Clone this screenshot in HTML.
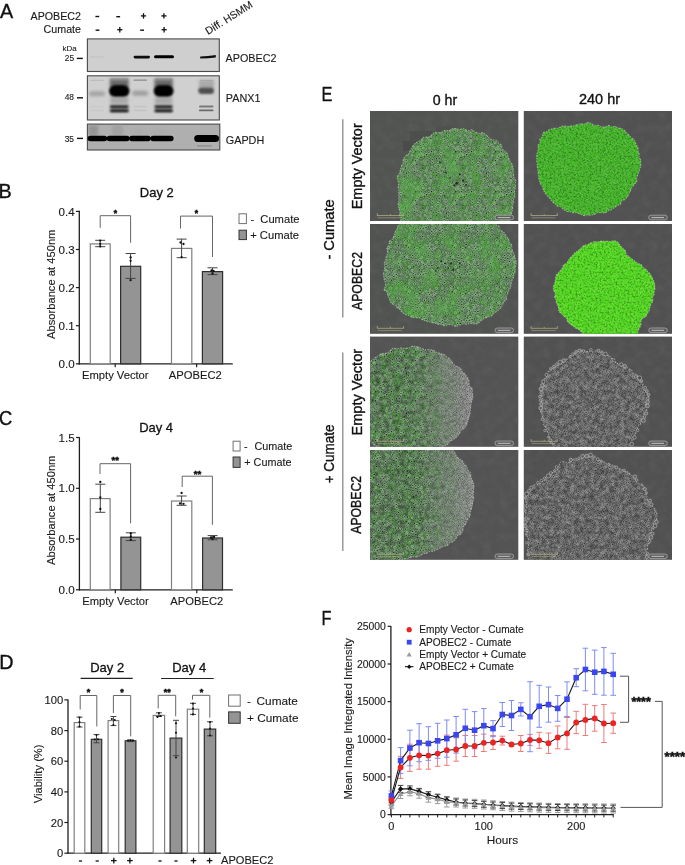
<!DOCTYPE html><html><head><meta charset="utf-8"><title>Figure</title><style>
html,body{margin:0;padding:0;background:#fff;overflow:hidden;}svg{display:block;will-change:transform;}
text{font-family:"Liberation Sans",sans-serif;}
</style></head><body>
<svg width="685" height="865" viewBox="0 0 685 865">
<rect width="685" height="865" fill="#fff"/>
<defs>
<filter id="blur1" x="-20%" y="-50%" width="140%" height="200%"><feGaussianBlur stdDeviation="0.9"/></filter>
<filter id="blur2" x="-20%" y="-80%" width="140%" height="260%"><feGaussianBlur stdDeviation="1.6"/></filter>
<filter id="blur3" x="-30%" y="-100%" width="160%" height="300%"><feGaussianBlur stdDeviation="2.5"/></filter>
<filter id="gp1" x="0" y="0" width="100%" height="100%" color-interpolation-filters="sRGB"><feTurbulence type="fractalNoise" baseFrequency="0.05" numOctaves="2" seed="31" result="n"/><feColorMatrix in="n" type="matrix" values="0 0 0 0 0.314  0 0 0 0 0.714  0 0 0 0 0.235  0 1.2 0 0 -0.500" result="m"/><feComposite in="m" in2="SourceGraphic" operator="in"/></filter>
<filter id="gp2" x="0" y="0" width="100%" height="100%" color-interpolation-filters="sRGB"><feTurbulence type="fractalNoise" baseFrequency="0.05" numOctaves="2" seed="37" result="n"/><feColorMatrix in="n" type="matrix" values="0 0 0 0 0.314  0 0 0 0 0.714  0 0 0 0 0.235  0 1.2 0 0 -0.500" result="m"/><feComposite in="m" in2="SourceGraphic" operator="in"/></filter>
</defs>
<text x="0" y="0" font-size="20.4" text-anchor="start" fill="#111" stroke="#111" stroke-width="0.35" transform="translate(0.0,18.0) scale(0.97,1)">A</text>
<text x="81.0" y="19.8" font-size="10.7" text-anchor="end" fill="#1a1a1a" stroke="#1a1a1a" stroke-width="0.12" >APOBEC2</text>
<text x="81.0" y="33.4" font-size="10.7" text-anchor="end" fill="#1a1a1a" stroke="#1a1a1a" stroke-width="0.12" >Cumate</text>
<line x1="95.4" y1="16.5" x2="99.2" y2="16.5" stroke="#111" stroke-width="1.4" />
<line x1="116.3" y1="16.7" x2="120.1" y2="16.7" stroke="#111" stroke-width="1.4" />
<line x1="140.9" y1="15.9" x2="146.1" y2="15.9" stroke="#111" stroke-width="1.3" />
<line x1="143.5" y1="13.2" x2="143.5" y2="18.6" stroke="#111" stroke-width="1.3" />
<line x1="161.3" y1="15.9" x2="166.5" y2="15.9" stroke="#111" stroke-width="1.3" />
<line x1="163.9" y1="13.2" x2="163.9" y2="18.6" stroke="#111" stroke-width="1.3" />
<line x1="95.6" y1="30.2" x2="99.4" y2="30.2" stroke="#111" stroke-width="1.4" />
<line x1="117.2" y1="29.7" x2="122.4" y2="29.7" stroke="#111" stroke-width="1.3" />
<line x1="119.8" y1="27.0" x2="119.8" y2="32.4" stroke="#111" stroke-width="1.3" />
<line x1="140.2" y1="30.2" x2="144.0" y2="30.2" stroke="#111" stroke-width="1.4" />
<line x1="161.5" y1="29.7" x2="166.7" y2="29.7" stroke="#111" stroke-width="1.3" />
<line x1="164.1" y1="27.0" x2="164.1" y2="32.4" stroke="#111" stroke-width="1.3" />
<text x="0" y="0" font-size="10.5" fill="#1a1a1a" stroke="#1a1a1a" stroke-width="0.12" transform="translate(208.0,35.0) rotate(-32)">Diff. HSMM</text>
<text x="62.6" y="50.5" font-size="7.9" text-anchor="start" fill="#222" stroke="#222" stroke-width="0.12" >kDa</text>
<text x="74.2" y="61.4" font-size="8.4" text-anchor="end" fill="#222" stroke="#222" stroke-width="0.12" >25</text>
<text x="74.0" y="100.3" font-size="8.4" text-anchor="end" fill="#222" stroke="#222" stroke-width="0.12" >48</text>
<text x="74.0" y="141.6" font-size="8.4" text-anchor="end" fill="#222" stroke="#222" stroke-width="0.12" >35</text>
<line x1="76.8" y1="58.4" x2="82.8" y2="58.4" stroke="#111" stroke-width="1.4" />
<line x1="77.0" y1="97.8" x2="83.0" y2="97.8" stroke="#111" stroke-width="1.4" />
<line x1="77.0" y1="138.4" x2="83.0" y2="138.4" stroke="#111" stroke-width="1.4" />
<text x="225.5" y="62.0" font-size="10.8" text-anchor="start" fill="#1a1a1a" stroke="#1a1a1a" stroke-width="0.12" >APOBEC2</text>
<text x="225.8" y="102.1" font-size="10.8" text-anchor="start" fill="#1a1a1a" stroke="#1a1a1a" stroke-width="0.12" >PANX1</text>
<text x="225.8" y="144.1" font-size="10.8" text-anchor="start" fill="#1a1a1a" stroke="#1a1a1a" stroke-width="0.12" >GAPDH</text>
<rect x="87.4" y="38.9" width="131.9" height="32.6" fill="#cfcfcf" stroke="#4a4a4a" stroke-width="1.1"/>
<rect x="87.4" y="75.8" width="131.9" height="44.2" fill="#d0d0d0" stroke="#4a4a4a" stroke-width="1.1"/>
<rect x="87.4" y="124.1" width="132.4" height="25.9" fill="#afafaf" stroke="#4a4a4a" stroke-width="1.1"/>
<defs><filter id="bl04" x="-20%" y="-100%" width="140%" height="300%"><feGaussianBlur stdDeviation="0.45"/></filter><filter id="bl06" x="-20%" y="-100%" width="140%" height="300%"><feGaussianBlur stdDeviation="0.6"/></filter><filter id="bl10" x="-30%" y="-100%" width="160%" height="300%"><feGaussianBlur stdDeviation="1.0"/></filter><filter id="bl15" x="-30%" y="-100%" width="160%" height="300%"><feGaussianBlur stdDeviation="1.5"/></filter><filter id="bl25" x="-40%" y="-100%" width="180%" height="300%"><feGaussianBlur stdDeviation="2.5"/></filter></defs>
<rect x="133.6" y="55.7" width="16.4" height="2.8" rx="1.4" fill="#0a0a0a" opacity="1" filter="url(#bl04)"/>
<rect x="154.0" y="55.2" width="20.0" height="3.0" rx="1.5" fill="#050505" opacity="1" filter="url(#bl04)"/>
<path d="M200.2,56.6 Q208,56.4 215.8,55.0 L215.8,57.4 Q208,58.4 200.2,58.6 Z" fill="#111" filter="url(#bl04)"/>
<rect x="90.0" y="56.2" width="14.0" height="1.2" rx="0.6" fill="#c4c4c4" opacity="1" filter="url(#bl06)"/>
<rect x="109.8" y="78.5" width="18.9" height="9" fill="#5a5a5a" opacity="0.85" filter="url(#bl15)"/>
<rect x="109.0" y="85.0" width="20.5" height="12.0" rx="6.0" fill="#020202" opacity="1" filter="url(#bl10)"/>
<rect x="109.8" y="105.0" width="18.9" height="3.6" rx="1.8" fill="#2a2a2a" opacity="1" filter="url(#bl10)"/>
<rect x="109.8" y="109.2" width="18.9" height="3.0" rx="1.5" fill="#0a0a0a" opacity="1" filter="url(#bl10)"/>
<rect x="110.3" y="97" width="17.9" height="7" fill="#888" opacity="0.55" filter="url(#bl15)"/>
<rect x="110.3" y="79.3" width="17.9" height="1.3" rx="0.7" fill="#8a8a8a" opacity="1" filter="url(#bl06)"/>
<rect x="154.4" y="78.5" width="18.4" height="9" fill="#5a5a5a" opacity="0.85" filter="url(#bl15)"/>
<rect x="153.6" y="85.0" width="20.0" height="12.0" rx="6.0" fill="#020202" opacity="1" filter="url(#bl10)"/>
<rect x="154.4" y="105.0" width="18.4" height="3.6" rx="1.8" fill="#2a2a2a" opacity="1" filter="url(#bl10)"/>
<rect x="154.4" y="109.2" width="18.4" height="3.0" rx="1.5" fill="#0a0a0a" opacity="1" filter="url(#bl10)"/>
<rect x="154.9" y="97" width="17.4" height="7" fill="#888" opacity="0.55" filter="url(#bl15)"/>
<rect x="154.9" y="79.3" width="17.4" height="1.3" rx="0.7" fill="#8a8a8a" opacity="1" filter="url(#bl06)"/>
<rect x="89.0" y="91.3" width="16.0" height="5.0" rx="2.5" fill="#a4a4a4" opacity="1" filter="url(#bl15)"/>
<rect x="132.2" y="90.7" width="16.0" height="5.0" rx="2.5" fill="#9e9e9e" opacity="1" filter="url(#bl15)"/>
<rect x="133.5" y="79.6" width="13.5" height="1.2" rx="0.6" fill="#8a8a8a" opacity="1" filter="url(#bl04)"/>
<rect x="90.0" y="79.7" width="14.0" height="1.0" rx="0.5" fill="#b8b8b8" opacity="1" filter="url(#bl04)"/>
<rect x="133.5" y="105.7" width="13.5" height="1.6" rx="0.8" fill="#c4c4c4" opacity="1" filter="url(#bl06)"/>
<rect x="133.5" y="109.8" width="13.5" height="1.4" rx="0.7" fill="#c2c2c2" opacity="1" filter="url(#bl06)"/>
<rect x="90.0" y="105.8" width="14.0" height="1.4" rx="0.7" fill="#cacaca" opacity="1" filter="url(#bl06)"/>
<rect x="90.0" y="109.8" width="14.0" height="1.4" rx="0.7" fill="#c8c8c8" opacity="1" filter="url(#bl06)"/>
<rect x="199" y="80" width="15" height="8" fill="#9a9a9a" opacity="0.7" filter="url(#bl15)"/>
<rect x="198.3" y="87.5" width="15.7" height="6.5" rx="3.2" fill="#505050" opacity="1" filter="url(#bl10)"/>
<rect x="199.0" y="105.6" width="14.5" height="2.0" rx="1.0" fill="#7a7a7a" opacity="1" filter="url(#bl06)"/>
<rect x="199.0" y="109.5" width="14.5" height="1.8" rx="0.9" fill="#6a6a6a" opacity="1" filter="url(#bl06)"/>
<rect x="200.0" y="80.1" width="13.0" height="1.0" rx="0.5" fill="#a8a8a8" opacity="1" filter="url(#bl04)"/>
<rect x="89" y="125" width="9" height="11" fill="#8a8a8a" opacity="0.7" filter="url(#bl15)"/>
<rect x="112" y="125" width="11" height="11" fill="#999" opacity="0.6" filter="url(#bl15)"/>
<rect x="134" y="126" width="9" height="9" fill="#aaa" opacity="0.4" filter="url(#bl15)"/>
<rect x="154" y="126" width="10" height="9" fill="#aaa" opacity="0.4" filter="url(#bl15)"/>
<rect x="87.6" y="135.8" width="19.6" height="5.4" rx="2.7" fill="#030303" opacity="1" filter="url(#bl06)"/>
<rect x="106.6" y="135.8" width="23.0" height="5.4" rx="2.7" fill="#030303" opacity="1" filter="url(#bl06)"/>
<rect x="129.2" y="135.8" width="21.6" height="5.4" rx="2.7" fill="#030303" opacity="1" filter="url(#bl06)"/>
<rect x="150.4" y="135.8" width="23.2" height="5.4" rx="2.7" fill="#030303" opacity="1" filter="url(#bl06)"/>
<rect x="194.2" y="134.9" width="24.8" height="7.0" rx="3.5" fill="#020202" opacity="1" filter="url(#bl06)"/>
<rect x="197.0" y="145.2" width="15.0" height="1.2" rx="0.6" fill="#8a8a8a" opacity="1" filter="url(#bl06)"/>
<text x="0" y="0" font-size="19.8" text-anchor="start" fill="#111" stroke="#111" stroke-width="0.35" transform="translate(-1.6,197.7) scale(1.0,1)">B</text>
<text x="0" y="0" font-size="13.4" text-anchor="middle" fill="#111" stroke="#111" stroke-width="0.3" transform="translate(156.8,197.3) scale(0.97,1)">Day 2</text>
<line x1="79.3" y1="210.8" x2="79.3" y2="364.4" stroke="#1e1e1e" stroke-width="1.3" />
<line x1="78.7" y1="363.8" x2="232.8" y2="363.8" stroke="#1e1e1e" stroke-width="1.3" />
<line x1="75.9" y1="363.8" x2="79.3" y2="363.8" stroke="#1e1e1e" stroke-width="1.2" />
<text x="74.6" y="367.9" font-size="11.6" text-anchor="end" fill="#1a1a1a" stroke="#1a1a1a" stroke-width="0.12" >0.0</text>
<line x1="75.9" y1="325.7" x2="79.3" y2="325.7" stroke="#1e1e1e" stroke-width="1.2" />
<text x="74.6" y="329.8" font-size="11.6" text-anchor="end" fill="#1a1a1a" stroke="#1a1a1a" stroke-width="0.12" >0.1</text>
<line x1="75.9" y1="287.6" x2="79.3" y2="287.6" stroke="#1e1e1e" stroke-width="1.2" />
<text x="74.6" y="291.7" font-size="11.6" text-anchor="end" fill="#1a1a1a" stroke="#1a1a1a" stroke-width="0.12" >0.2</text>
<line x1="75.9" y1="249.5" x2="79.3" y2="249.5" stroke="#1e1e1e" stroke-width="1.2" />
<text x="74.6" y="253.6" font-size="11.6" text-anchor="end" fill="#1a1a1a" stroke="#1a1a1a" stroke-width="0.12" >0.3</text>
<line x1="75.9" y1="211.4" x2="79.3" y2="211.4" stroke="#1e1e1e" stroke-width="1.2" />
<text x="74.6" y="215.5" font-size="11.6" text-anchor="end" fill="#1a1a1a" stroke="#1a1a1a" stroke-width="0.12" >0.4</text>
<line x1="115.2" y1="363.8" x2="115.2" y2="367.2" stroke="#1e1e1e" stroke-width="1.2" />
<line x1="196.6" y1="363.8" x2="196.6" y2="367.2" stroke="#1e1e1e" stroke-width="1.2" />
<text x="0" y="0" font-size="11.2" fill="#1a1a1a" stroke="#1a1a1a" stroke-width="0.12" text-anchor="middle" transform="translate(55.2,284.3) rotate(-90)">Absorbance at 450nm</text>
<text x="115.3" y="379.2" font-size="11.2" text-anchor="middle" fill="#1a1a1a" stroke="#1a1a1a" stroke-width="0.12" >Empty Vector</text>
<text x="195.3" y="379.2" font-size="11.2" text-anchor="middle" fill="#1a1a1a" stroke="#1a1a1a" stroke-width="0.12" >APOBEC2</text>
<rect x="90.3" y="243.9" width="19.9" height="119.9" fill="#fff" stroke="#808080" stroke-width="1.2"/>
<rect x="120.6" y="266.3" width="20.1" height="97.5" fill="#949494" stroke="#2e2e2e" stroke-width="1.2"/>
<rect x="171.5" y="248.4" width="20.3" height="115.4" fill="#fff" stroke="#808080" stroke-width="1.2"/>
<rect x="202.4" y="271.6" width="20.2" height="92.2" fill="#949494" stroke="#2e2e2e" stroke-width="1.2"/>
<line x1="100.2" y1="240.3" x2="100.2" y2="246.7" stroke="#444" stroke-width="1.0" />
<line x1="95.2" y1="240.3" x2="105.2" y2="240.3" stroke="#444" stroke-width="1.0" />
<line x1="95.2" y1="246.7" x2="105.2" y2="246.7" stroke="#444" stroke-width="1.0" />
<circle cx="100.2" cy="240.6" r="1.15" fill="#111"/>
<circle cx="100.2" cy="243.8" r="1.15" fill="#111"/>
<circle cx="100.2" cy="246.4" r="1.15" fill="#111"/>
<line x1="130.6" y1="253.5" x2="130.6" y2="278.4" stroke="#444" stroke-width="1.0" />
<line x1="125.6" y1="253.5" x2="135.6" y2="253.5" stroke="#444" stroke-width="1.0" />
<line x1="125.6" y1="278.4" x2="135.6" y2="278.4" stroke="#444" stroke-width="1.0" />
<circle cx="130.6" cy="257.5" r="1.15" fill="#111"/>
<circle cx="130.6" cy="260.8" r="1.15" fill="#111"/>
<circle cx="130.6" cy="280.2" r="1.15" fill="#111"/>
<line x1="181.6" y1="239.1" x2="181.6" y2="257.7" stroke="#444" stroke-width="1.0" />
<line x1="176.6" y1="239.1" x2="186.6" y2="239.1" stroke="#444" stroke-width="1.0" />
<line x1="176.6" y1="257.7" x2="186.6" y2="257.7" stroke="#444" stroke-width="1.0" />
<circle cx="180.5" cy="242.5" r="1.15" fill="#111"/>
<circle cx="183.5" cy="244.0" r="1.15" fill="#111"/>
<circle cx="181.6" cy="257.2" r="1.15" fill="#111"/>
<line x1="212.5" y1="267.8" x2="212.5" y2="274.6" stroke="#444" stroke-width="1.0" />
<line x1="207.5" y1="267.8" x2="217.5" y2="267.8" stroke="#444" stroke-width="1.0" />
<line x1="207.5" y1="274.6" x2="217.5" y2="274.6" stroke="#444" stroke-width="1.0" />
<circle cx="211.5" cy="270.5" r="1.15" fill="#111"/>
<circle cx="213.5" cy="271.0" r="1.15" fill="#111"/>
<circle cx="212.5" cy="273.5" r="1.15" fill="#111"/>
<polyline points="100.2,227.8 100.2,215.7 130.6,215.7 130.6,242.8" fill="none" stroke="#666" stroke-width="1.0" />
<polyline points="180.5,228.6 180.5,216.1 212.5,216.1 212.5,257.0" fill="none" stroke="#666" stroke-width="1.0" />
<text x="115.3" y="215.6" font-size="8.5" text-anchor="middle" fill="#111" font-weight="bold" stroke="#111" stroke-width="0.55">*</text>
<text x="196.5" y="216.0" font-size="8.5" text-anchor="middle" fill="#111" font-weight="bold" stroke="#111" stroke-width="0.55">*</text>
<rect x="239.0" y="213.8" width="7.4" height="9.8" fill="#fff" stroke="#707070" stroke-width="1"/>
<rect x="239.0" y="230.2" width="7.4" height="9.4" fill="#949494" stroke="#333" stroke-width="1"/>
<text x="250.6" y="222.8" font-size="11.2" text-anchor="start" fill="#1a1a1a" stroke="#1a1a1a" stroke-width="0.12" >-</text>
<text x="260.3" y="222.8" font-size="11.2" text-anchor="start" fill="#1a1a1a" stroke="#1a1a1a" stroke-width="0.12" >Cumate</text>
<text x="250.2" y="239.0" font-size="11.2" text-anchor="start" fill="#1a1a1a" stroke="#1a1a1a" stroke-width="0.12" >+ Cumate</text>
<text x="0" y="0" font-size="19.8" text-anchor="start" fill="#111" stroke="#111" stroke-width="0.35" transform="translate(-0.9,425.1) scale(0.93,1)">C</text>
<text x="0" y="0" font-size="13.4" text-anchor="middle" fill="#111" stroke="#111" stroke-width="0.3" transform="translate(156.1,432.3) scale(0.97,1)">Day 4</text>
<line x1="79.4" y1="437.1" x2="79.4" y2="590.4" stroke="#1e1e1e" stroke-width="1.3" />
<line x1="78.8" y1="589.8" x2="232.8" y2="589.8" stroke="#1e1e1e" stroke-width="1.3" />
<line x1="76.0" y1="589.8" x2="79.4" y2="589.8" stroke="#1e1e1e" stroke-width="1.2" />
<text x="74.6" y="593.9" font-size="11.6" text-anchor="end" fill="#1a1a1a" stroke="#1a1a1a" stroke-width="0.12" >0.0</text>
<line x1="76.0" y1="539.0" x2="79.4" y2="539.0" stroke="#1e1e1e" stroke-width="1.2" />
<text x="74.6" y="543.1" font-size="11.6" text-anchor="end" fill="#1a1a1a" stroke="#1a1a1a" stroke-width="0.12" >0.5</text>
<line x1="76.0" y1="488.3" x2="79.4" y2="488.3" stroke="#1e1e1e" stroke-width="1.2" />
<text x="74.6" y="492.4" font-size="11.6" text-anchor="end" fill="#1a1a1a" stroke="#1a1a1a" stroke-width="0.12" >1.0</text>
<line x1="76.0" y1="437.5" x2="79.4" y2="437.5" stroke="#1e1e1e" stroke-width="1.2" />
<text x="74.6" y="441.6" font-size="11.6" text-anchor="end" fill="#1a1a1a" stroke="#1a1a1a" stroke-width="0.12" >1.5</text>
<line x1="115.3" y1="589.8" x2="115.3" y2="593.2" stroke="#1e1e1e" stroke-width="1.2" />
<line x1="196.8" y1="589.8" x2="196.8" y2="593.2" stroke="#1e1e1e" stroke-width="1.2" />
<text x="0" y="0" font-size="11.2" fill="#1a1a1a" stroke="#1a1a1a" stroke-width="0.12" text-anchor="middle" transform="translate(55.0,510.3) rotate(-90)">Absorbance at 450nm</text>
<text x="115.5" y="605.3" font-size="11.2" text-anchor="middle" fill="#1a1a1a" stroke="#1a1a1a" stroke-width="0.12" >Empty Vector</text>
<text x="196.8" y="605.3" font-size="11.2" text-anchor="middle" fill="#1a1a1a" stroke="#1a1a1a" stroke-width="0.12" >APOBEC2</text>
<rect x="90.3" y="498.6" width="19.8" height="91.2" fill="#fff" stroke="#808080" stroke-width="1.2"/>
<rect x="120.9" y="537.2" width="19.8" height="52.6" fill="#949494" stroke="#2e2e2e" stroke-width="1.2"/>
<rect x="171.5" y="501.0" width="20.3" height="88.8" fill="#fff" stroke="#808080" stroke-width="1.2"/>
<rect x="202.6" y="538.0" width="19.9" height="51.8" fill="#949494" stroke="#2e2e2e" stroke-width="1.2"/>
<line x1="100.3" y1="484.2" x2="100.3" y2="512.3" stroke="#444" stroke-width="1.0" />
<line x1="95.3" y1="484.2" x2="105.3" y2="484.2" stroke="#444" stroke-width="1.0" />
<line x1="95.3" y1="512.3" x2="105.3" y2="512.3" stroke="#444" stroke-width="1.0" />
<circle cx="100.3" cy="482.0" r="1.15" fill="#111"/>
<circle cx="100.3" cy="497.5" r="1.15" fill="#111"/>
<circle cx="100.3" cy="509.0" r="1.15" fill="#111"/>
<line x1="130.8" y1="532.8" x2="130.8" y2="540.6" stroke="#444" stroke-width="1.0" />
<line x1="125.8" y1="532.8" x2="135.8" y2="532.8" stroke="#444" stroke-width="1.0" />
<line x1="125.8" y1="540.6" x2="135.8" y2="540.6" stroke="#444" stroke-width="1.0" />
<circle cx="130.8" cy="533.5" r="1.15" fill="#111"/>
<circle cx="130.8" cy="536.5" r="1.15" fill="#111"/>
<circle cx="130.8" cy="539.8" r="1.15" fill="#111"/>
<line x1="181.6" y1="496.0" x2="181.6" y2="505.3" stroke="#444" stroke-width="1.0" />
<line x1="176.6" y1="496.0" x2="186.6" y2="496.0" stroke="#444" stroke-width="1.0" />
<line x1="176.6" y1="505.3" x2="186.6" y2="505.3" stroke="#444" stroke-width="1.0" />
<circle cx="181.6" cy="493.0" r="1.15" fill="#111"/>
<circle cx="180.0" cy="503.5" r="1.15" fill="#111"/>
<circle cx="183.5" cy="503.8" r="1.15" fill="#111"/>
<line x1="212.6" y1="535.6" x2="212.6" y2="539.8" stroke="#444" stroke-width="1.0" />
<line x1="207.6" y1="535.6" x2="217.6" y2="535.6" stroke="#444" stroke-width="1.0" />
<line x1="207.6" y1="539.8" x2="217.6" y2="539.8" stroke="#444" stroke-width="1.0" />
<circle cx="211.0" cy="537.5" r="1.15" fill="#111"/>
<circle cx="214.0" cy="537.0" r="1.15" fill="#111"/>
<circle cx="212.5" cy="539.0" r="1.15" fill="#111"/>
<polyline points="100.0,473.9 100.0,463.7 130.6,463.7 130.6,523.4" fill="none" stroke="#666" stroke-width="1.0" />
<polyline points="182.2,487.0 182.2,476.2 212.4,476.2 212.4,524.9" fill="none" stroke="#666" stroke-width="1.0" />
<text x="115.3" y="463.0" font-size="9.5" text-anchor="middle" fill="#111" font-weight="bold" stroke="#111" stroke-width="0.55">**</text>
<text x="197.4" y="476.5" font-size="9.5" text-anchor="middle" fill="#111" font-weight="bold" stroke="#111" stroke-width="0.55">**</text>
<rect x="233.1" y="441.2" width="7.0" height="9.8" fill="#fff" stroke="#707070" stroke-width="1"/>
<rect x="233.1" y="457.0" width="7.0" height="10.4" fill="#949494" stroke="#333" stroke-width="1"/>
<text x="244.0" y="450.3" font-size="10.8" text-anchor="start" fill="#1a1a1a" stroke="#1a1a1a" stroke-width="0.12" >-</text>
<text x="254.5" y="450.3" font-size="10.8" text-anchor="start" fill="#1a1a1a" stroke="#1a1a1a" stroke-width="0.12" >Cumate</text>
<text x="244.3" y="466.3" font-size="10.8" text-anchor="start" fill="#1a1a1a" stroke="#1a1a1a" stroke-width="0.12" >+ Cumate</text>
<text x="0" y="0" font-size="19.8" text-anchor="start" fill="#111" stroke="#111" stroke-width="0.35" transform="translate(-0.8,668.5) scale(1.0,1)">D</text>
<text x="0" y="0" font-size="13.4" text-anchor="middle" fill="#111" stroke="#111" stroke-width="0.3" transform="translate(107.2,671.9) scale(0.97,1)">Day 2</text>
<text x="0" y="0" font-size="13.4" text-anchor="middle" fill="#111" stroke="#111" stroke-width="0.3" transform="translate(189.2,672.3) scale(0.97,1)">Day 4</text>
<line x1="80.6" y1="678.4" x2="132.7" y2="678.4" stroke="#222" stroke-width="1.2" />
<line x1="161.1" y1="678.5" x2="213.7" y2="678.5" stroke="#222" stroke-width="1.2" />
<line x1="68.0" y1="699.6" x2="68.0" y2="853.8" stroke="#1e1e1e" stroke-width="1.3" />
<line x1="67.4" y1="853.2" x2="221.0" y2="853.2" stroke="#1e1e1e" stroke-width="1.3" />
<line x1="64.4" y1="853.2" x2="68.0" y2="853.2" stroke="#1e1e1e" stroke-width="1.2" />
<text x="63.2" y="857.2" font-size="11.2" text-anchor="end" fill="#1a1a1a" stroke="#1a1a1a" stroke-width="0.12" >0</text>
<line x1="64.4" y1="822.5" x2="68.0" y2="822.5" stroke="#1e1e1e" stroke-width="1.2" />
<text x="63.2" y="826.5" font-size="11.2" text-anchor="end" fill="#1a1a1a" stroke="#1a1a1a" stroke-width="0.12" >20</text>
<line x1="64.4" y1="791.9" x2="68.0" y2="791.9" stroke="#1e1e1e" stroke-width="1.2" />
<text x="63.2" y="795.9" font-size="11.2" text-anchor="end" fill="#1a1a1a" stroke="#1a1a1a" stroke-width="0.12" >40</text>
<line x1="64.4" y1="761.2" x2="68.0" y2="761.2" stroke="#1e1e1e" stroke-width="1.2" />
<text x="63.2" y="765.2" font-size="11.2" text-anchor="end" fill="#1a1a1a" stroke="#1a1a1a" stroke-width="0.12" >60</text>
<line x1="64.4" y1="730.6" x2="68.0" y2="730.6" stroke="#1e1e1e" stroke-width="1.2" />
<text x="63.2" y="734.6" font-size="11.2" text-anchor="end" fill="#1a1a1a" stroke="#1a1a1a" stroke-width="0.12" >80</text>
<line x1="64.4" y1="699.9" x2="68.0" y2="699.9" stroke="#1e1e1e" stroke-width="1.2" />
<text x="63.2" y="703.9" font-size="11.2" text-anchor="end" fill="#1a1a1a" stroke="#1a1a1a" stroke-width="0.12" >100</text>
<text x="0" y="0" font-size="11.2" fill="#1a1a1a" stroke="#1a1a1a" stroke-width="0.12" text-anchor="middle" transform="translate(41.9,773.9) rotate(-90)">Viability (%)</text>
<rect x="74.2" y="722.6" width="10.6" height="130.6" fill="#fff" stroke="#808080" stroke-width="1.2"/>
<rect x="91.3" y="739.3" width="10.4" height="113.9" fill="#949494" stroke="#2e2e2e" stroke-width="1.2"/>
<rect x="108.1" y="720.6" width="10.6" height="132.6" fill="#fff" stroke="#808080" stroke-width="1.2"/>
<rect x="125.2" y="740.8" width="10.7" height="112.4" fill="#949494" stroke="#2e2e2e" stroke-width="1.2"/>
<rect x="153.2" y="715.4" width="11.4" height="137.8" fill="#fff" stroke="#808080" stroke-width="1.2"/>
<rect x="170.1" y="738.1" width="11.7" height="115.1" fill="#949494" stroke="#2e2e2e" stroke-width="1.2"/>
<rect x="187.3" y="709.2" width="11.4" height="144.0" fill="#fff" stroke="#808080" stroke-width="1.2"/>
<rect x="204.3" y="729.1" width="11.4" height="124.1" fill="#949494" stroke="#2e2e2e" stroke-width="1.2"/>
<line x1="79.5" y1="717.1" x2="79.5" y2="727.0" stroke="#444" stroke-width="1.0" />
<line x1="76.5" y1="717.1" x2="82.5" y2="717.1" stroke="#444" stroke-width="1.0" />
<line x1="76.5" y1="727.0" x2="82.5" y2="727.0" stroke="#444" stroke-width="1.0" />
<line x1="96.5" y1="734.6" x2="96.5" y2="742.8" stroke="#444" stroke-width="1.0" />
<line x1="93.5" y1="734.6" x2="99.5" y2="734.6" stroke="#444" stroke-width="1.0" />
<line x1="93.5" y1="742.8" x2="99.5" y2="742.8" stroke="#444" stroke-width="1.0" />
<line x1="113.4" y1="716.5" x2="113.4" y2="725.6" stroke="#444" stroke-width="1.0" />
<line x1="110.4" y1="716.5" x2="116.4" y2="716.5" stroke="#444" stroke-width="1.0" />
<line x1="110.4" y1="725.6" x2="116.4" y2="725.6" stroke="#444" stroke-width="1.0" />
<line x1="130.5" y1="740.0" x2="130.5" y2="741.6" stroke="#444" stroke-width="1.0" />
<line x1="127.5" y1="740.0" x2="133.5" y2="740.0" stroke="#444" stroke-width="1.0" />
<line x1="127.5" y1="741.6" x2="133.5" y2="741.6" stroke="#444" stroke-width="1.0" />
<line x1="158.9" y1="712.8" x2="158.9" y2="716.5" stroke="#444" stroke-width="1.0" />
<line x1="155.9" y1="712.8" x2="161.9" y2="712.8" stroke="#444" stroke-width="1.0" />
<line x1="155.9" y1="716.5" x2="161.9" y2="716.5" stroke="#444" stroke-width="1.0" />
<line x1="176.0" y1="720.3" x2="176.0" y2="755.7" stroke="#444" stroke-width="1.0" />
<line x1="173.0" y1="720.3" x2="179.0" y2="720.3" stroke="#444" stroke-width="1.0" />
<line x1="173.0" y1="755.7" x2="179.0" y2="755.7" stroke="#444" stroke-width="1.0" />
<line x1="193.0" y1="703.3" x2="193.0" y2="714.4" stroke="#444" stroke-width="1.0" />
<line x1="190.0" y1="703.3" x2="196.0" y2="703.3" stroke="#444" stroke-width="1.0" />
<line x1="190.0" y1="714.4" x2="196.0" y2="714.4" stroke="#444" stroke-width="1.0" />
<line x1="210.0" y1="721.8" x2="210.0" y2="735.8" stroke="#444" stroke-width="1.0" />
<line x1="207.0" y1="721.8" x2="213.0" y2="721.8" stroke="#444" stroke-width="1.0" />
<line x1="207.0" y1="735.8" x2="213.0" y2="735.8" stroke="#444" stroke-width="1.0" />
<circle cx="79.5" cy="717.5" r="1.05" fill="#111"/>
<circle cx="79.5" cy="722.0" r="1.05" fill="#111"/>
<circle cx="79.5" cy="726.5" r="1.05" fill="#111"/>
<circle cx="94.8" cy="739.5" r="1.05" fill="#111"/>
<circle cx="98.0" cy="739.3" r="1.05" fill="#111"/>
<circle cx="96.5" cy="735.0" r="1.05" fill="#111"/>
<circle cx="111.8" cy="719.0" r="1.05" fill="#111"/>
<circle cx="114.8" cy="720.0" r="1.05" fill="#111"/>
<circle cx="113.4" cy="725.0" r="1.05" fill="#111"/>
<circle cx="128.0" cy="740.6" r="1.05" fill="#111"/>
<circle cx="130.5" cy="740.4" r="1.05" fill="#111"/>
<circle cx="133.0" cy="740.5" r="1.05" fill="#111"/>
<circle cx="157.5" cy="717.0" r="1.05" fill="#111"/>
<circle cx="160.5" cy="716.0" r="1.05" fill="#111"/>
<circle cx="158.9" cy="713.0" r="1.05" fill="#111"/>
<circle cx="176.0" cy="723.3" r="1.05" fill="#111"/>
<circle cx="176.0" cy="732.8" r="1.05" fill="#111"/>
<circle cx="176.0" cy="757.5" r="1.05" fill="#111"/>
<circle cx="193.0" cy="703.6" r="1.05" fill="#111"/>
<circle cx="193.0" cy="708.6" r="1.05" fill="#111"/>
<circle cx="193.0" cy="714.4" r="1.05" fill="#111"/>
<circle cx="210.0" cy="722.0" r="1.05" fill="#111"/>
<circle cx="210.0" cy="728.6" r="1.05" fill="#111"/>
<circle cx="210.0" cy="735.5" r="1.05" fill="#111"/>
<polyline points="80.2,709.5 80.2,695.5 96.8,695.5 96.8,726.5" fill="none" stroke="#666" stroke-width="1.0" />
<polyline points="113.4,713.0 113.4,695.5 130.7,695.5 130.7,736.4" fill="none" stroke="#666" stroke-width="1.0" />
<polyline points="158.2,708.4 158.2,695.3 175.7,695.3 175.7,716.3" fill="none" stroke="#666" stroke-width="1.0" />
<polyline points="192.5,699.6 192.5,695.3 209.8,695.3 209.8,717.7" fill="none" stroke="#666" stroke-width="1.0" />
<text x="88.5" y="695.0" font-size="9" text-anchor="middle" fill="#111" font-weight="bold" stroke="#111" stroke-width="0.55">*</text>
<text x="122.0" y="695.0" font-size="9" text-anchor="middle" fill="#111" font-weight="bold" stroke="#111" stroke-width="0.55">*</text>
<text x="167.3" y="695.0" font-size="9" text-anchor="middle" fill="#111" font-weight="bold" stroke="#111" stroke-width="0.55">**</text>
<text x="201.4" y="695.0" font-size="9" text-anchor="middle" fill="#111" font-weight="bold" stroke="#111" stroke-width="0.55">*</text>
<line x1="78.9" y1="861.0" x2="82.1" y2="861.0" stroke="#111" stroke-width="1.3" />
<line x1="95.6" y1="861.0" x2="98.8" y2="861.0" stroke="#111" stroke-width="1.3" />
<line x1="111.0" y1="860.6" x2="116.6" y2="860.6" stroke="#111" stroke-width="1.3" />
<line x1="113.8" y1="857.8" x2="113.8" y2="863.4" stroke="#111" stroke-width="1.3" />
<line x1="127.1" y1="860.6" x2="132.7" y2="860.6" stroke="#111" stroke-width="1.3" />
<line x1="129.9" y1="857.8" x2="129.9" y2="863.4" stroke="#111" stroke-width="1.3" />
<line x1="158.4" y1="861.0" x2="161.6" y2="861.0" stroke="#111" stroke-width="1.3" />
<line x1="174.4" y1="861.0" x2="177.6" y2="861.0" stroke="#111" stroke-width="1.3" />
<line x1="190.7" y1="860.6" x2="196.3" y2="860.6" stroke="#111" stroke-width="1.3" />
<line x1="193.5" y1="857.8" x2="193.5" y2="863.4" stroke="#111" stroke-width="1.3" />
<line x1="206.8" y1="860.6" x2="212.4" y2="860.6" stroke="#111" stroke-width="1.3" />
<line x1="209.6" y1="857.8" x2="209.6" y2="863.4" stroke="#111" stroke-width="1.3" />
<text x="221.0" y="864.3" font-size="11.1" text-anchor="start" fill="#1a1a1a" stroke="#1a1a1a" stroke-width="0.12" >APOBEC2</text>
<rect x="228.6" y="695.0" width="11.6" height="11.2" fill="#fff" stroke="#707070" stroke-width="1"/>
<rect x="228.6" y="711.9" width="11.6" height="11.4" fill="#949494" stroke="#333" stroke-width="1"/>
<text x="247.0" y="705.0" font-size="11.8" text-anchor="start" fill="#1a1a1a" stroke="#1a1a1a" stroke-width="0.12" >-</text>
<text x="256.6" y="705.0" font-size="11.8" text-anchor="start" fill="#1a1a1a" stroke="#1a1a1a" stroke-width="0.12" >Cumate</text>
<text x="247.0" y="722.0" font-size="11.8" text-anchor="start" fill="#1a1a1a" stroke="#1a1a1a" stroke-width="0.12" >+ Cumate</text>
<text x="0" y="0" font-size="20.4" text-anchor="start" fill="#111" stroke="#111" stroke-width="0.35" transform="translate(321.6,101.0) scale(0.8,1)">E</text>
<text x="444.9" y="104.8" font-size="14" text-anchor="middle" fill="#111" textLength="24.5" lengthAdjust="spacingAndGlyphs" stroke="#111" stroke-width="0.35">0 hr</text>
<text x="599.5" y="104.3" font-size="14" text-anchor="middle" fill="#111" textLength="41" lengthAdjust="spacingAndGlyphs" stroke="#111" stroke-width="0.35">240 hr</text>
<text x="0" y="0" font-size="15" fill="#111" stroke="#111" stroke-width="0.35" text-anchor="middle" textLength="86.0" lengthAdjust="spacingAndGlyphs" transform="translate(362.0,166.3) rotate(-90)">Empty Vector</text>
<text x="0" y="0" font-size="15" fill="#111" stroke="#111" stroke-width="0.35" text-anchor="middle" textLength="58.0" lengthAdjust="spacingAndGlyphs" transform="translate(361.9,281.0) rotate(-90)">APOBEC2</text>
<text x="0" y="0" font-size="15" fill="#111" stroke="#111" stroke-width="0.35" text-anchor="middle" textLength="86.6" lengthAdjust="spacingAndGlyphs" transform="translate(361.8,392.2) rotate(-90)">Empty Vector</text>
<text x="0" y="0" font-size="15" fill="#111" stroke="#111" stroke-width="0.35" text-anchor="middle" textLength="58.0" lengthAdjust="spacingAndGlyphs" transform="translate(361.4,504.8) rotate(-90)">APOBEC2</text>
<text x="0" y="0" font-size="15" fill="#111" stroke="#111" stroke-width="0.35" text-anchor="middle" textLength="60.2" lengthAdjust="spacingAndGlyphs" transform="translate(334.2,229.5) rotate(-90)">- Cumate</text>
<text x="0" y="0" font-size="15" fill="#111" stroke="#111" stroke-width="0.35" text-anchor="middle" textLength="58.9" lengthAdjust="spacingAndGlyphs" transform="translate(334.4,453.9) rotate(-90)">+ Cumate</text>
<line x1="342.8" y1="119.3" x2="342.8" y2="317.4" stroke="#8a8a8a" stroke-width="1.3" />
<line x1="342.8" y1="352.4" x2="342.8" y2="551.0" stroke="#8a8a8a" stroke-width="1.3" />
<clipPath id="cp00"><rect x="370.0" y="111.0" width="148.3" height="110.0"/></clipPath>
<clipPath id="cp01"><rect x="523.8" y="111.0" width="148.2" height="110.0"/></clipPath>
<clipPath id="cp10"><rect x="370.0" y="224.0" width="148.3" height="109.8"/></clipPath>
<clipPath id="cp11"><rect x="523.8" y="224.0" width="148.2" height="109.8"/></clipPath>
<clipPath id="cp20"><rect x="370.0" y="336.6" width="148.3" height="110.2"/></clipPath>
<clipPath id="cp21"><rect x="523.8" y="336.6" width="148.2" height="110.2"/></clipPath>
<clipPath id="cp30"><rect x="370.0" y="450.0" width="148.3" height="109.8"/></clipPath>
<clipPath id="cp31"><rect x="523.8" y="450.0" width="148.2" height="109.8"/></clipPath>
<defs><filter id="bgn" x="0" y="0" width="100%" height="100%" color-interpolation-filters="sRGB"><feTurbulence type="fractalNoise" baseFrequency="0.12" numOctaves="2" seed="91"/><feColorMatrix type="matrix" values="0 0 0 0 0.45  0 0 0 0 0.45  0 0 0 0 0.45  0.45 0 0 0 -0.17"/><feComposite in2="SourceGraphic" operator="in"/></filter></defs>
<defs>
<pattern id="pGa" width="40" height="40" patternUnits="userSpaceOnUse"><rect width="40" height="40" fill="#626262"/><g stroke="#c8c8c8" stroke-width="0.5"><circle cx="5.4" cy="33.9" r="1.2" fill="#3c3c3c"/><circle cx="30.6" cy="10.2" r="0.9" fill="#535353"/><circle cx="19.8" cy="18.0" r="1.2" fill="#535353"/><circle cx="26.1" cy="31.5" r="1.0" fill="#474747"/><circle cx="3.8" cy="1.1" r="1.1" fill="#474747"/><circle cx="3.8" cy="41.1" r="1.1" fill="#474747"/><circle cx="33.4" cy="17.3" r="1.2" fill="#5f5f5f"/><circle cx="30.5" cy="0.1" r="1.2" fill="#535353"/><circle cx="30.5" cy="40.1" r="1.2" fill="#535353"/><circle cx="17.8" cy="28.9" r="1.1" fill="#5f5f5f"/><circle cx="9.2" cy="-2.2" r="1.1" fill="#3c3c3c"/><circle cx="9.2" cy="37.8" r="1.1" fill="#3c3c3c"/><circle cx="36.1" cy="1.2" r="1.2" fill="#535353"/><circle cx="36.1" cy="41.2" r="1.2" fill="#535353"/><circle cx="1.0" cy="21.7" r="1.0" fill="#535353"/><circle cx="41.0" cy="21.7" r="1.0" fill="#535353"/><circle cx="-2.4" cy="15.2" r="1.2" fill="#5f5f5f"/><circle cx="37.6" cy="15.2" r="1.2" fill="#5f5f5f"/><circle cx="8.7" cy="16.9" r="1.2" fill="#474747"/><circle cx="1.2" cy="8.9" r="1.1" fill="#474747"/><circle cx="41.2" cy="8.9" r="1.1" fill="#474747"/><circle cx="17.5" cy="19.8" r="0.9" fill="#474747"/><circle cx="9.3" cy="9.2" r="1.0" fill="#474747"/><circle cx="11.6" cy="0.9" r="1.1" fill="#535353"/><circle cx="11.6" cy="40.9" r="1.1" fill="#535353"/><circle cx="33.5" cy="22.3" r="1.2" fill="#474747"/><circle cx="25.7" cy="7.4" r="1.2" fill="#5f5f5f"/><circle cx="-0.3" cy="34.4" r="1.2" fill="#535353"/><circle cx="39.7" cy="34.4" r="1.2" fill="#535353"/><circle cx="4.8" cy="13.3" r="1.2" fill="#535353"/><circle cx="28.9" cy="28.4" r="1.0" fill="#5f5f5f"/><circle cx="33.2" cy="26.8" r="0.9" fill="#5f5f5f"/><circle cx="12.1" cy="23.5" r="1.1" fill="#5f5f5f"/><circle cx="35.3" cy="33.8" r="1.1" fill="#474747"/><circle cx="20.2" cy="23.6" r="1.0" fill="#5f5f5f"/><circle cx="6.9" cy="22.0" r="1.1" fill="#535353"/><circle cx="15.0" cy="17.6" r="1.1" fill="#5f5f5f"/><circle cx="20.3" cy="31.1" r="1.2" fill="#5f5f5f"/><circle cx="19.6" cy="1.2" r="1.0" fill="#5f5f5f"/><circle cx="19.6" cy="41.2" r="1.0" fill="#5f5f5f"/><circle cx="1.7" cy="28.1" r="1.0" fill="#474747"/><circle cx="41.7" cy="28.1" r="1.0" fill="#474747"/><circle cx="-0.7" cy="23.7" r="1.2" fill="#474747"/><circle cx="39.3" cy="23.7" r="1.2" fill="#474747"/><circle cx="15.7" cy="6.8" r="1.2" fill="#535353"/><circle cx="30.8" cy="21.6" r="1.2" fill="#5f5f5f"/><circle cx="34.4" cy="9.3" r="1.0" fill="#5f5f5f"/><circle cx="20.6" cy="-1.9" r="1.0" fill="#474747"/><circle cx="20.6" cy="38.1" r="1.0" fill="#474747"/><circle cx="23.1" cy="18.4" r="1.0" fill="#535353"/><circle cx="31.3" cy="32.8" r="1.2" fill="#3c3c3c"/><circle cx="35.4" cy="29.6" r="1.2" fill="#535353"/><circle cx="22.8" cy="8.0" r="1.1" fill="#474747"/><circle cx="14.3" cy="13.8" r="1.2" fill="#3c3c3c"/><circle cx="10.2" cy="33.7" r="0.9" fill="#3c3c3c"/><circle cx="26.9" cy="3.3" r="1.0" fill="#474747"/><circle cx="0.7" cy="0.6" r="1.1" fill="#3c3c3c"/><circle cx="0.7" cy="40.6" r="1.1" fill="#3c3c3c"/><circle cx="40.7" cy="0.6" r="1.1" fill="#3c3c3c"/><circle cx="40.7" cy="40.6" r="1.1" fill="#3c3c3c"/><circle cx="4.4" cy="25.0" r="1.2" fill="#474747"/><circle cx="13.8" cy="2.8" r="1.2" fill="#474747"/><circle cx="13.8" cy="42.8" r="1.2" fill="#474747"/><circle cx="6.7" cy="10.9" r="1.2" fill="#3c3c3c"/><circle cx="28.5" cy="18.2" r="1.0" fill="#3c3c3c"/><circle cx="0.9" cy="15.5" r="0.9" fill="#535353"/><circle cx="40.9" cy="15.5" r="0.9" fill="#535353"/><circle cx="5.9" cy="28.8" r="0.9" fill="#3c3c3c"/><circle cx="27.1" cy="21.8" r="0.9" fill="#3c3c3c"/><circle cx="8.9" cy="25.9" r="0.9" fill="#3c3c3c"/><circle cx="15.8" cy="23.0" r="1.0" fill="#474747"/><circle cx="2.4" cy="11.9" r="1.2" fill="#474747"/><circle cx="42.4" cy="11.9" r="1.2" fill="#474747"/><circle cx="12.4" cy="-2.4" r="1.1" fill="#3c3c3c"/><circle cx="12.4" cy="37.6" r="1.1" fill="#3c3c3c"/><circle cx="32.8" cy="-1.5" r="1.0" fill="#3c3c3c"/><circle cx="32.8" cy="38.5" r="1.0" fill="#3c3c3c"/><circle cx="11.8" cy="20.0" r="1.2" fill="#474747"/><circle cx="13.0" cy="34.9" r="0.9" fill="#3c3c3c"/><circle cx="-0.5" cy="31.3" r="0.9" fill="#3c3c3c"/><circle cx="39.5" cy="31.3" r="0.9" fill="#3c3c3c"/><circle cx="13.6" cy="8.5" r="1.0" fill="#5f5f5f"/><circle cx="9.4" cy="29.0" r="0.9" fill="#5f5f5f"/><circle cx="3.4" cy="6.8" r="1.1" fill="#3c3c3c"/><circle cx="31.3" cy="15.1" r="1.2" fill="#5f5f5f"/><circle cx="-3.0" cy="18.3" r="1.2" fill="#474747"/><circle cx="37.0" cy="18.3" r="1.2" fill="#474747"/><circle cx="4.1" cy="36.4" r="1.0" fill="#474747"/><circle cx="15.1" cy="-1.2" r="0.9" fill="#535353"/><circle cx="15.1" cy="38.8" r="0.9" fill="#535353"/><circle cx="36.4" cy="11.8" r="1.2" fill="#3c3c3c"/><circle cx="-0.7" cy="11.8" r="1.0" fill="#474747"/><circle cx="39.3" cy="11.8" r="1.0" fill="#474747"/><circle cx="-1.2" cy="4.5" r="1.1" fill="#5f5f5f"/><circle cx="38.8" cy="4.5" r="1.1" fill="#5f5f5f"/><circle cx="26.1" cy="25.7" r="1.0" fill="#535353"/><circle cx="23.2" cy="23.8" r="0.9" fill="#535353"/><circle cx="9.8" cy="2.9" r="1.0" fill="#5f5f5f"/><circle cx="9.8" cy="42.9" r="1.0" fill="#5f5f5f"/><circle cx="22.0" cy="2.8" r="1.1" fill="#474747"/><circle cx="22.0" cy="42.8" r="1.1" fill="#474747"/><circle cx="19.7" cy="34.5" r="1.1" fill="#535353"/><circle cx="31.8" cy="3.1" r="0.9" fill="#474747"/><circle cx="-2.0" cy="6.9" r="0.9" fill="#5f5f5f"/><circle cx="38.0" cy="6.9" r="0.9" fill="#5f5f5f"/><circle cx="32.9" cy="12.8" r="1.1" fill="#3c3c3c"/><circle cx="4.3" cy="20.6" r="1.2" fill="#474747"/><circle cx="25.9" cy="16.7" r="1.1" fill="#3c3c3c"/><circle cx="19.2" cy="9.0" r="1.0" fill="#474747"/><circle cx="36.3" cy="36.7" r="1.1" fill="#535353"/><circle cx="27.7" cy="34.0" r="1.0" fill="#5f5f5f"/><circle cx="14.9" cy="28.1" r="1.0" fill="#3c3c3c"/><circle cx="17.8" cy="37.0" r="0.9" fill="#5f5f5f"/><circle cx="15.3" cy="11.4" r="1.0" fill="#3c3c3c"/><circle cx="22.9" cy="12.5" r="1.1" fill="#3c3c3c"/><circle cx="20.1" cy="14.3" r="0.9" fill="#3c3c3c"/><circle cx="12.2" cy="16.0" r="0.9" fill="#474747"/><circle cx="23.9" cy="35.3" r="0.9" fill="#3c3c3c"/><circle cx="16.2" cy="34.4" r="1.1" fill="#5f5f5f"/><circle cx="23.4" cy="29.4" r="1.0" fill="#5f5f5f"/><circle cx="16.9" cy="14.2" r="0.9" fill="#474747"/><circle cx="26.3" cy="0.8" r="1.1" fill="#5f5f5f"/><circle cx="26.3" cy="40.8" r="1.1" fill="#5f5f5f"/><circle cx="6.9" cy="31.6" r="1.0" fill="#3c3c3c"/><circle cx="31.4" cy="7.6" r="1.1" fill="#3c3c3c"/><circle cx="21.1" cy="5.5" r="1.2" fill="#474747"/><circle cx="28.7" cy="12.2" r="1.2" fill="#5f5f5f"/><circle cx="4.3" cy="15.9" r="1.0" fill="#3c3c3c"/><circle cx="8.0" cy="35.2" r="1.1" fill="#535353"/><circle cx="2.1" cy="3.6" r="1.1" fill="#535353"/><circle cx="42.1" cy="3.6" r="1.1" fill="#535353"/><circle cx="17.7" cy="5.1" r="1.0" fill="#5f5f5f"/><circle cx="9.8" cy="22.3" r="0.9" fill="#535353"/><circle cx="1.7" cy="32.6" r="0.9" fill="#3c3c3c"/><circle cx="41.7" cy="32.6" r="0.9" fill="#3c3c3c"/><circle cx="26.0" cy="12.5" r="1.2" fill="#3c3c3c"/><circle cx="13.0" cy="29.9" r="1.0" fill="#5f5f5f"/><circle cx="23.0" cy="-0.3" r="1.0" fill="#3c3c3c"/><circle cx="23.0" cy="39.7" r="1.0" fill="#3c3c3c"/><circle cx="6.7" cy="5.9" r="0.9" fill="#3c3c3c"/><circle cx="12.3" cy="12.1" r="1.0" fill="#3c3c3c"/><circle cx="35.8" cy="26.8" r="0.9" fill="#5f5f5f"/><circle cx="-1.1" cy="28.6" r="0.9" fill="#535353"/><circle cx="38.9" cy="28.6" r="0.9" fill="#535353"/><circle cx="22.0" cy="21.4" r="1.0" fill="#5f5f5f"/><circle cx="34.2" cy="4.2" r="0.9" fill="#535353"/><circle cx="32.5" cy="35.7" r="1.0" fill="#3c3c3c"/><circle cx="13.2" cy="5.6" r="1.0" fill="#3c3c3c"/><circle cx="2.1" cy="18.8" r="0.9" fill="#535353"/><circle cx="42.1" cy="18.8" r="0.9" fill="#535353"/><circle cx="6.2" cy="-1.1" r="1.1" fill="#474747"/><circle cx="6.2" cy="38.9" r="1.1" fill="#474747"/><circle cx="36.5" cy="21.5" r="1.1" fill="#3c3c3c"/><circle cx="17.1" cy="31.8" r="1.1" fill="#5f5f5f"/><circle cx="31.2" cy="24.9" r="1.2" fill="#5f5f5f"/><circle cx="26.9" cy="36.9" r="1.0" fill="#5f5f5f"/><circle cx="23.5" cy="26.5" r="0.9" fill="#535353"/><circle cx="17.5" cy="25.7" r="1.0" fill="#5f5f5f"/><circle cx="24.2" cy="4.6" r="1.1" fill="#5f5f5f"/><circle cx="6.0" cy="18.3" r="1.2" fill="#535353"/><circle cx="7.7" cy="14.2" r="1.0" fill="#474747"/><circle cx="-1.1" cy="-2.3" r="1.0" fill="#535353"/><circle cx="-1.1" cy="37.7" r="1.0" fill="#535353"/><circle cx="38.9" cy="-2.3" r="1.0" fill="#535353"/><circle cx="38.9" cy="37.7" r="1.0" fill="#535353"/><circle cx="28.8" cy="8.2" r="1.1" fill="#3c3c3c"/><circle cx="20.9" cy="26.1" r="1.1" fill="#3c3c3c"/><circle cx="10.8" cy="7.0" r="0.9" fill="#474747"/><circle cx="1.4" cy="25.5" r="1.2" fill="#474747"/><circle cx="41.4" cy="25.5" r="1.2" fill="#474747"/><circle cx="3.9" cy="9.7" r="1.2" fill="#3c3c3c"/><circle cx="4.3" cy="31.3" r="1.2" fill="#3c3c3c"/><circle cx="6.6" cy="1.6" r="0.9" fill="#535353"/><circle cx="6.6" cy="41.6" r="0.9" fill="#535353"/><circle cx="-0.5" cy="19.4" r="1.0" fill="#535353"/><circle cx="39.5" cy="19.4" r="1.0" fill="#535353"/><circle cx="22.5" cy="15.7" r="1.0" fill="#535353"/><circle cx="29.4" cy="-2.5" r="0.9" fill="#5f5f5f"/><circle cx="29.4" cy="37.5" r="0.9" fill="#5f5f5f"/><circle cx="17.9" cy="11.7" r="0.9" fill="#474747"/><circle cx="12.2" cy="26.7" r="1.1" fill="#535353"/><circle cx="17.1" cy="2.5" r="0.9" fill="#474747"/><circle cx="17.1" cy="42.5" r="0.9" fill="#474747"/><circle cx="26.0" cy="28.6" r="1.0" fill="#474747"/><circle cx="22.6" cy="32.6" r="1.0" fill="#535353"/><circle cx="14.5" cy="20.6" r="1.2" fill="#474747"/><circle cx="29.8" cy="4.8" r="1.0" fill="#3c3c3c"/><circle cx="32.3" cy="30.4" r="1.2" fill="#5f5f5f"/><circle cx="35.9" cy="24.1" r="1.2" fill="#474747"/><circle cx="28.7" cy="24.2" r="1.0" fill="#3c3c3c"/><circle cx="2.8" cy="-1.3" r="1.0" fill="#5f5f5f"/><circle cx="2.8" cy="38.7" r="1.0" fill="#5f5f5f"/><circle cx="42.8" cy="-1.3" r="1.0" fill="#5f5f5f"/><circle cx="42.8" cy="38.7" r="1.0" fill="#5f5f5f"/><circle cx="28.6" cy="15.5" r="1.0" fill="#5f5f5f"/><circle cx="34.9" cy="14.9" r="1.1" fill="#5f5f5f"/><circle cx="35.4" cy="6.6" r="1.0" fill="#535353"/><circle cx="28.8" cy="31.3" r="1.1" fill="#3c3c3c"/><circle cx="24.8" cy="10.2" r="1.2" fill="#474747"/><circle cx="21.5" cy="10.2" r="1.1" fill="#474747"/><circle cx="25.7" cy="19.4" r="1.0" fill="#5f5f5f"/><circle cx="4.9" cy="3.7" r="1.2" fill="#3c3c3c"/><circle cx="8.6" cy="19.9" r="1.0" fill="#5f5f5f"/><circle cx="9.3" cy="11.9" r="1.1" fill="#3c3c3c"/><circle cx="14.5" cy="25.4" r="0.9" fill="#474747"/></g></pattern>
<pattern id="pMa" width="40" height="40" patternUnits="userSpaceOnUse"><rect width="40" height="40" fill="#51734d"/><g stroke="#adc8ab" stroke-width="0.6"><circle cx="18.1" cy="22.4" r="1.0" fill="#394f38" stroke="#67bd51"/><circle cx="37.0" cy="18.6" r="1.2" fill="#4e9a42" stroke="#67bd51"/><circle cx="7.4" cy="20.5" r="1.0" fill="#465e46" stroke="#adc8ab"/><circle cx="25.2" cy="31.7" r="1.1" fill="#366830" stroke="#9bb29e"/><circle cx="3.8" cy="12.1" r="1.2" fill="#2a4f27" stroke="#adc8ab"/><circle cx="3.6" cy="32.4" r="1.1" fill="#2a4f27" stroke="#adc8ab"/><circle cx="27.7" cy="1.7" r="1.2" fill="#394f38" stroke="#adc8ab"/><circle cx="27.7" cy="41.7" r="1.2" fill="#394f38" stroke="#adc8ab"/><circle cx="-0.7" cy="-1.4" r="1.2" fill="#2a4f27" stroke="#9bb29e"/><circle cx="-0.7" cy="38.6" r="1.2" fill="#2a4f27" stroke="#9bb29e"/><circle cx="39.3" cy="-1.4" r="1.2" fill="#2a4f27" stroke="#9bb29e"/><circle cx="39.3" cy="38.6" r="1.2" fill="#2a4f27" stroke="#9bb29e"/><circle cx="26.2" cy="24.6" r="1.1" fill="#465e46" stroke="#adc8ab"/><circle cx="6.3" cy="0.6" r="1.2" fill="#465e46" stroke="#adc8ab"/><circle cx="6.3" cy="40.6" r="1.2" fill="#465e46" stroke="#adc8ab"/><circle cx="21.1" cy="2.4" r="0.9" fill="#465e46" stroke="#9bb29e"/><circle cx="21.1" cy="42.4" r="0.9" fill="#465e46" stroke="#9bb29e"/><circle cx="7.6" cy="9.7" r="1.0" fill="#465e46" stroke="#9bb29e"/><circle cx="1.2" cy="18.6" r="1.1" fill="#2a4f27" stroke="#adc8ab"/><circle cx="41.2" cy="18.6" r="1.1" fill="#2a4f27" stroke="#adc8ab"/><circle cx="17.6" cy="33.7" r="1.1" fill="#448639" stroke="#67bd51"/><circle cx="20.8" cy="25.6" r="1.0" fill="#448639" stroke="#adc8ab"/><circle cx="18.3" cy="11.1" r="1.0" fill="#465e46" stroke="#adc8ab"/><circle cx="33.6" cy="28.3" r="0.9" fill="#2a4f27" stroke="#adc8ab"/><circle cx="12.6" cy="9.2" r="0.9" fill="#366830" stroke="#adc8ab"/><circle cx="11.6" cy="2.8" r="0.9" fill="#2a4f27" stroke="#67bd51"/><circle cx="11.6" cy="42.8" r="0.9" fill="#2a4f27" stroke="#67bd51"/><circle cx="30.7" cy="16.0" r="1.0" fill="#465e46" stroke="#adc8ab"/><circle cx="33.9" cy="15.5" r="1.0" fill="#448639" stroke="#67bd51"/><circle cx="-1.7" cy="33.9" r="0.9" fill="#366830" stroke="#9bb29e"/><circle cx="38.3" cy="33.9" r="0.9" fill="#366830" stroke="#9bb29e"/><circle cx="0.0" cy="8.4" r="1.0" fill="#366830" stroke="#adc8ab"/><circle cx="40.0" cy="8.4" r="1.0" fill="#366830" stroke="#adc8ab"/><circle cx="-0.8" cy="15.9" r="0.9" fill="#448639" stroke="#67bd51"/><circle cx="39.2" cy="15.9" r="0.9" fill="#448639" stroke="#67bd51"/><circle cx="2.9" cy="25.2" r="1.1" fill="#366830" stroke="#adc8ab"/><circle cx="42.9" cy="25.2" r="1.1" fill="#366830" stroke="#adc8ab"/><circle cx="31.1" cy="10.8" r="1.2" fill="#465e46" stroke="#adc8ab"/><circle cx="-1.4" cy="30.3" r="1.2" fill="#394f38" stroke="#67bd51"/><circle cx="38.6" cy="30.3" r="1.2" fill="#394f38" stroke="#67bd51"/><circle cx="4.0" cy="2.4" r="0.9" fill="#465e46" stroke="#9bb29e"/><circle cx="4.0" cy="42.4" r="0.9" fill="#465e46" stroke="#9bb29e"/><circle cx="31.9" cy="7.1" r="1.0" fill="#4e9a42" stroke="#adc8ab"/><circle cx="22.4" cy="17.9" r="1.0" fill="#465e46" stroke="#9bb29e"/><circle cx="7.6" cy="29.3" r="0.9" fill="#448639" stroke="#67bd51"/><circle cx="4.7" cy="16.8" r="1.1" fill="#366830" stroke="#67bd51"/><circle cx="12.2" cy="35.4" r="0.9" fill="#4e9a42" stroke="#adc8ab"/><circle cx="8.4" cy="15.8" r="1.1" fill="#448639" stroke="#adc8ab"/><circle cx="34.2" cy="25.7" r="1.2" fill="#366830" stroke="#67bd51"/><circle cx="9.7" cy="24.1" r="1.1" fill="#4e9a42" stroke="#adc8ab"/><circle cx="14.9" cy="18.1" r="1.2" fill="#2a4f27" stroke="#adc8ab"/><circle cx="23.0" cy="34.7" r="1.1" fill="#4e9a42" stroke="#adc8ab"/><circle cx="7.3" cy="6.2" r="0.9" fill="#448639" stroke="#9bb29e"/><circle cx="10.0" cy="7.6" r="0.9" fill="#465e46" stroke="#9bb29e"/><circle cx="29.6" cy="-2.4" r="0.9" fill="#448639" stroke="#67bd51"/><circle cx="29.6" cy="37.6" r="0.9" fill="#448639" stroke="#67bd51"/><circle cx="7.9" cy="-2.0" r="0.9" fill="#2a4f27" stroke="#67bd51"/><circle cx="7.9" cy="38.0" r="0.9" fill="#2a4f27" stroke="#67bd51"/><circle cx="16.9" cy="4.2" r="1.2" fill="#394f38" stroke="#9bb29e"/><circle cx="10.3" cy="32.9" r="0.9" fill="#465e46" stroke="#9bb29e"/><circle cx="23.9" cy="11.7" r="1.1" fill="#448639" stroke="#9bb29e"/><circle cx="2.8" cy="9.1" r="0.9" fill="#366830" stroke="#adc8ab"/><circle cx="42.8" cy="9.1" r="0.9" fill="#366830" stroke="#adc8ab"/><circle cx="36.7" cy="8.2" r="1.0" fill="#366830" stroke="#9bb29e"/><circle cx="22.9" cy="5.3" r="1.1" fill="#394f38" stroke="#67bd51"/><circle cx="-0.8" cy="26.3" r="1.0" fill="#465e46" stroke="#adc8ab"/><circle cx="39.2" cy="26.3" r="1.0" fill="#465e46" stroke="#adc8ab"/><circle cx="0.7" cy="36.4" r="1.2" fill="#366830" stroke="#9bb29e"/><circle cx="40.7" cy="36.4" r="1.2" fill="#366830" stroke="#9bb29e"/><circle cx="19.3" cy="29.2" r="1.2" fill="#4e9a42" stroke="#9bb29e"/><circle cx="12.8" cy="-0.0" r="1.2" fill="#465e46" stroke="#67bd51"/><circle cx="12.8" cy="40.0" r="1.2" fill="#465e46" stroke="#67bd51"/><circle cx="3.0" cy="21.8" r="1.0" fill="#4e9a42" stroke="#67bd51"/><circle cx="29.5" cy="28.1" r="0.9" fill="#4e9a42" stroke="#adc8ab"/><circle cx="14.1" cy="27.4" r="0.9" fill="#4e9a42" stroke="#adc8ab"/><circle cx="34.5" cy="22.9" r="1.0" fill="#394f38" stroke="#67bd51"/><circle cx="25.0" cy="15.3" r="0.9" fill="#448639" stroke="#adc8ab"/><circle cx="23.3" cy="24.4" r="1.1" fill="#4e9a42" stroke="#9bb29e"/><circle cx="29.4" cy="23.2" r="1.0" fill="#4e9a42" stroke="#9bb29e"/><circle cx="27.9" cy="19.9" r="1.2" fill="#366830" stroke="#adc8ab"/><circle cx="24.6" cy="36.8" r="1.2" fill="#2a4f27" stroke="#67bd51"/><circle cx="32.2" cy="36.6" r="0.9" fill="#394f38" stroke="#67bd51"/><circle cx="33.5" cy="33.9" r="1.2" fill="#366830" stroke="#67bd51"/><circle cx="25.0" cy="19.8" r="0.9" fill="#2a4f27" stroke="#67bd51"/><circle cx="34.9" cy="1.7" r="0.9" fill="#366830" stroke="#67bd51"/><circle cx="34.9" cy="41.7" r="0.9" fill="#366830" stroke="#67bd51"/><circle cx="0.8" cy="5.4" r="1.2" fill="#448639" stroke="#adc8ab"/><circle cx="40.8" cy="5.4" r="1.2" fill="#448639" stroke="#adc8ab"/><circle cx="18.2" cy="1.0" r="0.9" fill="#394f38" stroke="#9bb29e"/><circle cx="18.2" cy="41.0" r="0.9" fill="#394f38" stroke="#9bb29e"/><circle cx="27.4" cy="8.0" r="1.0" fill="#465e46" stroke="#adc8ab"/><circle cx="19.0" cy="7.1" r="1.2" fill="#465e46" stroke="#9bb29e"/><circle cx="10.9" cy="13.8" r="1.0" fill="#394f38" stroke="#9bb29e"/><circle cx="15.7" cy="31.7" r="1.2" fill="#2a4f27" stroke="#67bd51"/><circle cx="15.1" cy="22.8" r="1.0" fill="#448639" stroke="#adc8ab"/><circle cx="35.2" cy="31.9" r="1.1" fill="#4e9a42" stroke="#9bb29e"/><circle cx="28.9" cy="32.7" r="1.0" fill="#2a4f27" stroke="#adc8ab"/><circle cx="25.7" cy="28.7" r="0.9" fill="#2a4f27" stroke="#adc8ab"/><circle cx="21.5" cy="31.6" r="1.2" fill="#2a4f27" stroke="#adc8ab"/><circle cx="32.4" cy="2.6" r="1.1" fill="#394f38" stroke="#adc8ab"/><circle cx="32.4" cy="42.6" r="1.1" fill="#394f38" stroke="#adc8ab"/><circle cx="-2.0" cy="3.4" r="1.1" fill="#4e9a42" stroke="#adc8ab"/><circle cx="38.0" cy="3.4" r="1.1" fill="#4e9a42" stroke="#adc8ab"/><circle cx="11.6" cy="29.2" r="1.0" fill="#465e46" stroke="#67bd51"/><circle cx="-1.3" cy="21.0" r="1.0" fill="#394f38" stroke="#67bd51"/><circle cx="38.7" cy="21.0" r="1.0" fill="#394f38" stroke="#67bd51"/><circle cx="22.9" cy="8.0" r="1.2" fill="#394f38" stroke="#67bd51"/><circle cx="24.2" cy="1.1" r="1.2" fill="#465e46" stroke="#adc8ab"/><circle cx="24.2" cy="41.1" r="1.2" fill="#465e46" stroke="#adc8ab"/><circle cx="10.8" cy="18.9" r="0.9" fill="#366830" stroke="#adc8ab"/><circle cx="27.5" cy="12.9" r="1.2" fill="#448639" stroke="#67bd51"/><circle cx="4.2" cy="29.2" r="1.2" fill="#4e9a42" stroke="#67bd51"/><circle cx="34.3" cy="9.3" r="0.9" fill="#448639" stroke="#9bb29e"/><circle cx="36.1" cy="12.6" r="1.2" fill="#394f38" stroke="#9bb29e"/><circle cx="35.5" cy="5.4" r="1.0" fill="#4e9a42" stroke="#adc8ab"/><circle cx="22.1" cy="20.6" r="0.9" fill="#465e46" stroke="#adc8ab"/><circle cx="35.9" cy="35.2" r="1.1" fill="#4e9a42" stroke="#67bd51"/><circle cx="14.6" cy="11.4" r="1.2" fill="#448639" stroke="#9bb29e"/><circle cx="15.6" cy="35.9" r="1.2" fill="#448639" stroke="#67bd51"/><circle cx="20.9" cy="-2.5" r="1.2" fill="#366830" stroke="#67bd51"/><circle cx="20.9" cy="37.5" r="1.2" fill="#366830" stroke="#67bd51"/><circle cx="17.7" cy="26.7" r="0.9" fill="#448639" stroke="#adc8ab"/><circle cx="31.1" cy="21.2" r="1.1" fill="#448639" stroke="#adc8ab"/><circle cx="4.6" cy="35.7" r="1.2" fill="#394f38" stroke="#67bd51"/><circle cx="31.4" cy="25.0" r="0.9" fill="#2a4f27" stroke="#adc8ab"/><circle cx="17.1" cy="14.8" r="1.1" fill="#394f38" stroke="#adc8ab"/><circle cx="8.5" cy="26.5" r="1.0" fill="#448639" stroke="#9bb29e"/><circle cx="12.7" cy="16.0" r="1.0" fill="#4e9a42" stroke="#9bb29e"/><circle cx="15.0" cy="6.7" r="0.9" fill="#465e46" stroke="#9bb29e"/><circle cx="12.5" cy="21.9" r="1.1" fill="#465e46" stroke="#67bd51"/><circle cx="19.2" cy="18.7" r="0.9" fill="#2a4f27" stroke="#67bd51"/><circle cx="6.3" cy="33.3" r="1.2" fill="#366830" stroke="#9bb29e"/><circle cx="0.7" cy="13.2" r="0.9" fill="#4e9a42" stroke="#9bb29e"/><circle cx="40.7" cy="13.2" r="0.9" fill="#4e9a42" stroke="#9bb29e"/><circle cx="23.1" cy="27.9" r="0.9" fill="#4e9a42" stroke="#adc8ab"/><circle cx="20.1" cy="15.9" r="0.9" fill="#366830" stroke="#adc8ab"/><circle cx="36.5" cy="-1.3" r="1.1" fill="#465e46" stroke="#9bb29e"/><circle cx="36.5" cy="38.7" r="1.1" fill="#465e46" stroke="#9bb29e"/><circle cx="26.6" cy="34.7" r="1.2" fill="#366830" stroke="#adc8ab"/><circle cx="28.5" cy="5.4" r="1.2" fill="#465e46" stroke="#67bd51"/><circle cx="3.6" cy="-0.7" r="0.9" fill="#366830" stroke="#adc8ab"/><circle cx="3.6" cy="39.3" r="0.9" fill="#366830" stroke="#adc8ab"/><circle cx="-0.5" cy="1.3" r="1.0" fill="#465e46" stroke="#9bb29e"/><circle cx="-0.5" cy="41.3" r="1.0" fill="#465e46" stroke="#9bb29e"/><circle cx="39.5" cy="1.3" r="1.0" fill="#465e46" stroke="#9bb29e"/><circle cx="39.5" cy="41.3" r="1.0" fill="#465e46" stroke="#9bb29e"/><circle cx="31.5" cy="31.6" r="1.2" fill="#465e46" stroke="#adc8ab"/><circle cx="25.3" cy="3.6" r="1.2" fill="#4e9a42" stroke="#67bd51"/><circle cx="2.4" cy="15.3" r="0.9" fill="#465e46" stroke="#9bb29e"/><circle cx="42.4" cy="15.3" r="0.9" fill="#465e46" stroke="#9bb29e"/><circle cx="6.0" cy="23.3" r="1.2" fill="#465e46" stroke="#9bb29e"/><circle cx="27.5" cy="16.8" r="1.2" fill="#448639" stroke="#9bb29e"/><circle cx="4.2" cy="5.7" r="0.9" fill="#2a4f27" stroke="#67bd51"/><circle cx="8.2" cy="35.2" r="0.9" fill="#4e9a42" stroke="#67bd51"/><circle cx="17.2" cy="-1.5" r="1.1" fill="#465e46" stroke="#adc8ab"/><circle cx="17.2" cy="38.5" r="1.1" fill="#465e46" stroke="#adc8ab"/><circle cx="8.9" cy="4.0" r="1.1" fill="#448639" stroke="#67bd51"/><circle cx="10.1" cy="10.8" r="1.0" fill="#394f38" stroke="#adc8ab"/><circle cx="1.4" cy="27.9" r="0.9" fill="#366830" stroke="#adc8ab"/><circle cx="41.4" cy="27.9" r="0.9" fill="#366830" stroke="#adc8ab"/><circle cx="21.0" cy="13.4" r="0.9" fill="#465e46" stroke="#adc8ab"/><circle cx="6.4" cy="13.2" r="1.2" fill="#366830" stroke="#9bb29e"/><circle cx="33.8" cy="18.6" r="1.0" fill="#465e46" stroke="#9bb29e"/><circle cx="-1.2" cy="11.2" r="1.2" fill="#448639" stroke="#adc8ab"/><circle cx="38.8" cy="11.2" r="1.2" fill="#448639" stroke="#adc8ab"/><circle cx="36.6" cy="27.1" r="0.9" fill="#2a4f27" stroke="#67bd51"/><circle cx="9.0" cy="0.9" r="1.1" fill="#448639" stroke="#9bb29e"/><circle cx="9.0" cy="40.9" r="1.1" fill="#448639" stroke="#9bb29e"/><circle cx="27.0" cy="-1.3" r="1.1" fill="#465e46" stroke="#adc8ab"/><circle cx="27.0" cy="38.7" r="1.1" fill="#465e46" stroke="#adc8ab"/><circle cx="-2.3" cy="23.8" r="0.9" fill="#2a4f27" stroke="#67bd51"/><circle cx="37.7" cy="23.8" r="0.9" fill="#2a4f27" stroke="#67bd51"/><circle cx="32.5" cy="-0.4" r="1.2" fill="#2a4f27" stroke="#adc8ab"/><circle cx="32.5" cy="39.6" r="1.2" fill="#2a4f27" stroke="#adc8ab"/><circle cx="21.0" cy="10.6" r="1.1" fill="#394f38" stroke="#67bd51"/><circle cx="14.1" cy="3.3" r="1.2" fill="#4e9a42" stroke="#adc8ab"/><circle cx="0.6" cy="23.1" r="1.0" fill="#2a4f27" stroke="#67bd51"/><circle cx="40.6" cy="23.1" r="1.0" fill="#2a4f27" stroke="#67bd51"/><circle cx="5.9" cy="27.2" r="1.0" fill="#366830" stroke="#adc8ab"/><circle cx="5.5" cy="8.1" r="1.2" fill="#394f38" stroke="#9bb29e"/><circle cx="10.9" cy="-2.0" r="1.1" fill="#394f38" stroke="#9bb29e"/><circle cx="10.9" cy="38.0" r="1.1" fill="#394f38" stroke="#9bb29e"/><circle cx="26.3" cy="10.5" r="1.0" fill="#448639" stroke="#adc8ab"/><circle cx="12.1" cy="25.3" r="1.1" fill="#465e46" stroke="#adc8ab"/><circle cx="1.1" cy="30.9" r="1.1" fill="#366830" stroke="#adc8ab"/><circle cx="41.1" cy="30.9" r="1.1" fill="#366830" stroke="#adc8ab"/><circle cx="12.9" cy="31.6" r="0.9" fill="#448639" stroke="#adc8ab"/><circle cx="20.4" cy="34.2" r="1.1" fill="#4e9a42" stroke="#9bb29e"/><circle cx="30.4" cy="13.3" r="0.9" fill="#465e46" stroke="#adc8ab"/><circle cx="11.6" cy="5.5" r="0.9" fill="#465e46" stroke="#adc8ab"/><circle cx="15.4" cy="0.6" r="1.1" fill="#394f38" stroke="#adc8ab"/><circle cx="15.4" cy="40.6" r="1.1" fill="#394f38" stroke="#adc8ab"/><circle cx="4.2" cy="19.4" r="1.1" fill="#4e9a42" stroke="#adc8ab"/><circle cx="1.0" cy="33.5" r="1.2" fill="#4e9a42" stroke="#adc8ab"/><circle cx="41.0" cy="33.5" r="1.2" fill="#4e9a42" stroke="#adc8ab"/><circle cx="33.4" cy="12.3" r="1.2" fill="#366830" stroke="#67bd51"/><circle cx="30.1" cy="35.1" r="1.1" fill="#465e46" stroke="#67bd51"/><circle cx="20.7" cy="22.9" r="0.9" fill="#448639" stroke="#adc8ab"/><circle cx="16.1" cy="9.3" r="1.0" fill="#465e46" stroke="#adc8ab"/><circle cx="18.5" cy="36.3" r="1.1" fill="#465e46" stroke="#adc8ab"/><circle cx="30.8" cy="18.6" r="1.1" fill="#2a4f27" stroke="#adc8ab"/><circle cx="6.3" cy="3.7" r="1.0" fill="#465e46" stroke="#adc8ab"/><circle cx="16.4" cy="29.1" r="1.1" fill="#448639" stroke="#adc8ab"/><circle cx="36.6" cy="15.4" r="1.2" fill="#2a4f27" stroke="#67bd51"/></g><circle cx="18.1" cy="22.4" r="0.5" fill="#121c11"/><circle cx="25.2" cy="31.7" r="0.5" fill="#182a17"/><circle cx="3.8" cy="12.1" r="0.5" fill="#182a17"/><circle cx="27.7" cy="1.7" r="0.5" fill="#182a17"/><circle cx="27.7" cy="41.7" r="0.5" fill="#182a17"/><circle cx="20.8" cy="25.6" r="0.5" fill="#182a17"/><circle cx="18.3" cy="11.1" r="0.4" fill="#182a17"/><circle cx="11.6" cy="2.8" r="0.4" fill="#182a17"/><circle cx="11.6" cy="42.8" r="0.4" fill="#182a17"/><circle cx="33.9" cy="15.5" r="0.4" fill="#182a17"/><circle cx="-0.8" cy="15.9" r="0.4" fill="#121c11"/><circle cx="39.2" cy="15.9" r="0.4" fill="#121c11"/><circle cx="31.1" cy="10.8" r="0.6" fill="#182a17"/><circle cx="4.0" cy="2.4" r="0.4" fill="#182a17"/><circle cx="4.0" cy="42.4" r="0.4" fill="#182a17"/><circle cx="31.9" cy="7.1" r="0.4" fill="#121c11"/><circle cx="7.6" cy="29.3" r="0.4" fill="#121c11"/><circle cx="4.7" cy="16.8" r="0.5" fill="#121c11"/><circle cx="8.4" cy="15.8" r="0.5" fill="#121c11"/><circle cx="9.7" cy="24.1" r="0.5" fill="#121c11"/><circle cx="29.6" cy="-2.4" r="0.4" fill="#182a17"/><circle cx="29.6" cy="37.6" r="0.4" fill="#182a17"/><circle cx="7.9" cy="-2.0" r="0.4" fill="#121c11"/><circle cx="7.9" cy="38.0" r="0.4" fill="#121c11"/><circle cx="16.9" cy="4.2" r="0.5" fill="#121c11"/><circle cx="10.3" cy="32.9" r="0.4" fill="#121c11"/><circle cx="23.9" cy="11.7" r="0.5" fill="#182a17"/><circle cx="36.7" cy="8.2" r="0.4" fill="#121c11"/><circle cx="22.9" cy="5.3" r="0.5" fill="#182a17"/><circle cx="-0.8" cy="26.3" r="0.5" fill="#121c11"/><circle cx="39.2" cy="26.3" r="0.5" fill="#121c11"/><circle cx="12.8" cy="-0.0" r="0.6" fill="#121c11"/><circle cx="12.8" cy="40.0" r="0.6" fill="#121c11"/><circle cx="14.1" cy="27.4" r="0.4" fill="#182a17"/><circle cx="34.5" cy="22.9" r="0.4" fill="#182a17"/><circle cx="23.3" cy="24.4" r="0.5" fill="#182a17"/><circle cx="29.4" cy="23.2" r="0.4" fill="#182a17"/><circle cx="25.0" cy="19.8" r="0.4" fill="#121c11"/><circle cx="15.7" cy="31.7" r="0.5" fill="#121c11"/><circle cx="28.9" cy="32.7" r="0.4" fill="#121c11"/><circle cx="-2.0" cy="3.4" r="0.5" fill="#182a17"/><circle cx="38.0" cy="3.4" r="0.5" fill="#182a17"/><circle cx="22.9" cy="8.0" r="0.6" fill="#121c11"/><circle cx="10.8" cy="18.9" r="0.4" fill="#182a17"/><circle cx="4.2" cy="29.2" r="0.5" fill="#182a17"/><circle cx="34.3" cy="9.3" r="0.4" fill="#121c11"/><circle cx="35.5" cy="5.4" r="0.4" fill="#182a17"/><circle cx="35.9" cy="35.2" r="0.5" fill="#182a17"/><circle cx="14.6" cy="11.4" r="0.5" fill="#182a17"/><circle cx="20.9" cy="-2.5" r="0.5" fill="#182a17"/><circle cx="20.9" cy="37.5" r="0.5" fill="#182a17"/><circle cx="4.6" cy="35.7" r="0.6" fill="#182a17"/><circle cx="31.4" cy="25.0" r="0.4" fill="#182a17"/><circle cx="8.5" cy="26.5" r="0.5" fill="#182a17"/><circle cx="12.7" cy="16.0" r="0.5" fill="#121c11"/><circle cx="12.5" cy="21.9" r="0.5" fill="#182a17"/><circle cx="19.2" cy="18.7" r="0.4" fill="#182a17"/><circle cx="36.5" cy="-1.3" r="0.5" fill="#121c11"/><circle cx="36.5" cy="38.7" r="0.5" fill="#121c11"/><circle cx="26.6" cy="34.7" r="0.6" fill="#182a17"/><circle cx="-0.5" cy="1.3" r="0.4" fill="#121c11"/><circle cx="-0.5" cy="41.3" r="0.4" fill="#121c11"/><circle cx="39.5" cy="1.3" r="0.4" fill="#121c11"/><circle cx="39.5" cy="41.3" r="0.4" fill="#121c11"/><circle cx="31.5" cy="31.6" r="0.6" fill="#121c11"/><circle cx="21.0" cy="13.4" r="0.4" fill="#182a17"/><circle cx="6.4" cy="13.2" r="0.6" fill="#121c11"/><circle cx="-1.2" cy="11.2" r="0.5" fill="#182a17"/><circle cx="38.8" cy="11.2" r="0.5" fill="#182a17"/><circle cx="36.6" cy="27.1" r="0.4" fill="#121c11"/><circle cx="9.0" cy="0.9" r="0.5" fill="#121c11"/><circle cx="9.0" cy="40.9" r="0.5" fill="#121c11"/><circle cx="27.0" cy="-1.3" r="0.5" fill="#182a17"/><circle cx="27.0" cy="38.7" r="0.5" fill="#182a17"/><circle cx="-2.3" cy="23.8" r="0.4" fill="#121c11"/><circle cx="37.7" cy="23.8" r="0.4" fill="#121c11"/><circle cx="5.5" cy="8.1" r="0.5" fill="#121c11"/><circle cx="1.1" cy="30.9" r="0.5" fill="#182a17"/><circle cx="41.1" cy="30.9" r="0.5" fill="#182a17"/><circle cx="12.9" cy="31.6" r="0.4" fill="#182a17"/><circle cx="15.4" cy="0.6" r="0.5" fill="#182a17"/><circle cx="15.4" cy="40.6" r="0.5" fill="#182a17"/><circle cx="4.2" cy="19.4" r="0.5" fill="#121c11"/><circle cx="1.0" cy="33.5" r="0.5" fill="#182a17"/><circle cx="41.0" cy="33.5" r="0.5" fill="#182a17"/><circle cx="30.1" cy="35.1" r="0.5" fill="#182a17"/><circle cx="20.7" cy="22.9" r="0.4" fill="#121c11"/><circle cx="30.8" cy="18.6" r="0.5" fill="#121c11"/><circle cx="6.3" cy="3.7" r="0.5" fill="#121c11"/></pattern>
<pattern id="pMb" width="46" height="46" patternUnits="userSpaceOnUse"><rect width="46" height="46" fill="#51734d"/><g stroke="#adc8ab" stroke-width="0.6"><circle cx="21.8" cy="30.2" r="1.0" fill="#394f38" stroke="#adc8ab"/><circle cx="30.7" cy="6.6" r="1.1" fill="#366830" stroke="#adc8ab"/><circle cx="0.5" cy="17.2" r="1.1" fill="#2a4f27" stroke="#9bb29e"/><circle cx="46.5" cy="17.2" r="1.1" fill="#2a4f27" stroke="#9bb29e"/><circle cx="12.6" cy="37.3" r="1.2" fill="#366830" stroke="#adc8ab"/><circle cx="31.8" cy="27.7" r="1.2" fill="#448639" stroke="#9bb29e"/><circle cx="25.7" cy="30.4" r="1.2" fill="#448639" stroke="#67bd51"/><circle cx="6.7" cy="20.2" r="1.0" fill="#465e46" stroke="#9bb29e"/><circle cx="7.5" cy="41.7" r="1.2" fill="#394f38" stroke="#67bd51"/><circle cx="2.7" cy="37.7" r="1.0" fill="#465e46" stroke="#67bd51"/><circle cx="48.7" cy="37.7" r="1.0" fill="#465e46" stroke="#67bd51"/><circle cx="3.4" cy="31.6" r="1.1" fill="#394f38" stroke="#adc8ab"/><circle cx="15.5" cy="18.6" r="1.1" fill="#448639" stroke="#adc8ab"/><circle cx="38.8" cy="0.9" r="1.0" fill="#4e9a42" stroke="#67bd51"/><circle cx="38.8" cy="46.9" r="1.0" fill="#4e9a42" stroke="#67bd51"/><circle cx="2.8" cy="42.1" r="1.0" fill="#366830" stroke="#9bb29e"/><circle cx="48.8" cy="42.1" r="1.0" fill="#366830" stroke="#9bb29e"/><circle cx="23.4" cy="4.2" r="1.1" fill="#366830" stroke="#67bd51"/><circle cx="-0.6" cy="-2.5" r="1.1" fill="#4e9a42" stroke="#9bb29e"/><circle cx="-0.6" cy="43.5" r="1.1" fill="#4e9a42" stroke="#9bb29e"/><circle cx="45.4" cy="-2.5" r="1.1" fill="#4e9a42" stroke="#9bb29e"/><circle cx="45.4" cy="43.5" r="1.1" fill="#4e9a42" stroke="#9bb29e"/><circle cx="6.2" cy="14.4" r="1.2" fill="#2a4f27" stroke="#adc8ab"/><circle cx="32.1" cy="2.4" r="1.1" fill="#366830" stroke="#9bb29e"/><circle cx="32.1" cy="48.4" r="1.1" fill="#366830" stroke="#9bb29e"/><circle cx="7.9" cy="37.5" r="1.0" fill="#448639" stroke="#adc8ab"/><circle cx="18.4" cy="19.3" r="1.1" fill="#465e46" stroke="#adc8ab"/><circle cx="27.4" cy="21.9" r="1.1" fill="#366830" stroke="#9bb29e"/><circle cx="17.7" cy="1.4" r="1.1" fill="#465e46" stroke="#adc8ab"/><circle cx="17.7" cy="47.4" r="1.1" fill="#465e46" stroke="#adc8ab"/><circle cx="33.4" cy="-1.5" r="0.9" fill="#366830" stroke="#adc8ab"/><circle cx="33.4" cy="44.5" r="0.9" fill="#366830" stroke="#adc8ab"/><circle cx="-1.1" cy="30.5" r="1.1" fill="#366830" stroke="#adc8ab"/><circle cx="44.9" cy="30.5" r="1.1" fill="#366830" stroke="#adc8ab"/><circle cx="31.7" cy="31.0" r="1.2" fill="#448639" stroke="#adc8ab"/><circle cx="5.2" cy="10.8" r="0.9" fill="#448639" stroke="#adc8ab"/><circle cx="16.7" cy="23.5" r="1.1" fill="#394f38" stroke="#adc8ab"/><circle cx="37.3" cy="23.0" r="1.1" fill="#2a4f27" stroke="#adc8ab"/><circle cx="19.8" cy="23.9" r="1.0" fill="#465e46" stroke="#9bb29e"/><circle cx="10.2" cy="19.7" r="1.0" fill="#2a4f27" stroke="#9bb29e"/><circle cx="17.9" cy="35.5" r="1.2" fill="#394f38" stroke="#adc8ab"/><circle cx="4.7" cy="25.3" r="1.0" fill="#465e46" stroke="#adc8ab"/><circle cx="8.2" cy="32.0" r="1.1" fill="#4e9a42" stroke="#adc8ab"/><circle cx="1.7" cy="12.7" r="1.0" fill="#448639" stroke="#9bb29e"/><circle cx="47.7" cy="12.7" r="1.0" fill="#448639" stroke="#9bb29e"/><circle cx="15.8" cy="29.3" r="1.2" fill="#465e46" stroke="#adc8ab"/><circle cx="2.4" cy="21.1" r="1.0" fill="#4e9a42" stroke="#9bb29e"/><circle cx="48.4" cy="21.1" r="1.0" fill="#4e9a42" stroke="#9bb29e"/><circle cx="9.6" cy="13.0" r="1.0" fill="#2a4f27" stroke="#67bd51"/><circle cx="21.9" cy="-1.9" r="1.2" fill="#366830" stroke="#adc8ab"/><circle cx="21.9" cy="44.1" r="1.2" fill="#366830" stroke="#adc8ab"/><circle cx="16.8" cy="8.7" r="0.9" fill="#448639" stroke="#9bb29e"/><circle cx="34.4" cy="42.0" r="0.9" fill="#448639" stroke="#9bb29e"/><circle cx="35.5" cy="15.7" r="0.9" fill="#465e46" stroke="#67bd51"/><circle cx="11.1" cy="0.4" r="1.0" fill="#465e46" stroke="#adc8ab"/><circle cx="11.1" cy="46.4" r="1.0" fill="#465e46" stroke="#adc8ab"/><circle cx="1.8" cy="28.5" r="1.2" fill="#394f38" stroke="#adc8ab"/><circle cx="47.8" cy="28.5" r="1.2" fill="#394f38" stroke="#adc8ab"/><circle cx="23.2" cy="1.1" r="0.9" fill="#448639" stroke="#adc8ab"/><circle cx="23.2" cy="47.1" r="0.9" fill="#448639" stroke="#adc8ab"/><circle cx="38.3" cy="29.4" r="1.1" fill="#366830" stroke="#9bb29e"/><circle cx="10.6" cy="24.3" r="1.1" fill="#465e46" stroke="#adc8ab"/><circle cx="12.1" cy="-2.5" r="1.2" fill="#448639" stroke="#9bb29e"/><circle cx="12.1" cy="43.5" r="1.2" fill="#448639" stroke="#9bb29e"/><circle cx="41.1" cy="7.5" r="1.0" fill="#448639" stroke="#adc8ab"/><circle cx="13.4" cy="40.2" r="0.9" fill="#2a4f27" stroke="#adc8ab"/><circle cx="32.4" cy="9.8" r="1.0" fill="#2a4f27" stroke="#67bd51"/><circle cx="13.1" cy="11.7" r="1.0" fill="#465e46" stroke="#67bd51"/><circle cx="19.3" cy="11.1" r="0.9" fill="#2a4f27" stroke="#67bd51"/><circle cx="42.3" cy="-1.7" r="1.0" fill="#448639" stroke="#adc8ab"/><circle cx="42.3" cy="44.3" r="1.0" fill="#448639" stroke="#adc8ab"/><circle cx="35.0" cy="19.2" r="1.0" fill="#2a4f27" stroke="#adc8ab"/><circle cx="27.1" cy="41.4" r="1.0" fill="#366830" stroke="#adc8ab"/><circle cx="36.3" cy="26.7" r="1.2" fill="#448639" stroke="#9bb29e"/><circle cx="0.8" cy="32.7" r="1.0" fill="#366830" stroke="#9bb29e"/><circle cx="46.8" cy="32.7" r="1.0" fill="#366830" stroke="#9bb29e"/><circle cx="41.6" cy="36.7" r="1.2" fill="#4e9a42" stroke="#adc8ab"/><circle cx="24.6" cy="36.3" r="1.1" fill="#366830" stroke="#adc8ab"/><circle cx="17.5" cy="4.5" r="0.9" fill="#465e46" stroke="#adc8ab"/><circle cx="16.2" cy="14.4" r="1.1" fill="#448639" stroke="#adc8ab"/><circle cx="32.2" cy="18.1" r="1.0" fill="#465e46" stroke="#adc8ab"/><circle cx="6.5" cy="4.2" r="0.9" fill="#465e46" stroke="#adc8ab"/><circle cx="14.4" cy="32.0" r="1.1" fill="#448639" stroke="#adc8ab"/><circle cx="34.9" cy="30.3" r="1.1" fill="#4e9a42" stroke="#67bd51"/><circle cx="43.0" cy="16.8" r="1.1" fill="#366830" stroke="#67bd51"/><circle cx="20.4" cy="8.3" r="0.9" fill="#4e9a42" stroke="#67bd51"/><circle cx="30.7" cy="15.7" r="1.1" fill="#465e46" stroke="#9bb29e"/><circle cx="27.9" cy="38.8" r="0.9" fill="#366830" stroke="#9bb29e"/><circle cx="39.3" cy="38.3" r="1.2" fill="#394f38" stroke="#67bd51"/><circle cx="-1.3" cy="25.5" r="1.1" fill="#465e46" stroke="#adc8ab"/><circle cx="44.7" cy="25.5" r="1.1" fill="#465e46" stroke="#adc8ab"/><circle cx="23.0" cy="16.6" r="0.9" fill="#366830" stroke="#adc8ab"/><circle cx="14.1" cy="6.3" r="1.1" fill="#465e46" stroke="#adc8ab"/><circle cx="37.0" cy="13.1" r="1.2" fill="#4e9a42" stroke="#9bb29e"/><circle cx="-2.9" cy="27.5" r="1.1" fill="#2a4f27" stroke="#9bb29e"/><circle cx="43.1" cy="27.5" r="1.1" fill="#2a4f27" stroke="#9bb29e"/><circle cx="17.9" cy="40.2" r="1.0" fill="#4e9a42" stroke="#adc8ab"/><circle cx="41.3" cy="14.8" r="1.1" fill="#4e9a42" stroke="#adc8ab"/><circle cx="5.8" cy="29.5" r="1.2" fill="#448639" stroke="#adc8ab"/><circle cx="28.4" cy="12.1" r="1.0" fill="#4e9a42" stroke="#9bb29e"/><circle cx="37.1" cy="7.8" r="1.1" fill="#2a4f27" stroke="#67bd51"/><circle cx="0.6" cy="7.9" r="1.1" fill="#448639" stroke="#adc8ab"/><circle cx="46.6" cy="7.9" r="1.1" fill="#448639" stroke="#adc8ab"/><circle cx="24.7" cy="20.6" r="0.9" fill="#394f38" stroke="#adc8ab"/><circle cx="29.2" cy="17.9" r="1.1" fill="#2a4f27" stroke="#9bb29e"/><circle cx="32.9" cy="12.8" r="1.0" fill="#2a4f27" stroke="#adc8ab"/><circle cx="42.5" cy="22.6" r="0.9" fill="#366830" stroke="#9bb29e"/><circle cx="28.0" cy="34.7" r="1.2" fill="#394f38" stroke="#9bb29e"/><circle cx="2.9" cy="5.0" r="1.2" fill="#465e46" stroke="#adc8ab"/><circle cx="48.9" cy="5.0" r="1.2" fill="#465e46" stroke="#adc8ab"/><circle cx="28.3" cy="-1.6" r="1.1" fill="#465e46" stroke="#adc8ab"/><circle cx="28.3" cy="44.4" r="1.1" fill="#465e46" stroke="#adc8ab"/><circle cx="-1.8" cy="34.3" r="1.0" fill="#448639" stroke="#adc8ab"/><circle cx="44.2" cy="34.3" r="1.0" fill="#448639" stroke="#adc8ab"/><circle cx="-2.3" cy="1.3" r="1.2" fill="#448639" stroke="#adc8ab"/><circle cx="-2.3" cy="47.3" r="1.2" fill="#448639" stroke="#adc8ab"/><circle cx="43.7" cy="1.3" r="1.2" fill="#448639" stroke="#adc8ab"/><circle cx="43.7" cy="47.3" r="1.2" fill="#448639" stroke="#adc8ab"/><circle cx="25.0" cy="14.5" r="0.9" fill="#2a4f27" stroke="#67bd51"/><circle cx="11.1" cy="4.0" r="1.1" fill="#2a4f27" stroke="#adc8ab"/><circle cx="22.2" cy="33.6" r="0.9" fill="#465e46" stroke="#9bb29e"/><circle cx="38.0" cy="34.8" r="0.9" fill="#448639" stroke="#67bd51"/><circle cx="28.7" cy="24.7" r="0.9" fill="#2a4f27" stroke="#67bd51"/><circle cx="4.7" cy="33.9" r="1.2" fill="#394f38" stroke="#adc8ab"/><circle cx="25.2" cy="27.4" r="0.9" fill="#448639" stroke="#adc8ab"/><circle cx="26.6" cy="17.4" r="0.9" fill="#448639" stroke="#67bd51"/><circle cx="14.3" cy="16.3" r="1.1" fill="#2a4f27" stroke="#adc8ab"/><circle cx="10.7" cy="9.0" r="1.1" fill="#394f38" stroke="#9bb29e"/><circle cx="29.4" cy="29.3" r="1.2" fill="#465e46" stroke="#9bb29e"/><circle cx="32.9" cy="34.6" r="1.0" fill="#465e46" stroke="#adc8ab"/><circle cx="33.4" cy="23.1" r="1.1" fill="#4e9a42" stroke="#adc8ab"/><circle cx="14.1" cy="1.1" r="1.0" fill="#4e9a42" stroke="#9bb29e"/><circle cx="14.1" cy="47.1" r="1.0" fill="#4e9a42" stroke="#9bb29e"/><circle cx="18.0" cy="-1.5" r="1.0" fill="#465e46" stroke="#adc8ab"/><circle cx="18.0" cy="44.5" r="1.0" fill="#465e46" stroke="#adc8ab"/><circle cx="38.5" cy="19.4" r="1.0" fill="#465e46" stroke="#9bb29e"/><circle cx="39.6" cy="41.8" r="1.2" fill="#465e46" stroke="#adc8ab"/><circle cx="28.4" cy="8.5" r="0.9" fill="#366830" stroke="#9bb29e"/><circle cx="31.2" cy="40.0" r="1.2" fill="#2a4f27" stroke="#67bd51"/><circle cx="34.6" cy="37.9" r="1.0" fill="#465e46" stroke="#adc8ab"/><circle cx="7.8" cy="1.0" r="1.0" fill="#465e46" stroke="#9bb29e"/><circle cx="7.8" cy="47.0" r="1.0" fill="#465e46" stroke="#9bb29e"/><circle cx="19.1" cy="15.0" r="0.9" fill="#394f38" stroke="#adc8ab"/><circle cx="26.0" cy="24.8" r="1.0" fill="#2a4f27" stroke="#adc8ab"/><circle cx="14.6" cy="42.9" r="1.0" fill="#394f38" stroke="#9bb29e"/><circle cx="20.1" cy="41.9" r="1.2" fill="#4e9a42" stroke="#adc8ab"/><circle cx="-1.9" cy="40.5" r="1.1" fill="#4e9a42" stroke="#adc8ab"/><circle cx="44.1" cy="40.5" r="1.1" fill="#4e9a42" stroke="#adc8ab"/><circle cx="30.4" cy="22.1" r="1.1" fill="#465e46" stroke="#adc8ab"/><circle cx="9.2" cy="-1.7" r="1.1" fill="#366830" stroke="#adc8ab"/><circle cx="9.2" cy="44.3" r="1.1" fill="#366830" stroke="#adc8ab"/><circle cx="24.9" cy="7.7" r="1.0" fill="#2a4f27" stroke="#9bb29e"/><circle cx="28.0" cy="31.9" r="0.9" fill="#394f38" stroke="#9bb29e"/><circle cx="33.8" cy="6.5" r="0.9" fill="#366830" stroke="#adc8ab"/><circle cx="4.0" cy="8.1" r="1.0" fill="#394f38" stroke="#9bb29e"/><circle cx="7.8" cy="27.4" r="1.1" fill="#4e9a42" stroke="#adc8ab"/><circle cx="3.9" cy="0.3" r="0.9" fill="#4e9a42" stroke="#adc8ab"/><circle cx="3.9" cy="46.3" r="0.9" fill="#4e9a42" stroke="#adc8ab"/><circle cx="8.2" cy="22.9" r="1.0" fill="#394f38" stroke="#adc8ab"/><circle cx="39.2" cy="26.6" r="1.1" fill="#4e9a42" stroke="#adc8ab"/><circle cx="5.7" cy="17.7" r="1.2" fill="#394f38" stroke="#67bd51"/><circle cx="28.6" cy="1.4" r="1.2" fill="#366830" stroke="#adc8ab"/><circle cx="28.6" cy="47.4" r="1.2" fill="#366830" stroke="#adc8ab"/><circle cx="20.6" cy="36.7" r="1.0" fill="#366830" stroke="#9bb29e"/><circle cx="37.5" cy="4.0" r="0.9" fill="#448639" stroke="#67bd51"/><circle cx="41.0" cy="20.5" r="0.9" fill="#4e9a42" stroke="#9bb29e"/><circle cx="36.8" cy="-1.0" r="1.0" fill="#394f38" stroke="#9bb29e"/><circle cx="36.8" cy="45.0" r="1.0" fill="#394f38" stroke="#9bb29e"/><circle cx="26.8" cy="5.6" r="1.1" fill="#465e46" stroke="#adc8ab"/><circle cx="12.3" cy="22.1" r="1.2" fill="#366830" stroke="#9bb29e"/><circle cx="41.2" cy="32.9" r="0.9" fill="#4e9a42" stroke="#67bd51"/><circle cx="10.1" cy="41.3" r="1.2" fill="#4e9a42" stroke="#adc8ab"/><circle cx="-1.7" cy="11.8" r="0.9" fill="#448639" stroke="#adc8ab"/><circle cx="44.3" cy="11.8" r="0.9" fill="#448639" stroke="#adc8ab"/><circle cx="-2.1" cy="5.6" r="1.1" fill="#366830" stroke="#9bb29e"/><circle cx="43.9" cy="5.6" r="1.1" fill="#366830" stroke="#9bb29e"/><circle cx="25.8" cy="0.5" r="1.0" fill="#394f38" stroke="#adc8ab"/><circle cx="25.8" cy="46.5" r="1.0" fill="#394f38" stroke="#adc8ab"/><circle cx="24.2" cy="10.3" r="1.2" fill="#448639" stroke="#67bd51"/><circle cx="15.1" cy="35.4" r="1.2" fill="#2a4f27" stroke="#adc8ab"/><circle cx="19.0" cy="32.8" r="0.9" fill="#465e46" stroke="#adc8ab"/><circle cx="41.5" cy="4.4" r="1.1" fill="#448639" stroke="#9bb29e"/><circle cx="22.9" cy="38.7" r="1.0" fill="#2a4f27" stroke="#9bb29e"/><circle cx="15.9" cy="11.7" r="1.0" fill="#366830" stroke="#9bb29e"/><circle cx="15.8" cy="38.4" r="1.0" fill="#2a4f27" stroke="#9bb29e"/><circle cx="-0.9" cy="14.6" r="0.9" fill="#2a4f27" stroke="#67bd51"/><circle cx="45.1" cy="14.6" r="0.9" fill="#2a4f27" stroke="#67bd51"/><circle cx="41.8" cy="10.1" r="0.9" fill="#366830" stroke="#67bd51"/><circle cx="14.4" cy="25.3" r="1.1" fill="#394f38" stroke="#9bb29e"/><circle cx="11.8" cy="33.8" r="0.9" fill="#4e9a42" stroke="#adc8ab"/><circle cx="21.2" cy="20.8" r="1.2" fill="#394f38" stroke="#9bb29e"/><circle cx="9.9" cy="29.0" r="0.9" fill="#2a4f27" stroke="#67bd51"/><circle cx="3.1" cy="15.3" r="0.9" fill="#366830" stroke="#67bd51"/><circle cx="0.4" cy="1.5" r="1.2" fill="#394f38" stroke="#67bd51"/><circle cx="0.4" cy="47.5" r="1.2" fill="#394f38" stroke="#67bd51"/><circle cx="46.4" cy="1.5" r="1.2" fill="#394f38" stroke="#67bd51"/><circle cx="46.4" cy="47.5" r="1.2" fill="#394f38" stroke="#67bd51"/><circle cx="22.3" cy="12.4" r="1.2" fill="#448639" stroke="#adc8ab"/><circle cx="-1.8" cy="20.1" r="1.1" fill="#366830" stroke="#adc8ab"/><circle cx="44.2" cy="20.1" r="1.1" fill="#366830" stroke="#adc8ab"/><circle cx="23.8" cy="23.3" r="1.0" fill="#448639" stroke="#67bd51"/><circle cx="7.9" cy="10.6" r="0.9" fill="#4e9a42" stroke="#67bd51"/><circle cx="41.0" cy="29.5" r="1.2" fill="#2a4f27" stroke="#9bb29e"/><circle cx="36.3" cy="10.5" r="0.9" fill="#366830" stroke="#adc8ab"/><circle cx="-0.3" cy="36.8" r="1.1" fill="#394f38" stroke="#67bd51"/><circle cx="45.7" cy="36.8" r="1.1" fill="#394f38" stroke="#67bd51"/><circle cx="13.1" cy="29.4" r="1.1" fill="#448639" stroke="#adc8ab"/><circle cx="1.9" cy="25.8" r="1.2" fill="#4e9a42" stroke="#9bb29e"/><circle cx="47.9" cy="25.8" r="1.2" fill="#4e9a42" stroke="#9bb29e"/><circle cx="20.6" cy="17.7" r="1.0" fill="#4e9a42" stroke="#adc8ab"/><circle cx="18.4" cy="26.5" r="1.0" fill="#2a4f27" stroke="#adc8ab"/><circle cx="18.4" cy="30.2" r="0.9" fill="#394f38" stroke="#adc8ab"/><circle cx="20.7" cy="4.8" r="1.0" fill="#465e46" stroke="#9bb29e"/><circle cx="20.4" cy="1.5" r="1.0" fill="#366830" stroke="#adc8ab"/><circle cx="20.4" cy="47.5" r="1.0" fill="#366830" stroke="#adc8ab"/><circle cx="34.9" cy="2.0" r="1.2" fill="#394f38" stroke="#9bb29e"/><circle cx="34.9" cy="48.0" r="1.2" fill="#394f38" stroke="#9bb29e"/><circle cx="5.2" cy="39.9" r="1.2" fill="#2a4f27" stroke="#adc8ab"/><circle cx="31.5" cy="36.9" r="1.0" fill="#394f38" stroke="#adc8ab"/><circle cx="0.9" cy="40.0" r="1.2" fill="#4e9a42" stroke="#9bb29e"/><circle cx="46.9" cy="40.0" r="1.2" fill="#4e9a42" stroke="#9bb29e"/><circle cx="22.3" cy="26.3" r="1.2" fill="#4e9a42" stroke="#67bd51"/><circle cx="29.7" cy="3.8" r="1.0" fill="#448639" stroke="#67bd51"/><circle cx="8.7" cy="6.6" r="1.2" fill="#366830" stroke="#adc8ab"/><circle cx="39.9" cy="23.8" r="1.2" fill="#366830" stroke="#67bd51"/><circle cx="9.3" cy="34.7" r="1.2" fill="#448639" stroke="#adc8ab"/><circle cx="37.1" cy="32.2" r="1.1" fill="#4e9a42" stroke="#9bb29e"/><circle cx="9.1" cy="17.2" r="0.9" fill="#448639" stroke="#adc8ab"/><circle cx="39.3" cy="11.1" r="1.2" fill="#2a4f27" stroke="#adc8ab"/><circle cx="-0.4" cy="22.4" r="0.9" fill="#366830" stroke="#9bb29e"/><circle cx="45.6" cy="22.4" r="0.9" fill="#366830" stroke="#9bb29e"/><circle cx="38.3" cy="15.7" r="1.2" fill="#394f38" stroke="#67bd51"/><circle cx="30.8" cy="-2.4" r="1.1" fill="#2a4f27" stroke="#9bb29e"/><circle cx="30.8" cy="43.6" r="1.1" fill="#2a4f27" stroke="#9bb29e"/><circle cx="27.9" cy="14.8" r="1.2" fill="#2a4f27" stroke="#9bb29e"/><circle cx="11.8" cy="27.0" r="0.9" fill="#394f38" stroke="#67bd51"/><circle cx="24.5" cy="40.8" r="1.0" fill="#465e46" stroke="#adc8ab"/><circle cx="6.5" cy="-1.7" r="1.1" fill="#4e9a42" stroke="#adc8ab"/><circle cx="6.5" cy="44.3" r="1.1" fill="#4e9a42" stroke="#adc8ab"/><circle cx="11.7" cy="15.1" r="1.1" fill="#4e9a42" stroke="#9bb29e"/><circle cx="2.9" cy="18.6" r="1.2" fill="#4e9a42" stroke="#adc8ab"/><circle cx="48.9" cy="18.6" r="1.2" fill="#4e9a42" stroke="#adc8ab"/><circle cx="15.3" cy="21.2" r="0.9" fill="#366830" stroke="#9bb29e"/><circle cx="37.1" cy="40.3" r="1.1" fill="#448639" stroke="#67bd51"/><circle cx="12.8" cy="18.6" r="1.0" fill="#394f38" stroke="#adc8ab"/><circle cx="25.6" cy="-2.2" r="1.0" fill="#465e46" stroke="#adc8ab"/><circle cx="25.6" cy="43.8" r="1.0" fill="#465e46" stroke="#adc8ab"/><circle cx="4.9" cy="22.1" r="1.0" fill="#448639" stroke="#adc8ab"/><circle cx="14.2" cy="9.2" r="0.9" fill="#2a4f27" stroke="#67bd51"/><circle cx="40.4" cy="17.3" r="1.1" fill="#394f38" stroke="#adc8ab"/><circle cx="33.6" cy="25.7" r="0.9" fill="#4e9a42" stroke="#9bb29e"/><circle cx="25.6" cy="33.2" r="0.9" fill="#2a4f27" stroke="#adc8ab"/><circle cx="-1.8" cy="9.1" r="1.1" fill="#448639" stroke="#67bd51"/><circle cx="44.2" cy="9.1" r="1.1" fill="#448639" stroke="#67bd51"/><circle cx="30.6" cy="33.3" r="1.2" fill="#4e9a42" stroke="#adc8ab"/><circle cx="2.0" cy="35.1" r="1.2" fill="#2a4f27" stroke="#9bb29e"/><circle cx="48.0" cy="35.1" r="1.2" fill="#2a4f27" stroke="#9bb29e"/><circle cx="1.8" cy="-1.2" r="1.1" fill="#366830" stroke="#adc8ab"/><circle cx="1.8" cy="44.8" r="1.1" fill="#366830" stroke="#adc8ab"/><circle cx="47.8" cy="-1.2" r="1.1" fill="#366830" stroke="#adc8ab"/><circle cx="47.8" cy="44.8" r="1.1" fill="#366830" stroke="#adc8ab"/></g><circle cx="30.7" cy="6.6" r="0.5" fill="#121c11"/><circle cx="0.5" cy="17.2" r="0.5" fill="#121c11"/><circle cx="46.5" cy="17.2" r="0.5" fill="#121c11"/><circle cx="3.4" cy="31.6" r="0.5" fill="#182a17"/><circle cx="15.5" cy="18.6" r="0.5" fill="#182a17"/><circle cx="23.4" cy="4.2" r="0.5" fill="#182a17"/><circle cx="-0.6" cy="-2.5" r="0.5" fill="#182a17"/><circle cx="-0.6" cy="43.5" r="0.5" fill="#182a17"/><circle cx="45.4" cy="-2.5" r="0.5" fill="#182a17"/><circle cx="45.4" cy="43.5" r="0.5" fill="#182a17"/><circle cx="6.2" cy="14.4" r="0.6" fill="#182a17"/><circle cx="27.4" cy="21.9" r="0.5" fill="#121c11"/><circle cx="17.7" cy="1.4" r="0.5" fill="#182a17"/><circle cx="17.7" cy="47.4" r="0.5" fill="#182a17"/><circle cx="-1.1" cy="30.5" r="0.5" fill="#121c11"/><circle cx="44.9" cy="30.5" r="0.5" fill="#121c11"/><circle cx="5.2" cy="10.8" r="0.4" fill="#182a17"/><circle cx="37.3" cy="23.0" r="0.5" fill="#121c11"/><circle cx="19.8" cy="23.9" r="0.5" fill="#121c11"/><circle cx="17.9" cy="35.5" r="0.5" fill="#121c11"/><circle cx="4.7" cy="25.3" r="0.4" fill="#121c11"/><circle cx="1.7" cy="12.7" r="0.5" fill="#121c11"/><circle cx="47.7" cy="12.7" r="0.5" fill="#121c11"/><circle cx="21.9" cy="-1.9" r="0.6" fill="#121c11"/><circle cx="21.9" cy="44.1" r="0.6" fill="#121c11"/><circle cx="16.8" cy="8.7" r="0.4" fill="#182a17"/><circle cx="34.4" cy="42.0" r="0.4" fill="#182a17"/><circle cx="35.5" cy="15.7" r="0.4" fill="#121c11"/><circle cx="1.8" cy="28.5" r="0.5" fill="#182a17"/><circle cx="47.8" cy="28.5" r="0.5" fill="#182a17"/><circle cx="23.2" cy="1.1" r="0.4" fill="#121c11"/><circle cx="23.2" cy="47.1" r="0.4" fill="#121c11"/><circle cx="38.3" cy="29.4" r="0.5" fill="#182a17"/><circle cx="10.6" cy="24.3" r="0.5" fill="#121c11"/><circle cx="12.1" cy="-2.5" r="0.6" fill="#182a17"/><circle cx="12.1" cy="43.5" r="0.6" fill="#182a17"/><circle cx="19.3" cy="11.1" r="0.4" fill="#182a17"/><circle cx="36.3" cy="26.7" r="0.6" fill="#182a17"/><circle cx="17.5" cy="4.5" r="0.4" fill="#121c11"/><circle cx="32.2" cy="18.1" r="0.5" fill="#182a17"/><circle cx="34.9" cy="30.3" r="0.5" fill="#121c11"/><circle cx="30.7" cy="15.7" r="0.5" fill="#121c11"/><circle cx="-1.3" cy="25.5" r="0.5" fill="#121c11"/><circle cx="44.7" cy="25.5" r="0.5" fill="#121c11"/><circle cx="23.0" cy="16.6" r="0.4" fill="#121c11"/><circle cx="37.1" cy="7.8" r="0.5" fill="#121c11"/><circle cx="0.6" cy="7.9" r="0.5" fill="#182a17"/><circle cx="46.6" cy="7.9" r="0.5" fill="#182a17"/><circle cx="2.9" cy="5.0" r="0.5" fill="#182a17"/><circle cx="48.9" cy="5.0" r="0.5" fill="#182a17"/><circle cx="28.3" cy="-1.6" r="0.5" fill="#182a17"/><circle cx="28.3" cy="44.4" r="0.5" fill="#182a17"/><circle cx="-1.8" cy="34.3" r="0.4" fill="#182a17"/><circle cx="44.2" cy="34.3" r="0.4" fill="#182a17"/><circle cx="-2.3" cy="1.3" r="0.5" fill="#121c11"/><circle cx="-2.3" cy="47.3" r="0.5" fill="#121c11"/><circle cx="43.7" cy="1.3" r="0.5" fill="#121c11"/><circle cx="43.7" cy="47.3" r="0.5" fill="#121c11"/><circle cx="25.0" cy="14.5" r="0.4" fill="#121c11"/><circle cx="11.1" cy="4.0" r="0.5" fill="#121c11"/><circle cx="22.2" cy="33.6" r="0.4" fill="#182a17"/><circle cx="38.0" cy="34.8" r="0.4" fill="#182a17"/><circle cx="28.7" cy="24.7" r="0.4" fill="#182a17"/><circle cx="25.2" cy="27.4" r="0.4" fill="#182a17"/><circle cx="33.4" cy="23.1" r="0.5" fill="#182a17"/><circle cx="14.1" cy="1.1" r="0.4" fill="#121c11"/><circle cx="14.1" cy="47.1" r="0.4" fill="#121c11"/><circle cx="28.4" cy="8.5" r="0.4" fill="#182a17"/><circle cx="31.2" cy="40.0" r="0.5" fill="#182a17"/><circle cx="34.6" cy="37.9" r="0.5" fill="#121c11"/><circle cx="7.8" cy="1.0" r="0.5" fill="#182a17"/><circle cx="7.8" cy="47.0" r="0.5" fill="#182a17"/><circle cx="14.6" cy="42.9" r="0.5" fill="#121c11"/><circle cx="20.1" cy="41.9" r="0.5" fill="#182a17"/><circle cx="30.4" cy="22.1" r="0.5" fill="#182a17"/><circle cx="9.2" cy="-1.7" r="0.5" fill="#121c11"/><circle cx="9.2" cy="44.3" r="0.5" fill="#121c11"/><circle cx="33.8" cy="6.5" r="0.4" fill="#121c11"/><circle cx="3.9" cy="0.3" r="0.4" fill="#121c11"/><circle cx="3.9" cy="46.3" r="0.4" fill="#121c11"/><circle cx="8.2" cy="22.9" r="0.5" fill="#121c11"/><circle cx="5.7" cy="17.7" r="0.5" fill="#121c11"/><circle cx="37.5" cy="4.0" r="0.4" fill="#121c11"/><circle cx="41.0" cy="20.5" r="0.4" fill="#121c11"/><circle cx="12.3" cy="22.1" r="0.5" fill="#182a17"/><circle cx="41.2" cy="32.9" r="0.4" fill="#121c11"/><circle cx="10.1" cy="41.3" r="0.5" fill="#121c11"/><circle cx="25.8" cy="0.5" r="0.5" fill="#121c11"/><circle cx="25.8" cy="46.5" r="0.5" fill="#121c11"/><circle cx="24.2" cy="10.3" r="0.6" fill="#182a17"/><circle cx="19.0" cy="32.8" r="0.4" fill="#182a17"/><circle cx="22.9" cy="38.7" r="0.5" fill="#121c11"/><circle cx="15.9" cy="11.7" r="0.4" fill="#121c11"/><circle cx="-0.9" cy="14.6" r="0.4" fill="#182a17"/><circle cx="45.1" cy="14.6" r="0.4" fill="#182a17"/><circle cx="41.8" cy="10.1" r="0.4" fill="#182a17"/><circle cx="14.4" cy="25.3" r="0.5" fill="#182a17"/><circle cx="11.8" cy="33.8" r="0.4" fill="#121c11"/><circle cx="21.2" cy="20.8" r="0.5" fill="#182a17"/><circle cx="3.1" cy="15.3" r="0.4" fill="#182a17"/><circle cx="0.4" cy="1.5" r="0.5" fill="#121c11"/><circle cx="0.4" cy="47.5" r="0.5" fill="#121c11"/><circle cx="46.4" cy="1.5" r="0.5" fill="#121c11"/><circle cx="46.4" cy="47.5" r="0.5" fill="#121c11"/><circle cx="-1.8" cy="20.1" r="0.5" fill="#182a17"/><circle cx="44.2" cy="20.1" r="0.5" fill="#182a17"/><circle cx="36.3" cy="10.5" r="0.4" fill="#121c11"/><circle cx="-0.3" cy="36.8" r="0.5" fill="#121c11"/><circle cx="45.7" cy="36.8" r="0.5" fill="#121c11"/><circle cx="13.1" cy="29.4" r="0.5" fill="#182a17"/><circle cx="1.9" cy="25.8" r="0.6" fill="#121c11"/><circle cx="47.9" cy="25.8" r="0.6" fill="#121c11"/><circle cx="20.6" cy="17.7" r="0.4" fill="#182a17"/><circle cx="5.2" cy="39.9" r="0.5" fill="#182a17"/><circle cx="31.5" cy="36.9" r="0.5" fill="#121c11"/><circle cx="0.9" cy="40.0" r="0.5" fill="#121c11"/><circle cx="46.9" cy="40.0" r="0.5" fill="#121c11"/><circle cx="8.7" cy="6.6" r="0.5" fill="#121c11"/><circle cx="9.3" cy="34.7" r="0.5" fill="#121c11"/><circle cx="37.1" cy="32.2" r="0.5" fill="#182a17"/><circle cx="39.3" cy="11.1" r="0.5" fill="#121c11"/><circle cx="38.3" cy="15.7" r="0.6" fill="#182a17"/><circle cx="11.8" cy="27.0" r="0.4" fill="#121c11"/><circle cx="24.5" cy="40.8" r="0.5" fill="#182a17"/><circle cx="6.5" cy="-1.7" r="0.5" fill="#121c11"/><circle cx="6.5" cy="44.3" r="0.5" fill="#121c11"/><circle cx="2.9" cy="18.6" r="0.5" fill="#121c11"/><circle cx="48.9" cy="18.6" r="0.5" fill="#121c11"/><circle cx="37.1" cy="40.3" r="0.5" fill="#121c11"/><circle cx="40.4" cy="17.3" r="0.5" fill="#182a17"/><circle cx="-1.8" cy="9.1" r="0.5" fill="#182a17"/><circle cx="44.2" cy="9.1" r="0.5" fill="#182a17"/><circle cx="30.6" cy="33.3" r="0.6" fill="#121c11"/><circle cx="2.0" cy="35.1" r="0.5" fill="#182a17"/><circle cx="48.0" cy="35.1" r="0.5" fill="#182a17"/><circle cx="1.8" cy="-1.2" r="0.5" fill="#182a17"/><circle cx="1.8" cy="44.8" r="0.5" fill="#182a17"/><circle cx="47.8" cy="-1.2" r="0.5" fill="#182a17"/><circle cx="47.8" cy="44.8" r="0.5" fill="#182a17"/></pattern>
<pattern id="pGb" width="46" height="46" patternUnits="userSpaceOnUse"><rect width="46" height="46" fill="#626262"/><g stroke="#c8c8c8" stroke-width="0.5"><circle cx="-2.0" cy="-2.4" r="0.9" fill="#474747"/><circle cx="-2.0" cy="43.6" r="0.9" fill="#474747"/><circle cx="44.0" cy="-2.4" r="0.9" fill="#474747"/><circle cx="44.0" cy="43.6" r="0.9" fill="#474747"/><circle cx="2.6" cy="3.9" r="1.0" fill="#5f5f5f"/><circle cx="48.6" cy="3.9" r="1.0" fill="#5f5f5f"/><circle cx="38.4" cy="33.9" r="1.1" fill="#3c3c3c"/><circle cx="30.8" cy="14.2" r="1.1" fill="#5f5f5f"/><circle cx="27.9" cy="27.9" r="1.0" fill="#474747"/><circle cx="26.7" cy="7.3" r="0.9" fill="#5f5f5f"/><circle cx="19.8" cy="18.1" r="1.1" fill="#5f5f5f"/><circle cx="33.3" cy="-0.2" r="1.0" fill="#474747"/><circle cx="33.3" cy="45.8" r="1.0" fill="#474747"/><circle cx="-2.3" cy="25.0" r="0.9" fill="#474747"/><circle cx="43.7" cy="25.0" r="0.9" fill="#474747"/><circle cx="20.5" cy="12.3" r="1.2" fill="#5f5f5f"/><circle cx="1.7" cy="1.3" r="1.1" fill="#3c3c3c"/><circle cx="1.7" cy="47.3" r="1.1" fill="#3c3c3c"/><circle cx="47.7" cy="1.3" r="1.1" fill="#3c3c3c"/><circle cx="47.7" cy="47.3" r="1.1" fill="#3c3c3c"/><circle cx="17.5" cy="41.0" r="0.9" fill="#3c3c3c"/><circle cx="24.2" cy="25.8" r="1.0" fill="#3c3c3c"/><circle cx="10.9" cy="1.1" r="1.2" fill="#535353"/><circle cx="10.9" cy="47.1" r="1.2" fill="#535353"/><circle cx="15.0" cy="6.3" r="1.0" fill="#5f5f5f"/><circle cx="23.5" cy="-0.1" r="1.1" fill="#5f5f5f"/><circle cx="23.5" cy="45.9" r="1.1" fill="#5f5f5f"/><circle cx="31.0" cy="8.4" r="1.0" fill="#5f5f5f"/><circle cx="41.1" cy="36.7" r="1.2" fill="#474747"/><circle cx="33.8" cy="41.7" r="1.2" fill="#3c3c3c"/><circle cx="35.1" cy="36.3" r="0.9" fill="#5f5f5f"/><circle cx="16.3" cy="-0.9" r="0.9" fill="#5f5f5f"/><circle cx="16.3" cy="45.1" r="0.9" fill="#5f5f5f"/><circle cx="-1.8" cy="7.4" r="1.2" fill="#535353"/><circle cx="44.2" cy="7.4" r="1.2" fill="#535353"/><circle cx="34.7" cy="32.9" r="1.0" fill="#5f5f5f"/><circle cx="21.2" cy="24.4" r="1.1" fill="#5f5f5f"/><circle cx="22.5" cy="42.5" r="1.1" fill="#535353"/><circle cx="23.0" cy="38.3" r="1.1" fill="#3c3c3c"/><circle cx="41.4" cy="21.2" r="1.2" fill="#474747"/><circle cx="26.1" cy="42.3" r="1.1" fill="#535353"/><circle cx="33.3" cy="22.4" r="1.2" fill="#3c3c3c"/><circle cx="10.2" cy="14.9" r="1.1" fill="#474747"/><circle cx="41.8" cy="12.3" r="1.1" fill="#535353"/><circle cx="-2.0" cy="32.5" r="1.0" fill="#3c3c3c"/><circle cx="44.0" cy="32.5" r="1.0" fill="#3c3c3c"/><circle cx="14.3" cy="9.6" r="1.0" fill="#5f5f5f"/><circle cx="28.7" cy="3.5" r="0.9" fill="#3c3c3c"/><circle cx="41.8" cy="8.8" r="1.0" fill="#474747"/><circle cx="34.3" cy="2.7" r="0.9" fill="#5f5f5f"/><circle cx="34.3" cy="48.7" r="0.9" fill="#5f5f5f"/><circle cx="10.4" cy="40.3" r="1.2" fill="#3c3c3c"/><circle cx="4.9" cy="24.0" r="0.9" fill="#3c3c3c"/><circle cx="39.3" cy="11.3" r="1.0" fill="#535353"/><circle cx="19.5" cy="33.0" r="1.1" fill="#535353"/><circle cx="1.5" cy="16.7" r="1.1" fill="#3c3c3c"/><circle cx="47.5" cy="16.7" r="1.1" fill="#3c3c3c"/><circle cx="7.9" cy="30.9" r="1.0" fill="#3c3c3c"/><circle cx="3.8" cy="-2.1" r="0.9" fill="#3c3c3c"/><circle cx="3.8" cy="43.9" r="0.9" fill="#3c3c3c"/><circle cx="1.2" cy="33.6" r="1.2" fill="#5f5f5f"/><circle cx="47.2" cy="33.6" r="1.2" fill="#5f5f5f"/><circle cx="1.0" cy="11.8" r="1.0" fill="#535353"/><circle cx="47.0" cy="11.8" r="1.0" fill="#535353"/><circle cx="37.4" cy="7.2" r="0.9" fill="#3c3c3c"/><circle cx="17.7" cy="2.0" r="1.2" fill="#535353"/><circle cx="17.7" cy="48.0" r="1.2" fill="#535353"/><circle cx="28.3" cy="34.2" r="1.0" fill="#474747"/><circle cx="5.2" cy="15.5" r="1.2" fill="#5f5f5f"/><circle cx="1.4" cy="20.6" r="1.0" fill="#5f5f5f"/><circle cx="47.4" cy="20.6" r="1.0" fill="#5f5f5f"/><circle cx="4.7" cy="20.6" r="1.1" fill="#3c3c3c"/><circle cx="40.2" cy="5.9" r="1.1" fill="#535353"/><circle cx="26.9" cy="18.1" r="1.0" fill="#474747"/><circle cx="23.7" cy="6.6" r="1.2" fill="#5f5f5f"/><circle cx="0.8" cy="25.7" r="1.2" fill="#535353"/><circle cx="46.8" cy="25.7" r="1.2" fill="#535353"/><circle cx="6.5" cy="2.6" r="1.1" fill="#3c3c3c"/><circle cx="6.5" cy="48.6" r="1.1" fill="#3c3c3c"/><circle cx="1.5" cy="7.4" r="1.2" fill="#535353"/><circle cx="47.5" cy="7.4" r="1.2" fill="#535353"/><circle cx="4.4" cy="29.2" r="0.9" fill="#474747"/><circle cx="10.7" cy="20.5" r="0.9" fill="#535353"/><circle cx="11.5" cy="27.2" r="1.0" fill="#535353"/><circle cx="28.7" cy="36.8" r="1.1" fill="#535353"/><circle cx="32.6" cy="11.8" r="1.1" fill="#3c3c3c"/><circle cx="18.8" cy="5.1" r="1.1" fill="#3c3c3c"/><circle cx="4.6" cy="8.4" r="1.2" fill="#535353"/><circle cx="10.7" cy="10.0" r="1.1" fill="#535353"/><circle cx="24.0" cy="21.4" r="1.1" fill="#535353"/><circle cx="14.2" cy="29.5" r="0.9" fill="#474747"/><circle cx="36.9" cy="16.8" r="1.0" fill="#535353"/><circle cx="28.1" cy="13.3" r="1.2" fill="#535353"/><circle cx="38.7" cy="30.9" r="1.0" fill="#5f5f5f"/><circle cx="18.9" cy="22.3" r="0.9" fill="#3c3c3c"/><circle cx="3.4" cy="13.1" r="1.2" fill="#474747"/><circle cx="3.5" cy="34.7" r="1.0" fill="#474747"/><circle cx="8.8" cy="26.3" r="1.1" fill="#535353"/><circle cx="34.7" cy="18.2" r="0.9" fill="#474747"/><circle cx="5.6" cy="5.6" r="1.1" fill="#3c3c3c"/><circle cx="3.7" cy="39.1" r="0.9" fill="#535353"/><circle cx="29.5" cy="-1.9" r="1.2" fill="#474747"/><circle cx="29.5" cy="44.1" r="1.2" fill="#474747"/><circle cx="16.4" cy="21.0" r="1.0" fill="#474747"/><circle cx="36.7" cy="12.4" r="0.9" fill="#474747"/><circle cx="-2.1" cy="37.0" r="1.2" fill="#5f5f5f"/><circle cx="43.9" cy="37.0" r="1.2" fill="#5f5f5f"/><circle cx="37.6" cy="4.4" r="1.0" fill="#3c3c3c"/><circle cx="41.2" cy="-0.5" r="0.9" fill="#474747"/><circle cx="41.2" cy="45.5" r="0.9" fill="#474747"/><circle cx="29.8" cy="5.9" r="1.0" fill="#474747"/><circle cx="30.9" cy="31.3" r="1.2" fill="#535353"/><circle cx="20.3" cy="1.4" r="1.2" fill="#3c3c3c"/><circle cx="20.3" cy="47.4" r="1.2" fill="#3c3c3c"/><circle cx="8.3" cy="23.5" r="1.2" fill="#535353"/><circle cx="-1.7" cy="15.2" r="1.1" fill="#5f5f5f"/><circle cx="44.3" cy="15.2" r="1.1" fill="#5f5f5f"/><circle cx="34.3" cy="30.3" r="1.0" fill="#535353"/><circle cx="35.0" cy="39.2" r="1.0" fill="#5f5f5f"/><circle cx="-1.0" cy="29.2" r="1.0" fill="#5f5f5f"/><circle cx="45.0" cy="29.2" r="1.0" fill="#5f5f5f"/><circle cx="0.8" cy="-2.6" r="0.9" fill="#5f5f5f"/><circle cx="0.8" cy="43.4" r="0.9" fill="#5f5f5f"/><circle cx="46.8" cy="-2.6" r="0.9" fill="#5f5f5f"/><circle cx="46.8" cy="43.4" r="0.9" fill="#5f5f5f"/><circle cx="41.6" cy="40.7" r="0.9" fill="#3c3c3c"/><circle cx="35.3" cy="9.2" r="1.0" fill="#5f5f5f"/><circle cx="34.2" cy="27.0" r="1.1" fill="#474747"/><circle cx="8.8" cy="37.0" r="0.9" fill="#5f5f5f"/><circle cx="9.4" cy="-1.5" r="1.2" fill="#535353"/><circle cx="9.4" cy="44.5" r="1.2" fill="#535353"/><circle cx="22.3" cy="31.0" r="1.1" fill="#474747"/><circle cx="15.4" cy="12.3" r="1.2" fill="#535353"/><circle cx="8.0" cy="34.5" r="0.9" fill="#474747"/><circle cx="7.5" cy="17.6" r="0.9" fill="#474747"/><circle cx="20.4" cy="40.0" r="1.2" fill="#5f5f5f"/><circle cx="42.1" cy="3.5" r="1.1" fill="#3c3c3c"/><circle cx="30.1" cy="18.1" r="1.0" fill="#3c3c3c"/><circle cx="36.7" cy="28.9" r="0.9" fill="#535353"/><circle cx="12.8" cy="-1.9" r="0.9" fill="#3c3c3c"/><circle cx="12.8" cy="44.1" r="0.9" fill="#3c3c3c"/><circle cx="17.4" cy="16.8" r="1.1" fill="#5f5f5f"/><circle cx="14.6" cy="3.6" r="0.9" fill="#3c3c3c"/><circle cx="21.0" cy="7.7" r="1.0" fill="#535353"/><circle cx="18.4" cy="37.9" r="1.2" fill="#5f5f5f"/><circle cx="40.0" cy="-3.0" r="1.2" fill="#3c3c3c"/><circle cx="40.0" cy="43.0" r="1.2" fill="#3c3c3c"/><circle cx="18.2" cy="8.0" r="1.0" fill="#474747"/><circle cx="25.0" cy="10.9" r="0.9" fill="#3c3c3c"/><circle cx="17.1" cy="35.3" r="0.9" fill="#535353"/><circle cx="39.1" cy="19.8" r="1.2" fill="#474747"/><circle cx="14.6" cy="38.5" r="1.2" fill="#3c3c3c"/><circle cx="36.7" cy="0.4" r="1.0" fill="#5f5f5f"/><circle cx="36.7" cy="46.4" r="1.0" fill="#5f5f5f"/><circle cx="8.0" cy="6.8" r="0.9" fill="#535353"/><circle cx="23.1" cy="2.8" r="0.9" fill="#5f5f5f"/><circle cx="23.1" cy="48.8" r="0.9" fill="#5f5f5f"/><circle cx="37.8" cy="24.1" r="0.9" fill="#535353"/><circle cx="31.4" cy="40.3" r="1.2" fill="#3c3c3c"/><circle cx="17.4" cy="28.6" r="1.2" fill="#474747"/><circle cx="10.5" cy="32.3" r="0.9" fill="#3c3c3c"/><circle cx="37.9" cy="38.4" r="0.9" fill="#3c3c3c"/><circle cx="29.2" cy="25.0" r="1.2" fill="#3c3c3c"/><circle cx="15.3" cy="24.7" r="1.1" fill="#5f5f5f"/><circle cx="36.2" cy="20.6" r="1.0" fill="#535353"/><circle cx="0.6" cy="40.0" r="0.9" fill="#5f5f5f"/><circle cx="46.6" cy="40.0" r="0.9" fill="#5f5f5f"/><circle cx="33.3" cy="15.8" r="1.1" fill="#535353"/><circle cx="36.8" cy="42.1" r="1.0" fill="#474747"/><circle cx="40.2" cy="27.2" r="1.2" fill="#5f5f5f"/><circle cx="-1.4" cy="18.0" r="0.9" fill="#3c3c3c"/><circle cx="44.6" cy="18.0" r="0.9" fill="#3c3c3c"/><circle cx="-1.5" cy="1.2" r="1.1" fill="#5f5f5f"/><circle cx="-1.5" cy="47.2" r="1.1" fill="#5f5f5f"/><circle cx="44.5" cy="1.2" r="1.1" fill="#5f5f5f"/><circle cx="44.5" cy="47.2" r="1.1" fill="#5f5f5f"/><circle cx="11.3" cy="36.3" r="1.2" fill="#474747"/><circle cx="23.0" cy="12.9" r="0.9" fill="#5f5f5f"/><circle cx="20.1" cy="-2.3" r="1.1" fill="#5f5f5f"/><circle cx="20.1" cy="43.7" r="1.1" fill="#5f5f5f"/><circle cx="26.2" cy="31.6" r="1.1" fill="#3c3c3c"/><circle cx="4.3" cy="0.8" r="1.1" fill="#5f5f5f"/><circle cx="4.3" cy="46.8" r="1.1" fill="#5f5f5f"/><circle cx="5.8" cy="27.0" r="0.9" fill="#5f5f5f"/><circle cx="7.1" cy="42.4" r="1.2" fill="#535353"/><circle cx="7.1" cy="12.3" r="1.0" fill="#5f5f5f"/><circle cx="26.5" cy="24.2" r="1.0" fill="#474747"/><circle cx="23.7" cy="33.9" r="0.9" fill="#535353"/><circle cx="11.7" cy="12.8" r="1.1" fill="#3c3c3c"/><circle cx="40.2" cy="17.3" r="1.2" fill="#474747"/><circle cx="24.3" cy="18.5" r="1.0" fill="#3c3c3c"/><circle cx="21.4" cy="36.1" r="1.2" fill="#535353"/><circle cx="28.2" cy="40.1" r="1.2" fill="#535353"/><circle cx="31.4" cy="3.7" r="0.9" fill="#3c3c3c"/><circle cx="24.5" cy="29.0" r="1.2" fill="#5f5f5f"/><circle cx="1.2" cy="37.4" r="1.1" fill="#535353"/><circle cx="47.2" cy="37.4" r="1.1" fill="#535353"/><circle cx="27.0" cy="1.0" r="1.1" fill="#3c3c3c"/><circle cx="27.0" cy="47.0" r="1.1" fill="#3c3c3c"/><circle cx="32.5" cy="37.5" r="1.2" fill="#3c3c3c"/><circle cx="42.3" cy="29.2" r="1.0" fill="#474747"/><circle cx="13.9" cy="22.4" r="1.2" fill="#3c3c3c"/><circle cx="25.4" cy="15.8" r="1.1" fill="#3c3c3c"/><circle cx="26.9" cy="21.4" r="1.1" fill="#5f5f5f"/><circle cx="20.9" cy="15.7" r="0.9" fill="#3c3c3c"/><circle cx="14.1" cy="41.2" r="1.0" fill="#3c3c3c"/><circle cx="30.5" cy="1.1" r="0.9" fill="#3c3c3c"/><circle cx="30.5" cy="47.1" r="0.9" fill="#3c3c3c"/><circle cx="-0.1" cy="23.2" r="1.1" fill="#535353"/><circle cx="45.9" cy="23.2" r="1.1" fill="#535353"/><circle cx="18.7" cy="25.8" r="1.1" fill="#3c3c3c"/><circle cx="11.7" cy="24.5" r="0.9" fill="#474747"/><circle cx="7.6" cy="20.5" r="0.9" fill="#3c3c3c"/><circle cx="1.6" cy="28.8" r="1.2" fill="#3c3c3c"/><circle cx="47.6" cy="28.8" r="1.2" fill="#3c3c3c"/><circle cx="30.8" cy="27.9" r="1.1" fill="#474747"/><circle cx="40.8" cy="14.7" r="1.2" fill="#474747"/><circle cx="12.0" cy="17.0" r="1.2" fill="#474747"/><circle cx="11.3" cy="4.2" r="1.0" fill="#5f5f5f"/><circle cx="31.3" cy="34.7" r="1.0" fill="#5f5f5f"/><circle cx="40.6" cy="23.7" r="1.2" fill="#5f5f5f"/><circle cx="29.3" cy="10.4" r="1.2" fill="#5f5f5f"/><circle cx="14.9" cy="15.8" r="1.1" fill="#5f5f5f"/><circle cx="13.7" cy="34.0" r="1.2" fill="#474747"/><circle cx="9.5" cy="28.9" r="1.0" fill="#5f5f5f"/><circle cx="41.5" cy="33.4" r="0.9" fill="#5f5f5f"/><circle cx="-2.2" cy="10.5" r="1.2" fill="#474747"/><circle cx="43.8" cy="10.5" r="1.2" fill="#474747"/><circle cx="16.2" cy="32.5" r="0.9" fill="#5f5f5f"/><circle cx="20.9" cy="27.4" r="1.1" fill="#5f5f5f"/><circle cx="30.6" cy="22.4" r="1.1" fill="#474747"/><circle cx="6.0" cy="37.4" r="0.9" fill="#474747"/><circle cx="39.4" cy="1.6" r="0.9" fill="#535353"/><circle cx="39.4" cy="47.6" r="0.9" fill="#535353"/><circle cx="13.8" cy="0.7" r="1.2" fill="#535353"/><circle cx="13.8" cy="46.7" r="1.2" fill="#535353"/><circle cx="5.4" cy="32.4" r="1.1" fill="#5f5f5f"/><circle cx="34.0" cy="6.7" r="1.1" fill="#535353"/><circle cx="22.3" cy="10.2" r="1.2" fill="#535353"/><circle cx="25.8" cy="38.2" r="0.9" fill="#5f5f5f"/><circle cx="-0.1" cy="4.5" r="1.2" fill="#474747"/><circle cx="45.9" cy="4.5" r="1.2" fill="#474747"/><circle cx="32.2" cy="25.2" r="0.9" fill="#535353"/><circle cx="6.6" cy="-1.0" r="0.9" fill="#5f5f5f"/><circle cx="6.6" cy="45.0" r="0.9" fill="#5f5f5f"/><circle cx="11.7" cy="7.4" r="1.2" fill="#474747"/><circle cx="13.3" cy="19.5" r="1.0" fill="#5f5f5f"/><circle cx="21.4" cy="5.1" r="1.1" fill="#474747"/><circle cx="7.1" cy="9.5" r="1.0" fill="#3c3c3c"/><circle cx="25.6" cy="4.6" r="1.0" fill="#3c3c3c"/><circle cx="7.2" cy="39.8" r="1.2" fill="#5f5f5f"/><circle cx="3.9" cy="18.1" r="1.2" fill="#3c3c3c"/><circle cx="2.8" cy="31.3" r="1.0" fill="#474747"/><circle cx="48.8" cy="31.3" r="1.0" fill="#474747"/><circle cx="18.1" cy="14.1" r="1.2" fill="#3c3c3c"/><circle cx="25.7" cy="35.5" r="1.2" fill="#535353"/><circle cx="17.9" cy="11.4" r="0.9" fill="#474747"/><circle cx="32.3" cy="19.7" r="1.2" fill="#474747"/><circle cx="21.2" cy="21.1" r="0.9" fill="#3c3c3c"/><circle cx="19.8" cy="30.0" r="1.2" fill="#535353"/><circle cx="-1.3" cy="20.7" r="0.9" fill="#3c3c3c"/><circle cx="44.7" cy="20.7" r="0.9" fill="#3c3c3c"/></g></pattern>
<pattern id="pLa" width="40" height="40" patternUnits="userSpaceOnUse"><rect width="40" height="40" fill="#727272"/><g stroke="#d4d4d4" stroke-width="0.5"><circle cx="24.9" cy="29.7" r="1.2" fill="#4a4a4a"/><circle cx="31.8" cy="-2.3" r="1.0" fill="#616161"/><circle cx="31.8" cy="37.7" r="1.0" fill="#616161"/><circle cx="1.2" cy="18.6" r="0.9" fill="#555555"/><circle cx="41.2" cy="18.6" r="0.9" fill="#555555"/><circle cx="-2.3" cy="26.0" r="1.1" fill="#6d6d6d"/><circle cx="37.7" cy="26.0" r="1.1" fill="#6d6d6d"/><circle cx="36.0" cy="4.5" r="1.2" fill="#616161"/><circle cx="18.8" cy="9.9" r="1.0" fill="#4a4a4a"/><circle cx="21.8" cy="23.0" r="1.0" fill="#555555"/><circle cx="0.5" cy="8.7" r="1.1" fill="#6d6d6d"/><circle cx="40.5" cy="8.7" r="1.1" fill="#6d6d6d"/><circle cx="11.2" cy="36.7" r="1.2" fill="#4a4a4a"/><circle cx="30.6" cy="6.4" r="0.9" fill="#616161"/><circle cx="24.7" cy="5.1" r="1.1" fill="#4a4a4a"/><circle cx="0.1" cy="34.9" r="1.2" fill="#616161"/><circle cx="40.1" cy="34.9" r="1.2" fill="#616161"/><circle cx="8.4" cy="8.6" r="1.2" fill="#616161"/><circle cx="21.6" cy="27.1" r="1.2" fill="#616161"/><circle cx="8.2" cy="-2.4" r="1.0" fill="#4a4a4a"/><circle cx="8.2" cy="37.6" r="1.0" fill="#4a4a4a"/><circle cx="27.6" cy="-1.3" r="1.2" fill="#616161"/><circle cx="27.6" cy="38.7" r="1.2" fill="#616161"/><circle cx="35.7" cy="12.0" r="0.9" fill="#4a4a4a"/><circle cx="14.4" cy="6.6" r="1.1" fill="#555555"/><circle cx="5.8" cy="2.6" r="1.2" fill="#616161"/><circle cx="5.8" cy="42.6" r="1.2" fill="#616161"/><circle cx="12.1" cy="24.1" r="1.0" fill="#555555"/><circle cx="0.1" cy="27.1" r="1.1" fill="#4a4a4a"/><circle cx="40.1" cy="27.1" r="1.1" fill="#4a4a4a"/><circle cx="13.5" cy="12.4" r="1.1" fill="#555555"/><circle cx="32.7" cy="19.2" r="1.1" fill="#616161"/><circle cx="12.6" cy="19.2" r="1.0" fill="#4a4a4a"/><circle cx="28.2" cy="2.3" r="0.9" fill="#555555"/><circle cx="28.2" cy="42.3" r="0.9" fill="#555555"/><circle cx="-1.0" cy="0.9" r="0.9" fill="#616161"/><circle cx="-1.0" cy="40.9" r="0.9" fill="#616161"/><circle cx="39.0" cy="0.9" r="0.9" fill="#616161"/><circle cx="39.0" cy="40.9" r="0.9" fill="#616161"/><circle cx="30.0" cy="33.8" r="1.0" fill="#555555"/><circle cx="0.7" cy="31.5" r="1.0" fill="#555555"/><circle cx="40.7" cy="31.5" r="1.0" fill="#555555"/><circle cx="14.6" cy="23.1" r="0.9" fill="#555555"/><circle cx="7.9" cy="30.2" r="1.2" fill="#4a4a4a"/><circle cx="-2.8" cy="-2.3" r="0.9" fill="#555555"/><circle cx="-2.8" cy="37.7" r="0.9" fill="#555555"/><circle cx="37.2" cy="-2.3" r="0.9" fill="#555555"/><circle cx="37.2" cy="37.7" r="0.9" fill="#555555"/><circle cx="21.0" cy="31.0" r="0.9" fill="#616161"/><circle cx="4.3" cy="29.9" r="1.1" fill="#616161"/><circle cx="1.5" cy="-2.2" r="1.0" fill="#6d6d6d"/><circle cx="1.5" cy="37.8" r="1.0" fill="#6d6d6d"/><circle cx="41.5" cy="-2.2" r="1.0" fill="#6d6d6d"/><circle cx="41.5" cy="37.8" r="1.0" fill="#6d6d6d"/><circle cx="3.6" cy="13.6" r="1.0" fill="#6d6d6d"/><circle cx="24.4" cy="36.7" r="0.9" fill="#6d6d6d"/><circle cx="21.8" cy="12.5" r="1.1" fill="#6d6d6d"/><circle cx="3.1" cy="6.0" r="0.9" fill="#6d6d6d"/><circle cx="-0.5" cy="21.3" r="0.9" fill="#4a4a4a"/><circle cx="39.5" cy="21.3" r="0.9" fill="#4a4a4a"/><circle cx="23.8" cy="33.1" r="1.2" fill="#6d6d6d"/><circle cx="18.2" cy="16.9" r="1.0" fill="#6d6d6d"/><circle cx="4.3" cy="17.4" r="1.2" fill="#6d6d6d"/><circle cx="6.0" cy="33.8" r="1.0" fill="#6d6d6d"/><circle cx="15.1" cy="-0.5" r="1.2" fill="#555555"/><circle cx="15.1" cy="39.5" r="1.2" fill="#555555"/><circle cx="3.6" cy="10.9" r="1.1" fill="#616161"/><circle cx="14.5" cy="31.4" r="1.0" fill="#555555"/><circle cx="31.0" cy="27.8" r="0.9" fill="#4a4a4a"/><circle cx="14.5" cy="28.2" r="1.0" fill="#616161"/><circle cx="26.0" cy="23.2" r="0.9" fill="#6d6d6d"/><circle cx="10.0" cy="26.9" r="1.0" fill="#616161"/><circle cx="18.5" cy="32.7" r="1.2" fill="#6d6d6d"/><circle cx="34.8" cy="27.5" r="1.1" fill="#616161"/><circle cx="-2.5" cy="19.1" r="1.1" fill="#6d6d6d"/><circle cx="37.5" cy="19.1" r="1.1" fill="#6d6d6d"/><circle cx="27.7" cy="28.8" r="1.0" fill="#6d6d6d"/><circle cx="31.2" cy="23.2" r="1.0" fill="#6d6d6d"/><circle cx="26.6" cy="16.8" r="1.0" fill="#555555"/><circle cx="17.6" cy="26.0" r="1.2" fill="#6d6d6d"/><circle cx="25.2" cy="1.7" r="1.1" fill="#616161"/><circle cx="25.2" cy="41.7" r="1.1" fill="#616161"/><circle cx="0.0" cy="16.2" r="1.0" fill="#6d6d6d"/><circle cx="40.0" cy="16.2" r="1.0" fill="#6d6d6d"/><circle cx="11.1" cy="16.4" r="1.2" fill="#555555"/><circle cx="24.3" cy="14.0" r="1.2" fill="#616161"/><circle cx="35.7" cy="0.0" r="1.1" fill="#6d6d6d"/><circle cx="35.7" cy="40.0" r="1.1" fill="#6d6d6d"/><circle cx="4.3" cy="22.6" r="1.2" fill="#555555"/><circle cx="15.0" cy="17.3" r="0.9" fill="#4a4a4a"/><circle cx="9.1" cy="11.7" r="1.1" fill="#616161"/><circle cx="23.8" cy="10.4" r="1.0" fill="#6d6d6d"/><circle cx="16.6" cy="12.8" r="1.2" fill="#4a4a4a"/><circle cx="31.3" cy="9.8" r="1.2" fill="#555555"/><circle cx="10.7" cy="6.2" r="1.2" fill="#4a4a4a"/><circle cx="-0.4" cy="11.7" r="1.0" fill="#6d6d6d"/><circle cx="39.6" cy="11.7" r="1.0" fill="#6d6d6d"/><circle cx="24.3" cy="19.0" r="0.9" fill="#555555"/><circle cx="18.2" cy="36.7" r="0.9" fill="#616161"/><circle cx="35.5" cy="21.8" r="1.2" fill="#555555"/><circle cx="28.3" cy="25.3" r="1.1" fill="#555555"/><circle cx="34.1" cy="7.9" r="0.9" fill="#4a4a4a"/><circle cx="11.9" cy="33.2" r="1.1" fill="#4a4a4a"/><circle cx="2.6" cy="33.5" r="1.1" fill="#6d6d6d"/><circle cx="42.6" cy="33.5" r="1.1" fill="#6d6d6d"/><circle cx="19.1" cy="22.0" r="1.1" fill="#4a4a4a"/><circle cx="32.5" cy="2.7" r="1.1" fill="#555555"/><circle cx="32.5" cy="42.7" r="1.1" fill="#555555"/><circle cx="9.2" cy="32.8" r="1.1" fill="#4a4a4a"/><circle cx="2.9" cy="2.3" r="0.9" fill="#616161"/><circle cx="2.9" cy="42.3" r="0.9" fill="#616161"/><circle cx="42.9" cy="2.3" r="0.9" fill="#616161"/><circle cx="42.9" cy="42.3" r="0.9" fill="#616161"/><circle cx="-2.5" cy="15.0" r="1.2" fill="#6d6d6d"/><circle cx="37.5" cy="15.0" r="1.2" fill="#6d6d6d"/><circle cx="6.0" cy="25.3" r="1.0" fill="#4a4a4a"/><circle cx="20.7" cy="5.4" r="1.2" fill="#555555"/><circle cx="3.4" cy="26.7" r="1.2" fill="#555555"/><circle cx="29.6" cy="15.8" r="1.2" fill="#6d6d6d"/><circle cx="30.4" cy="0.0" r="1.0" fill="#6d6d6d"/><circle cx="30.4" cy="40.0" r="1.0" fill="#6d6d6d"/><circle cx="6.2" cy="6.4" r="1.0" fill="#616161"/><circle cx="9.4" cy="19.3" r="1.0" fill="#4a4a4a"/><circle cx="8.0" cy="1.0" r="1.2" fill="#616161"/><circle cx="8.0" cy="41.0" r="1.2" fill="#616161"/><circle cx="16.4" cy="1.8" r="1.2" fill="#616161"/><circle cx="16.4" cy="41.8" r="1.2" fill="#616161"/><circle cx="21.9" cy="-0.4" r="1.0" fill="#4a4a4a"/><circle cx="21.9" cy="39.6" r="1.0" fill="#4a4a4a"/><circle cx="12.2" cy="2.1" r="0.9" fill="#616161"/><circle cx="12.2" cy="42.1" r="0.9" fill="#616161"/><circle cx="32.8" cy="12.5" r="1.0" fill="#6d6d6d"/><circle cx="9.8" cy="3.4" r="1.0" fill="#616161"/><circle cx="-2.5" cy="31.8" r="0.9" fill="#4a4a4a"/><circle cx="37.5" cy="31.8" r="0.9" fill="#4a4a4a"/><circle cx="34.0" cy="24.7" r="0.9" fill="#555555"/><circle cx="27.3" cy="34.5" r="1.1" fill="#4a4a4a"/><circle cx="7.4" cy="15.6" r="1.1" fill="#616161"/><circle cx="27.2" cy="20.9" r="1.0" fill="#4a4a4a"/><circle cx="28.6" cy="12.3" r="1.2" fill="#555555"/><circle cx="33.2" cy="35.1" r="1.1" fill="#616161"/><circle cx="19.2" cy="14.2" r="1.2" fill="#555555"/><circle cx="20.7" cy="2.1" r="1.1" fill="#4a4a4a"/><circle cx="20.7" cy="42.1" r="1.1" fill="#4a4a4a"/><circle cx="6.8" cy="18.3" r="1.0" fill="#555555"/><circle cx="35.9" cy="35.4" r="1.0" fill="#6d6d6d"/><circle cx="10.7" cy="30.2" r="1.1" fill="#555555"/><circle cx="9.6" cy="22.7" r="0.9" fill="#4a4a4a"/><circle cx="16.8" cy="20.2" r="0.9" fill="#555555"/><circle cx="17.9" cy="29.4" r="0.9" fill="#555555"/><circle cx="35.1" cy="17.5" r="1.1" fill="#6d6d6d"/><circle cx="30.3" cy="20.6" r="1.2" fill="#555555"/><circle cx="4.1" cy="-0.1" r="1.1" fill="#555555"/><circle cx="4.1" cy="39.9" r="1.1" fill="#555555"/><circle cx="6.5" cy="27.9" r="1.0" fill="#555555"/><circle cx="-0.9" cy="5.1" r="1.2" fill="#555555"/><circle cx="39.1" cy="5.1" r="1.2" fill="#555555"/><circle cx="31.6" cy="30.9" r="1.1" fill="#4a4a4a"/><circle cx="21.4" cy="19.1" r="1.2" fill="#6d6d6d"/><circle cx="27.6" cy="8.7" r="0.9" fill="#616161"/><circle cx="17.7" cy="6.0" r="1.2" fill="#6d6d6d"/><circle cx="11.4" cy="10.6" r="0.9" fill="#555555"/><circle cx="15.6" cy="34.3" r="1.1" fill="#616161"/><circle cx="24.2" cy="26.2" r="1.0" fill="#555555"/><circle cx="-2.6" cy="29.1" r="1.2" fill="#555555"/><circle cx="37.4" cy="29.1" r="1.2" fill="#555555"/><circle cx="21.5" cy="34.3" r="1.1" fill="#555555"/><circle cx="-2.8" cy="9.1" r="1.0" fill="#4a4a4a"/><circle cx="37.2" cy="9.1" r="1.0" fill="#4a4a4a"/><circle cx="11.1" cy="13.8" r="0.9" fill="#6d6d6d"/><circle cx="24.9" cy="7.9" r="1.2" fill="#4a4a4a"/><circle cx="1.5" cy="23.2" r="1.1" fill="#4a4a4a"/><circle cx="41.5" cy="23.2" r="1.1" fill="#4a4a4a"/><circle cx="21.2" cy="7.9" r="1.1" fill="#4a4a4a"/><circle cx="33.0" cy="15.5" r="0.9" fill="#555555"/><circle cx="22.6" cy="16.8" r="1.2" fill="#555555"/><circle cx="27.7" cy="31.6" r="1.2" fill="#616161"/><circle cx="14.5" cy="9.6" r="0.9" fill="#4a4a4a"/><circle cx="34.0" cy="31.9" r="1.1" fill="#4a4a4a"/><circle cx="6.7" cy="13.0" r="0.9" fill="#6d6d6d"/><circle cx="3.5" cy="36.0" r="0.9" fill="#4a4a4a"/><circle cx="27.9" cy="5.9" r="1.1" fill="#555555"/><circle cx="6.9" cy="21.1" r="0.9" fill="#4a4a4a"/><circle cx="5.1" cy="8.8" r="1.2" fill="#6d6d6d"/><circle cx="29.3" cy="36.6" r="1.1" fill="#616161"/><circle cx="14.0" cy="36.6" r="1.0" fill="#555555"/><circle cx="19.2" cy="-0.6" r="0.9" fill="#555555"/><circle cx="19.2" cy="39.4" r="0.9" fill="#555555"/><circle cx="10.8" cy="-0.6" r="1.0" fill="#4a4a4a"/><circle cx="10.8" cy="39.4" r="1.0" fill="#4a4a4a"/><circle cx="3.7" cy="20.0" r="1.0" fill="#616161"/><circle cx="28.6" cy="18.6" r="1.2" fill="#4a4a4a"/></g></pattern>
<pattern id="pLb" width="46" height="46" patternUnits="userSpaceOnUse"><rect width="46" height="46" fill="#727272"/><g stroke="#d4d4d4" stroke-width="0.5"><circle cx="36.5" cy="37.8" r="1.0" fill="#555555"/><circle cx="22.3" cy="12.0" r="1.0" fill="#4a4a4a"/><circle cx="0.0" cy="30.5" r="0.9" fill="#4a4a4a"/><circle cx="46.0" cy="30.5" r="0.9" fill="#4a4a4a"/><circle cx="21.6" cy="34.9" r="1.0" fill="#4a4a4a"/><circle cx="17.2" cy="35.4" r="1.2" fill="#555555"/><circle cx="12.5" cy="36.9" r="0.9" fill="#6d6d6d"/><circle cx="33.6" cy="19.0" r="1.0" fill="#555555"/><circle cx="24.8" cy="31.4" r="0.9" fill="#6d6d6d"/><circle cx="8.9" cy="25.5" r="0.9" fill="#4a4a4a"/><circle cx="37.0" cy="12.2" r="1.2" fill="#4a4a4a"/><circle cx="37.0" cy="31.5" r="1.1" fill="#6d6d6d"/><circle cx="38.8" cy="15.4" r="0.9" fill="#555555"/><circle cx="4.3" cy="36.8" r="0.9" fill="#555555"/><circle cx="37.0" cy="20.5" r="1.0" fill="#555555"/><circle cx="4.3" cy="9.1" r="1.1" fill="#616161"/><circle cx="29.2" cy="13.4" r="1.1" fill="#555555"/><circle cx="-2.2" cy="27.1" r="0.9" fill="#555555"/><circle cx="43.8" cy="27.1" r="0.9" fill="#555555"/><circle cx="9.2" cy="30.1" r="1.0" fill="#4a4a4a"/><circle cx="16.6" cy="42.9" r="1.1" fill="#555555"/><circle cx="41.8" cy="23.7" r="1.0" fill="#6d6d6d"/><circle cx="29.7" cy="32.1" r="1.2" fill="#6d6d6d"/><circle cx="37.1" cy="-1.1" r="1.1" fill="#6d6d6d"/><circle cx="37.1" cy="44.9" r="1.1" fill="#6d6d6d"/><circle cx="1.3" cy="16.6" r="1.0" fill="#555555"/><circle cx="47.3" cy="16.6" r="1.0" fill="#555555"/><circle cx="27.1" cy="4.1" r="1.2" fill="#555555"/><circle cx="5.4" cy="30.5" r="0.9" fill="#616161"/><circle cx="14.4" cy="9.0" r="1.1" fill="#616161"/><circle cx="22.3" cy="6.4" r="1.1" fill="#616161"/><circle cx="9.7" cy="39.8" r="1.1" fill="#4a4a4a"/><circle cx="32.1" cy="0.6" r="0.9" fill="#6d6d6d"/><circle cx="32.1" cy="46.6" r="0.9" fill="#6d6d6d"/><circle cx="17.4" cy="17.9" r="0.9" fill="#616161"/><circle cx="5.8" cy="-0.0" r="0.9" fill="#6d6d6d"/><circle cx="5.8" cy="46.0" r="0.9" fill="#6d6d6d"/><circle cx="2.5" cy="19.5" r="1.0" fill="#4a4a4a"/><circle cx="48.5" cy="19.5" r="1.0" fill="#4a4a4a"/><circle cx="-0.9" cy="11.3" r="1.2" fill="#616161"/><circle cx="45.1" cy="11.3" r="1.2" fill="#616161"/><circle cx="-1.0" cy="41.0" r="1.0" fill="#616161"/><circle cx="45.0" cy="41.0" r="1.0" fill="#616161"/><circle cx="30.8" cy="40.9" r="1.1" fill="#6d6d6d"/><circle cx="20.6" cy="38.2" r="0.9" fill="#4a4a4a"/><circle cx="36.6" cy="23.8" r="1.2" fill="#6d6d6d"/><circle cx="18.8" cy="4.0" r="1.1" fill="#4a4a4a"/><circle cx="34.3" cy="12.2" r="0.9" fill="#616161"/><circle cx="5.7" cy="27.1" r="1.1" fill="#6d6d6d"/><circle cx="16.6" cy="11.8" r="1.0" fill="#6d6d6d"/><circle cx="20.8" cy="42.7" r="1.2" fill="#616161"/><circle cx="11.7" cy="18.9" r="0.9" fill="#6d6d6d"/><circle cx="40.4" cy="28.2" r="1.0" fill="#4a4a4a"/><circle cx="12.3" cy="21.8" r="1.0" fill="#555555"/><circle cx="30.3" cy="-1.3" r="1.2" fill="#555555"/><circle cx="30.3" cy="44.7" r="1.2" fill="#555555"/><circle cx="42.5" cy="17.3" r="1.1" fill="#6d6d6d"/><circle cx="18.3" cy="22.4" r="1.0" fill="#6d6d6d"/><circle cx="13.4" cy="0.3" r="0.9" fill="#6d6d6d"/><circle cx="13.4" cy="46.3" r="0.9" fill="#6d6d6d"/><circle cx="1.4" cy="35.6" r="1.0" fill="#616161"/><circle cx="47.4" cy="35.6" r="1.0" fill="#616161"/><circle cx="39.3" cy="2.9" r="1.2" fill="#6d6d6d"/><circle cx="39.3" cy="48.9" r="1.2" fill="#6d6d6d"/><circle cx="8.9" cy="-2.4" r="1.2" fill="#616161"/><circle cx="8.9" cy="43.6" r="1.2" fill="#616161"/><circle cx="28.2" cy="19.4" r="1.1" fill="#616161"/><circle cx="22.6" cy="21.6" r="1.1" fill="#6d6d6d"/><circle cx="4.6" cy="16.7" r="1.2" fill="#555555"/><circle cx="27.9" cy="6.6" r="0.9" fill="#555555"/><circle cx="41.9" cy="41.8" r="0.9" fill="#555555"/><circle cx="41.1" cy="20.8" r="0.9" fill="#555555"/><circle cx="31.9" cy="36.4" r="1.0" fill="#4a4a4a"/><circle cx="12.7" cy="32.8" r="0.9" fill="#616161"/><circle cx="-2.8" cy="3.8" r="1.1" fill="#616161"/><circle cx="43.2" cy="3.8" r="1.1" fill="#616161"/><circle cx="-1.6" cy="19.8" r="1.2" fill="#4a4a4a"/><circle cx="44.4" cy="19.8" r="1.2" fill="#4a4a4a"/><circle cx="29.4" cy="24.6" r="1.0" fill="#6d6d6d"/><circle cx="1.5" cy="8.0" r="1.0" fill="#6d6d6d"/><circle cx="47.5" cy="8.0" r="1.0" fill="#6d6d6d"/><circle cx="-2.3" cy="32.2" r="0.9" fill="#6d6d6d"/><circle cx="43.7" cy="32.2" r="0.9" fill="#6d6d6d"/><circle cx="15.8" cy="3.6" r="0.9" fill="#4a4a4a"/><circle cx="33.6" cy="5.2" r="1.2" fill="#6d6d6d"/><circle cx="22.7" cy="3.5" r="0.9" fill="#616161"/><circle cx="3.4" cy="23.9" r="1.1" fill="#4a4a4a"/><circle cx="6.9" cy="13.0" r="0.9" fill="#555555"/><circle cx="8.7" cy="15.0" r="1.1" fill="#616161"/><circle cx="18.3" cy="-0.1" r="1.1" fill="#4a4a4a"/><circle cx="18.3" cy="45.9" r="1.1" fill="#4a4a4a"/><circle cx="33.0" cy="29.7" r="1.2" fill="#6d6d6d"/><circle cx="26.0" cy="42.4" r="0.9" fill="#616161"/><circle cx="33.3" cy="39.8" r="1.2" fill="#616161"/><circle cx="5.5" cy="5.2" r="1.0" fill="#4a4a4a"/><circle cx="42.3" cy="34.5" r="1.2" fill="#6d6d6d"/><circle cx="20.4" cy="9.3" r="1.0" fill="#616161"/><circle cx="39.5" cy="35.8" r="0.9" fill="#4a4a4a"/><circle cx="36.4" cy="34.3" r="1.1" fill="#616161"/><circle cx="1.3" cy="42.4" r="1.0" fill="#555555"/><circle cx="47.3" cy="42.4" r="1.0" fill="#555555"/><circle cx="3.1" cy="0.1" r="1.1" fill="#555555"/><circle cx="3.1" cy="46.1" r="1.1" fill="#555555"/><circle cx="6.1" cy="19.3" r="1.2" fill="#616161"/><circle cx="17.7" cy="27.3" r="0.9" fill="#4a4a4a"/><circle cx="25.9" cy="28.8" r="1.2" fill="#616161"/><circle cx="6.3" cy="40.9" r="1.2" fill="#4a4a4a"/><circle cx="8.9" cy="20.6" r="1.1" fill="#616161"/><circle cx="37.2" cy="26.5" r="1.1" fill="#555555"/><circle cx="-2.4" cy="37.2" r="1.0" fill="#555555"/><circle cx="43.6" cy="37.2" r="1.0" fill="#555555"/><circle cx="41.4" cy="7.1" r="1.1" fill="#616161"/><circle cx="11.6" cy="6.1" r="1.1" fill="#555555"/><circle cx="17.1" cy="39.3" r="1.2" fill="#6d6d6d"/><circle cx="28.6" cy="35.3" r="1.1" fill="#555555"/><circle cx="22.5" cy="16.8" r="0.9" fill="#6d6d6d"/><circle cx="27.2" cy="39.9" r="1.0" fill="#4a4a4a"/><circle cx="30.6" cy="5.7" r="1.2" fill="#616161"/><circle cx="8.1" cy="8.5" r="1.0" fill="#555555"/><circle cx="26.3" cy="33.8" r="1.1" fill="#616161"/><circle cx="41.9" cy="12.6" r="1.0" fill="#616161"/><circle cx="-0.3" cy="-1.4" r="1.2" fill="#616161"/><circle cx="-0.3" cy="44.6" r="1.2" fill="#616161"/><circle cx="45.7" cy="-1.4" r="1.2" fill="#616161"/><circle cx="45.7" cy="44.6" r="1.2" fill="#616161"/><circle cx="31.2" cy="22.1" r="0.9" fill="#4a4a4a"/><circle cx="24.9" cy="15.9" r="0.9" fill="#555555"/><circle cx="24.7" cy="7.8" r="1.0" fill="#6d6d6d"/><circle cx="7.1" cy="2.7" r="1.1" fill="#4a4a4a"/><circle cx="7.1" cy="48.7" r="1.1" fill="#4a4a4a"/><circle cx="33.5" cy="32.3" r="1.0" fill="#616161"/><circle cx="40.6" cy="10.0" r="1.2" fill="#4a4a4a"/><circle cx="28.5" cy="28.0" r="1.2" fill="#4a4a4a"/><circle cx="12.4" cy="29.4" r="1.2" fill="#555555"/><circle cx="29.6" cy="38.5" r="1.0" fill="#555555"/><circle cx="11.6" cy="12.2" r="1.0" fill="#616161"/><circle cx="-0.3" cy="25.1" r="0.9" fill="#6d6d6d"/><circle cx="45.7" cy="25.1" r="0.9" fill="#6d6d6d"/><circle cx="39.2" cy="33.0" r="1.0" fill="#4a4a4a"/><circle cx="0.7" cy="2.3" r="1.1" fill="#555555"/><circle cx="0.7" cy="48.3" r="1.1" fill="#555555"/><circle cx="46.7" cy="2.3" r="1.1" fill="#555555"/><circle cx="46.7" cy="48.3" r="1.1" fill="#555555"/><circle cx="23.7" cy="40.1" r="1.2" fill="#4a4a4a"/><circle cx="7.1" cy="36.1" r="0.9" fill="#6d6d6d"/><circle cx="36.5" cy="6.2" r="1.2" fill="#555555"/><circle cx="15.1" cy="19.3" r="1.1" fill="#6d6d6d"/><circle cx="8.2" cy="5.2" r="1.1" fill="#616161"/><circle cx="16.6" cy="32.8" r="0.9" fill="#555555"/><circle cx="14.0" cy="27.1" r="0.9" fill="#4a4a4a"/><circle cx="27.9" cy="22.1" r="1.1" fill="#555555"/><circle cx="16.0" cy="29.9" r="1.0" fill="#555555"/><circle cx="-0.2" cy="5.1" r="1.2" fill="#555555"/><circle cx="45.8" cy="5.1" r="1.2" fill="#555555"/><circle cx="30.7" cy="8.9" r="0.9" fill="#555555"/><circle cx="21.4" cy="0.6" r="1.0" fill="#555555"/><circle cx="21.4" cy="46.6" r="1.0" fill="#555555"/><circle cx="16.1" cy="6.3" r="1.2" fill="#616161"/><circle cx="4.3" cy="42.9" r="1.0" fill="#6d6d6d"/><circle cx="2.2" cy="13.6" r="1.2" fill="#4a4a4a"/><circle cx="48.2" cy="13.6" r="1.2" fill="#4a4a4a"/><circle cx="26.0" cy="12.5" r="1.2" fill="#616161"/><circle cx="39.1" cy="39.1" r="1.2" fill="#6d6d6d"/><circle cx="39.2" cy="-2.7" r="1.2" fill="#555555"/><circle cx="39.2" cy="43.3" r="1.2" fill="#555555"/><circle cx="31.8" cy="14.9" r="1.1" fill="#4a4a4a"/><circle cx="35.9" cy="3.3" r="1.2" fill="#555555"/><circle cx="5.2" cy="33.2" r="1.1" fill="#555555"/><circle cx="18.7" cy="14.8" r="0.9" fill="#6d6d6d"/><circle cx="33.8" cy="8.8" r="1.1" fill="#4a4a4a"/><circle cx="23.9" cy="24.7" r="1.1" fill="#616161"/><circle cx="25.3" cy="21.7" r="1.1" fill="#6d6d6d"/><circle cx="40.9" cy="0.8" r="1.2" fill="#4a4a4a"/><circle cx="40.9" cy="46.8" r="1.2" fill="#4a4a4a"/><circle cx="28.6" cy="1.0" r="1.2" fill="#4a4a4a"/><circle cx="28.6" cy="47.0" r="1.2" fill="#4a4a4a"/><circle cx="6.5" cy="22.7" r="0.9" fill="#616161"/><circle cx="22.9" cy="29.5" r="0.9" fill="#4a4a4a"/><circle cx="19.6" cy="19.5" r="1.1" fill="#4a4a4a"/><circle cx="20.8" cy="25.7" r="1.2" fill="#4a4a4a"/><circle cx="19.9" cy="31.2" r="1.0" fill="#555555"/><circle cx="39.0" cy="5.5" r="1.1" fill="#6d6d6d"/><circle cx="36.0" cy="18.0" r="1.1" fill="#6d6d6d"/><circle cx="-2.3" cy="0.9" r="1.1" fill="#555555"/><circle cx="-2.3" cy="46.9" r="1.1" fill="#555555"/><circle cx="43.7" cy="0.9" r="1.1" fill="#555555"/><circle cx="43.7" cy="46.9" r="1.1" fill="#555555"/><circle cx="0.9" cy="38.6" r="1.1" fill="#616161"/><circle cx="46.9" cy="38.6" r="1.1" fill="#616161"/><circle cx="13.9" cy="42.9" r="1.2" fill="#555555"/><circle cx="9.9" cy="33.5" r="1.2" fill="#555555"/><circle cx="10.4" cy="9.6" r="1.0" fill="#6d6d6d"/><circle cx="27.0" cy="9.9" r="1.0" fill="#4a4a4a"/><circle cx="32.7" cy="25.7" r="1.1" fill="#6d6d6d"/><circle cx="9.5" cy="0.2" r="0.9" fill="#616161"/><circle cx="9.5" cy="46.2" r="0.9" fill="#616161"/><circle cx="35.9" cy="15.4" r="1.2" fill="#555555"/><circle cx="-1.4" cy="15.5" r="1.2" fill="#616161"/><circle cx="44.6" cy="15.5" r="1.2" fill="#616161"/><circle cx="26.1" cy="-0.8" r="0.9" fill="#555555"/><circle cx="26.1" cy="45.2" r="0.9" fill="#555555"/><circle cx="13.8" cy="15.0" r="1.2" fill="#555555"/><circle cx="23.1" cy="-2.1" r="1.1" fill="#4a4a4a"/><circle cx="23.1" cy="43.9" r="1.1" fill="#4a4a4a"/><circle cx="27.7" cy="15.8" r="1.0" fill="#6d6d6d"/><circle cx="14.2" cy="40.3" r="0.9" fill="#555555"/><circle cx="34.8" cy="27.8" r="0.9" fill="#6d6d6d"/><circle cx="34.8" cy="42.1" r="1.2" fill="#6d6d6d"/><circle cx="1.0" cy="27.5" r="1.0" fill="#555555"/><circle cx="47.0" cy="27.5" r="1.0" fill="#555555"/><circle cx="39.8" cy="25.4" r="1.0" fill="#4a4a4a"/><circle cx="-0.1" cy="22.0" r="1.1" fill="#4a4a4a"/><circle cx="45.9" cy="22.0" r="1.1" fill="#4a4a4a"/><circle cx="11.4" cy="2.7" r="1.0" fill="#6d6d6d"/><circle cx="11.4" cy="48.7" r="1.0" fill="#6d6d6d"/><circle cx="12.8" cy="24.6" r="1.0" fill="#4a4a4a"/><circle cx="37.5" cy="9.5" r="1.0" fill="#616161"/><circle cx="3.4" cy="40.2" r="1.1" fill="#4a4a4a"/><circle cx="1.8" cy="10.7" r="0.9" fill="#555555"/><circle cx="47.8" cy="10.7" r="0.9" fill="#555555"/><circle cx="20.6" cy="28.3" r="1.2" fill="#4a4a4a"/><circle cx="16.4" cy="24.2" r="0.9" fill="#616161"/><circle cx="25.2" cy="2.1" r="0.9" fill="#555555"/><circle cx="25.2" cy="48.1" r="0.9" fill="#555555"/><circle cx="25.4" cy="37.9" r="1.0" fill="#555555"/><circle cx="34.0" cy="-1.2" r="1.2" fill="#616161"/><circle cx="34.0" cy="44.8" r="1.2" fill="#616161"/><circle cx="18.9" cy="6.6" r="1.0" fill="#6d6d6d"/><circle cx="31.1" cy="18.2" r="1.1" fill="#4a4a4a"/><circle cx="-1.6" cy="7.3" r="1.0" fill="#555555"/><circle cx="44.4" cy="7.3" r="1.0" fill="#555555"/><circle cx="34.2" cy="21.8" r="1.0" fill="#4a4a4a"/><circle cx="24.3" cy="35.5" r="1.0" fill="#4a4a4a"/><circle cx="15.2" cy="37.2" r="1.1" fill="#616161"/><circle cx="3.7" cy="3.1" r="0.9" fill="#555555"/><circle cx="39.2" cy="22.9" r="0.9" fill="#4a4a4a"/><circle cx="26.8" cy="25.2" r="1.0" fill="#616161"/><circle cx="19.3" cy="12.2" r="1.2" fill="#6d6d6d"/><circle cx="1.9" cy="32.7" r="1.2" fill="#616161"/><circle cx="47.9" cy="32.7" r="1.2" fill="#616161"/><circle cx="11.3" cy="16.0" r="1.1" fill="#4a4a4a"/><circle cx="42.6" cy="29.8" r="1.1" fill="#555555"/><circle cx="9.9" cy="36.7" r="1.2" fill="#555555"/><circle cx="3.0" cy="5.7" r="1.0" fill="#555555"/><circle cx="49.0" cy="5.7" r="1.0" fill="#555555"/><circle cx="24.3" cy="19.1" r="0.9" fill="#616161"/><circle cx="15.0" cy="21.9" r="1.1" fill="#555555"/><circle cx="2.8" cy="30.0" r="1.0" fill="#555555"/><circle cx="48.8" cy="30.0" r="1.0" fill="#555555"/><circle cx="39.3" cy="18.4" r="1.0" fill="#4a4a4a"/><circle cx="34.5" cy="36.1" r="1.2" fill="#4a4a4a"/><circle cx="8.9" cy="17.8" r="0.9" fill="#555555"/><circle cx="31.7" cy="3.3" r="1.1" fill="#555555"/><circle cx="37.8" cy="29.0" r="1.2" fill="#4a4a4a"/><circle cx="11.4" cy="-1.6" r="1.1" fill="#6d6d6d"/><circle cx="11.4" cy="44.4" r="1.1" fill="#6d6d6d"/><circle cx="11.4" cy="41.7" r="1.1" fill="#6d6d6d"/><circle cx="17.8" cy="9.4" r="1.2" fill="#616161"/><circle cx="4.4" cy="12.0" r="1.1" fill="#555555"/><circle cx="31.3" cy="11.4" r="1.0" fill="#555555"/><circle cx="19.2" cy="33.7" r="1.0" fill="#616161"/><circle cx="41.8" cy="39.1" r="1.2" fill="#555555"/><circle cx="24.7" cy="5.2" r="0.9" fill="#616161"/><circle cx="10.8" cy="27.2" r="1.0" fill="#4a4a4a"/><circle cx="42.9" cy="-1.7" r="0.9" fill="#6d6d6d"/><circle cx="42.9" cy="44.3" r="0.9" fill="#6d6d6d"/><circle cx="10.0" cy="23.1" r="1.2" fill="#616161"/></g></pattern>
<pattern id="pVa" width="40" height="40" patternUnits="userSpaceOnUse"><rect width="40" height="40" fill="#3db220"/><g stroke="#79d65c" stroke-width="0.5"><circle cx="9.5" cy="21.8" r="0.9" fill="#288b17"/><circle cx="14.8" cy="24.2" r="1.1" fill="#3aac1f"/><circle cx="25.0" cy="2.6" r="0.9" fill="#288b17"/><circle cx="25.0" cy="42.6" r="0.9" fill="#288b17"/><circle cx="0.5" cy="33.5" r="0.9" fill="#34a21d"/><circle cx="40.5" cy="33.5" r="0.9" fill="#34a21d"/><circle cx="10.4" cy="9.4" r="1.2" fill="#288b17"/><circle cx="-0.2" cy="18.8" r="0.9" fill="#34a21d"/><circle cx="39.8" cy="18.8" r="0.9" fill="#34a21d"/><circle cx="33.5" cy="19.1" r="1.0" fill="#2e991a"/><circle cx="25.6" cy="6.0" r="1.2" fill="#34a21d"/><circle cx="25.4" cy="34.7" r="0.9" fill="#288b17"/><circle cx="20.9" cy="29.7" r="1.2" fill="#34a21d"/><circle cx="30.3" cy="23.6" r="1.2" fill="#2e991a"/><circle cx="12.1" cy="1.2" r="0.9" fill="#34a21d"/><circle cx="12.1" cy="41.2" r="0.9" fill="#34a21d"/><circle cx="28.8" cy="35.2" r="1.1" fill="#34a21d"/><circle cx="15.8" cy="32.0" r="0.9" fill="#34a21d"/><circle cx="17.8" cy="-2.6" r="1.1" fill="#2e991a"/><circle cx="17.8" cy="37.4" r="1.1" fill="#2e991a"/><circle cx="35.2" cy="3.9" r="0.9" fill="#3aac1f"/><circle cx="5.4" cy="8.7" r="1.0" fill="#34a21d"/><circle cx="25.1" cy="12.0" r="0.9" fill="#34a21d"/><circle cx="20.3" cy="15.4" r="1.1" fill="#34a21d"/><circle cx="34.3" cy="-0.4" r="1.2" fill="#2e991a"/><circle cx="34.3" cy="39.6" r="1.2" fill="#2e991a"/><circle cx="36.2" cy="22.8" r="1.0" fill="#34a21d"/><circle cx="28.6" cy="8.4" r="1.0" fill="#2e991a"/><circle cx="33.3" cy="22.9" r="0.9" fill="#34a21d"/><circle cx="3.5" cy="32.0" r="1.2" fill="#288b17"/><circle cx="16.4" cy="6.0" r="0.9" fill="#3aac1f"/><circle cx="11.8" cy="30.8" r="1.1" fill="#34a21d"/><circle cx="28.7" cy="13.2" r="1.1" fill="#3aac1f"/><circle cx="20.2" cy="-0.1" r="1.1" fill="#2e991a"/><circle cx="20.2" cy="39.9" r="1.1" fill="#2e991a"/><circle cx="7.9" cy="16.3" r="1.2" fill="#2e991a"/><circle cx="12.6" cy="-1.7" r="0.9" fill="#2e991a"/><circle cx="12.6" cy="38.3" r="0.9" fill="#2e991a"/><circle cx="35.9" cy="15.1" r="1.1" fill="#3aac1f"/><circle cx="18.4" cy="20.8" r="1.0" fill="#34a21d"/><circle cx="25.8" cy="23.8" r="1.0" fill="#34a21d"/><circle cx="22.4" cy="24.8" r="1.1" fill="#2e991a"/><circle cx="-2.4" cy="20.3" r="1.2" fill="#288b17"/><circle cx="37.6" cy="20.3" r="1.2" fill="#288b17"/><circle cx="17.2" cy="28.8" r="1.2" fill="#2e991a"/><circle cx="9.5" cy="12.0" r="1.0" fill="#2e991a"/><circle cx="0.8" cy="24.6" r="0.9" fill="#2e991a"/><circle cx="40.8" cy="24.6" r="0.9" fill="#2e991a"/><circle cx="25.1" cy="18.7" r="1.0" fill="#288b17"/><circle cx="28.3" cy="29.5" r="0.9" fill="#288b17"/><circle cx="0.9" cy="2.4" r="1.2" fill="#34a21d"/><circle cx="0.9" cy="42.4" r="1.2" fill="#34a21d"/><circle cx="40.9" cy="2.4" r="1.2" fill="#34a21d"/><circle cx="40.9" cy="42.4" r="1.2" fill="#34a21d"/><circle cx="27.0" cy="-1.5" r="1.1" fill="#34a21d"/><circle cx="27.0" cy="38.5" r="1.1" fill="#34a21d"/><circle cx="10.0" cy="18.3" r="0.9" fill="#34a21d"/><circle cx="14.6" cy="12.5" r="1.0" fill="#2e991a"/><circle cx="12.0" cy="15.1" r="1.2" fill="#3aac1f"/><circle cx="30.9" cy="1.1" r="1.2" fill="#288b17"/><circle cx="30.9" cy="41.1" r="1.2" fill="#288b17"/><circle cx="32.2" cy="9.5" r="1.0" fill="#2e991a"/><circle cx="27.9" cy="4.1" r="1.2" fill="#34a21d"/><circle cx="34.2" cy="6.8" r="0.9" fill="#3aac1f"/><circle cx="9.0" cy="4.8" r="1.1" fill="#2e991a"/><circle cx="21.2" cy="7.6" r="1.0" fill="#288b17"/><circle cx="32.3" cy="33.5" r="1.0" fill="#3aac1f"/><circle cx="32.3" cy="25.7" r="0.9" fill="#34a21d"/><circle cx="32.3" cy="13.8" r="1.2" fill="#288b17"/><circle cx="5.2" cy="11.7" r="1.0" fill="#2e991a"/><circle cx="16.8" cy="16.4" r="1.0" fill="#2e991a"/><circle cx="36.8" cy="6.2" r="0.9" fill="#288b17"/><circle cx="0.2" cy="-2.3" r="0.9" fill="#2e991a"/><circle cx="0.2" cy="37.7" r="0.9" fill="#2e991a"/><circle cx="40.2" cy="-2.3" r="0.9" fill="#2e991a"/><circle cx="40.2" cy="37.7" r="0.9" fill="#2e991a"/><circle cx="-2.9" cy="8.9" r="1.1" fill="#2e991a"/><circle cx="37.1" cy="8.9" r="1.1" fill="#2e991a"/><circle cx="36.1" cy="27.7" r="1.1" fill="#3aac1f"/><circle cx="37.0" cy="35.9" r="1.1" fill="#34a21d"/><circle cx="0.5" cy="29.8" r="1.2" fill="#288b17"/><circle cx="40.5" cy="29.8" r="1.2" fill="#288b17"/><circle cx="26.5" cy="21.0" r="1.2" fill="#34a21d"/><circle cx="10.1" cy="34.5" r="1.2" fill="#3aac1f"/><circle cx="14.1" cy="7.9" r="1.1" fill="#2e991a"/><circle cx="21.4" cy="32.7" r="1.0" fill="#2e991a"/><circle cx="6.9" cy="31.7" r="1.0" fill="#3aac1f"/><circle cx="36.9" cy="32.2" r="0.9" fill="#3aac1f"/><circle cx="2.0" cy="10.9" r="1.0" fill="#3aac1f"/><circle cx="42.0" cy="10.9" r="1.0" fill="#3aac1f"/><circle cx="2.2" cy="5.1" r="1.2" fill="#3aac1f"/><circle cx="42.2" cy="5.1" r="1.2" fill="#3aac1f"/><circle cx="5.0" cy="2.7" r="0.9" fill="#288b17"/><circle cx="5.0" cy="42.7" r="0.9" fill="#288b17"/><circle cx="3.4" cy="20.1" r="1.0" fill="#2e991a"/><circle cx="23.5" cy="14.4" r="1.1" fill="#2e991a"/><circle cx="5.0" cy="22.2" r="1.0" fill="#34a21d"/><circle cx="18.4" cy="9.8" r="0.9" fill="#288b17"/><circle cx="2.9" cy="17.0" r="1.2" fill="#34a21d"/><circle cx="42.9" cy="17.0" r="1.2" fill="#34a21d"/><circle cx="30.7" cy="20.5" r="1.1" fill="#3aac1f"/><circle cx="10.0" cy="24.6" r="1.2" fill="#288b17"/><circle cx="30.1" cy="15.7" r="1.0" fill="#288b17"/><circle cx="19.3" cy="25.7" r="1.0" fill="#2e991a"/><circle cx="8.7" cy="0.9" r="1.0" fill="#3aac1f"/><circle cx="8.7" cy="40.9" r="1.0" fill="#3aac1f"/><circle cx="5.7" cy="-0.4" r="1.2" fill="#34a21d"/><circle cx="5.7" cy="39.6" r="1.2" fill="#34a21d"/><circle cx="18.7" cy="33.4" r="1.2" fill="#2e991a"/><circle cx="9.4" cy="28.7" r="1.1" fill="#34a21d"/><circle cx="34.3" cy="36.0" r="1.0" fill="#3aac1f"/><circle cx="0.3" cy="13.4" r="1.2" fill="#288b17"/><circle cx="40.3" cy="13.4" r="1.2" fill="#288b17"/><circle cx="21.8" cy="4.8" r="1.2" fill="#34a21d"/><circle cx="4.5" cy="35.5" r="1.2" fill="#2e991a"/><circle cx="30.9" cy="30.3" r="0.9" fill="#2e991a"/><circle cx="11.8" cy="27.0" r="1.2" fill="#34a21d"/><circle cx="7.2" cy="35.6" r="1.1" fill="#288b17"/><circle cx="24.1" cy="29.1" r="1.2" fill="#3aac1f"/><circle cx="20.9" cy="18.4" r="1.1" fill="#3aac1f"/><circle cx="22.6" cy="-1.6" r="1.2" fill="#2e991a"/><circle cx="22.6" cy="38.4" r="1.2" fill="#2e991a"/><circle cx="12.9" cy="34.8" r="1.2" fill="#2e991a"/><circle cx="6.4" cy="19.9" r="1.2" fill="#288b17"/><circle cx="14.8" cy="21.2" r="1.1" fill="#34a21d"/><circle cx="23.9" cy="9.0" r="0.9" fill="#3aac1f"/><circle cx="0.1" cy="8.4" r="1.2" fill="#288b17"/><circle cx="40.1" cy="8.4" r="1.2" fill="#288b17"/><circle cx="31.3" cy="5.7" r="1.2" fill="#2e991a"/><circle cx="-2.7" cy="12.0" r="0.9" fill="#34a21d"/><circle cx="37.3" cy="12.0" r="0.9" fill="#34a21d"/><circle cx="13.8" cy="3.7" r="1.2" fill="#3aac1f"/><circle cx="-2.4" cy="1.4" r="1.2" fill="#3aac1f"/><circle cx="-2.4" cy="41.4" r="1.2" fill="#3aac1f"/><circle cx="37.6" cy="1.4" r="1.2" fill="#3aac1f"/><circle cx="37.6" cy="41.4" r="1.2" fill="#3aac1f"/><circle cx="10.8" cy="6.8" r="0.9" fill="#288b17"/><circle cx="3.2" cy="26.0" r="1.1" fill="#288b17"/><circle cx="6.1" cy="25.8" r="1.0" fill="#34a21d"/><circle cx="17.2" cy="3.4" r="1.1" fill="#2e991a"/><circle cx="21.0" cy="21.7" r="0.9" fill="#288b17"/><circle cx="17.3" cy="13.5" r="1.2" fill="#288b17"/><circle cx="22.1" cy="11.2" r="1.0" fill="#34a21d"/><circle cx="14.1" cy="18.2" r="1.2" fill="#288b17"/><circle cx="9.4" cy="-1.7" r="1.2" fill="#3aac1f"/><circle cx="9.4" cy="38.3" r="1.2" fill="#3aac1f"/><circle cx="15.6" cy="-0.5" r="1.0" fill="#34a21d"/><circle cx="15.6" cy="39.5" r="1.0" fill="#34a21d"/><circle cx="33.9" cy="31.1" r="1.0" fill="#3aac1f"/><circle cx="21.9" cy="35.4" r="1.2" fill="#3aac1f"/><circle cx="12.0" cy="20.2" r="0.9" fill="#288b17"/><circle cx="36.5" cy="17.7" r="1.2" fill="#34a21d"/><circle cx="25.1" cy="26.4" r="1.1" fill="#3aac1f"/><circle cx="2.6" cy="0.4" r="1.0" fill="#3aac1f"/><circle cx="2.6" cy="40.4" r="1.0" fill="#3aac1f"/><circle cx="42.6" cy="0.4" r="1.0" fill="#3aac1f"/><circle cx="42.6" cy="40.4" r="1.0" fill="#3aac1f"/><circle cx="27.5" cy="17.1" r="0.9" fill="#2e991a"/><circle cx="-1.2" cy="4.1" r="1.1" fill="#3aac1f"/><circle cx="38.8" cy="4.1" r="1.1" fill="#3aac1f"/><circle cx="5.5" cy="29.2" r="1.0" fill="#2e991a"/><circle cx="15.9" cy="35.1" r="1.0" fill="#2e991a"/><circle cx="30.4" cy="27.5" r="0.9" fill="#2e991a"/><circle cx="32.9" cy="28.6" r="1.0" fill="#34a21d"/><circle cx="28.1" cy="25.1" r="1.0" fill="#288b17"/><circle cx="14.9" cy="27.1" r="1.1" fill="#288b17"/><circle cx="31.6" cy="-2.8" r="1.1" fill="#288b17"/><circle cx="31.6" cy="37.2" r="1.1" fill="#288b17"/><circle cx="5.2" cy="5.9" r="1.1" fill="#3aac1f"/><circle cx="-2.8" cy="-1.5" r="1.2" fill="#3aac1f"/><circle cx="-2.8" cy="38.5" r="1.2" fill="#3aac1f"/><circle cx="37.2" cy="-1.5" r="1.2" fill="#3aac1f"/><circle cx="37.2" cy="38.5" r="1.2" fill="#3aac1f"/><circle cx="5.3" cy="15.4" r="1.1" fill="#2e991a"/><circle cx="25.6" cy="32.1" r="1.0" fill="#34a21d"/><circle cx="21.7" cy="2.1" r="1.0" fill="#2e991a"/><circle cx="21.7" cy="42.1" r="1.0" fill="#2e991a"/><circle cx="34.4" cy="11.7" r="1.2" fill="#288b17"/><circle cx="-2.1" cy="25.5" r="1.1" fill="#34a21d"/><circle cx="37.9" cy="25.5" r="1.1" fill="#34a21d"/><circle cx="0.1" cy="21.8" r="1.1" fill="#3aac1f"/><circle cx="40.1" cy="21.8" r="1.1" fill="#3aac1f"/><circle cx="-1.2" cy="15.8" r="1.2" fill="#34a21d"/><circle cx="38.8" cy="15.8" r="1.2" fill="#34a21d"/><circle cx="7.5" cy="10.3" r="1.2" fill="#3aac1f"/><circle cx="2.9" cy="14.0" r="1.1" fill="#3aac1f"/><circle cx="42.9" cy="14.0" r="1.1" fill="#3aac1f"/><circle cx="17.5" cy="23.4" r="1.0" fill="#34a21d"/><circle cx="28.9" cy="32.4" r="1.2" fill="#34a21d"/><circle cx="12.6" cy="22.8" r="1.2" fill="#34a21d"/><circle cx="27.9" cy="1.0" r="0.9" fill="#288b17"/><circle cx="27.9" cy="41.0" r="0.9" fill="#288b17"/><circle cx="23.8" cy="21.1" r="1.1" fill="#2e991a"/><circle cx="33.1" cy="16.5" r="1.0" fill="#34a21d"/><circle cx="7.8" cy="7.6" r="0.9" fill="#34a21d"/><circle cx="19.0" cy="6.0" r="1.1" fill="#288b17"/><circle cx="27.5" cy="10.9" r="0.9" fill="#2e991a"/><circle cx="15.8" cy="10.1" r="1.0" fill="#34a21d"/><circle cx="-2.2" cy="29.8" r="1.0" fill="#34a21d"/><circle cx="37.8" cy="29.8" r="1.0" fill="#34a21d"/><circle cx="14.4" cy="29.6" r="1.2" fill="#288b17"/><circle cx="26.3" cy="14.6" r="1.1" fill="#288b17"/><circle cx="2.8" cy="-2.2" r="1.2" fill="#288b17"/><circle cx="2.8" cy="37.8" r="1.2" fill="#288b17"/><circle cx="42.8" cy="-2.2" r="1.2" fill="#288b17"/><circle cx="42.8" cy="37.8" r="1.2" fill="#288b17"/><circle cx="19.6" cy="12.2" r="0.9" fill="#3aac1f"/><circle cx="2.7" cy="7.8" r="1.1" fill="#288b17"/><circle cx="42.7" cy="7.8" r="1.1" fill="#288b17"/><circle cx="24.7" cy="-0.1" r="1.2" fill="#288b17"/><circle cx="24.7" cy="39.9" r="1.2" fill="#288b17"/><circle cx="-0.3" cy="27.3" r="0.9" fill="#3aac1f"/><circle cx="39.7" cy="27.3" r="0.9" fill="#3aac1f"/><circle cx="13.0" cy="10.3" r="1.1" fill="#2e991a"/><circle cx="7.2" cy="13.4" r="1.1" fill="#34a21d"/><circle cx="34.9" cy="25.4" r="1.2" fill="#3aac1f"/><circle cx="7.4" cy="23.4" r="1.2" fill="#2e991a"/><circle cx="32.6" cy="3.1" r="1.2" fill="#2e991a"/></g></pattern>
<pattern id="pVb" width="46" height="46" patternUnits="userSpaceOnUse"><rect width="46" height="46" fill="#4ad51a"/><g stroke="#8df451" stroke-width="0.5"><circle cx="10.9" cy="4.7" r="1.1" fill="#41ca18"/><circle cx="18.2" cy="7.1" r="1.2" fill="#32b113"/><circle cx="3.1" cy="18.5" r="1.2" fill="#3abe16"/><circle cx="42.2" cy="36.8" r="1.1" fill="#3abe16"/><circle cx="35.2" cy="10.2" r="0.9" fill="#49d01a"/><circle cx="24.7" cy="12.7" r="1.2" fill="#49d01a"/><circle cx="7.9" cy="4.9" r="1.1" fill="#3abe16"/><circle cx="9.9" cy="42.7" r="0.9" fill="#3abe16"/><circle cx="38.1" cy="37.1" r="1.0" fill="#3abe16"/><circle cx="14.3" cy="28.8" r="1.2" fill="#49d01a"/><circle cx="33.7" cy="39.3" r="0.9" fill="#32b113"/><circle cx="40.5" cy="4.0" r="0.9" fill="#49d01a"/><circle cx="27.9" cy="30.9" r="0.9" fill="#32b113"/><circle cx="23.3" cy="8.2" r="1.2" fill="#32b113"/><circle cx="21.8" cy="4.1" r="0.9" fill="#3abe16"/><circle cx="43.0" cy="39.8" r="1.2" fill="#3abe16"/><circle cx="41.8" cy="26.3" r="1.2" fill="#41ca18"/><circle cx="23.4" cy="19.0" r="1.0" fill="#3abe16"/><circle cx="27.5" cy="19.8" r="1.1" fill="#3abe16"/><circle cx="7.4" cy="14.0" r="0.9" fill="#3abe16"/><circle cx="37.4" cy="2.0" r="1.2" fill="#49d01a"/><circle cx="37.4" cy="48.0" r="1.2" fill="#49d01a"/><circle cx="2.1" cy="28.8" r="1.0" fill="#41ca18"/><circle cx="48.1" cy="28.8" r="1.0" fill="#41ca18"/><circle cx="12.9" cy="24.6" r="1.0" fill="#3abe16"/><circle cx="21.7" cy="15.8" r="1.0" fill="#41ca18"/><circle cx="-0.1" cy="9.0" r="1.0" fill="#32b113"/><circle cx="45.9" cy="9.0" r="1.0" fill="#32b113"/><circle cx="29.1" cy="12.7" r="1.1" fill="#41ca18"/><circle cx="16.4" cy="34.4" r="0.9" fill="#41ca18"/><circle cx="2.8" cy="10.5" r="1.2" fill="#49d01a"/><circle cx="48.8" cy="10.5" r="1.2" fill="#49d01a"/><circle cx="35.2" cy="28.3" r="1.1" fill="#3abe16"/><circle cx="10.9" cy="15.2" r="1.0" fill="#3abe16"/><circle cx="8.2" cy="21.1" r="0.9" fill="#32b113"/><circle cx="2.0" cy="32.1" r="1.2" fill="#41ca18"/><circle cx="48.0" cy="32.1" r="1.2" fill="#41ca18"/><circle cx="41.2" cy="-2.1" r="1.2" fill="#32b113"/><circle cx="41.2" cy="43.9" r="1.2" fill="#32b113"/><circle cx="33.8" cy="-1.8" r="1.1" fill="#49d01a"/><circle cx="33.8" cy="44.2" r="1.1" fill="#49d01a"/><circle cx="0.8" cy="13.3" r="1.0" fill="#32b113"/><circle cx="46.8" cy="13.3" r="1.0" fill="#32b113"/><circle cx="18.9" cy="-2.6" r="1.0" fill="#3abe16"/><circle cx="18.9" cy="43.4" r="1.0" fill="#3abe16"/><circle cx="28.5" cy="37.6" r="1.1" fill="#3abe16"/><circle cx="13.5" cy="8.8" r="0.9" fill="#3abe16"/><circle cx="15.2" cy="0.4" r="1.2" fill="#49d01a"/><circle cx="15.2" cy="46.4" r="1.2" fill="#49d01a"/><circle cx="36.1" cy="16.7" r="1.0" fill="#41ca18"/><circle cx="-0.8" cy="19.5" r="1.2" fill="#41ca18"/><circle cx="45.2" cy="19.5" r="1.2" fill="#41ca18"/><circle cx="2.5" cy="7.8" r="1.2" fill="#32b113"/><circle cx="48.5" cy="7.8" r="1.2" fill="#32b113"/><circle cx="31.1" cy="6.9" r="1.1" fill="#41ca18"/><circle cx="1.9" cy="22.6" r="1.2" fill="#32b113"/><circle cx="47.9" cy="22.6" r="1.2" fill="#32b113"/><circle cx="11.5" cy="-0.1" r="1.0" fill="#32b113"/><circle cx="11.5" cy="45.9" r="1.0" fill="#32b113"/><circle cx="5.6" cy="24.3" r="0.9" fill="#41ca18"/><circle cx="11.1" cy="18.9" r="1.2" fill="#41ca18"/><circle cx="38.2" cy="22.9" r="1.0" fill="#32b113"/><circle cx="10.6" cy="40.0" r="1.0" fill="#41ca18"/><circle cx="6.5" cy="2.4" r="1.0" fill="#32b113"/><circle cx="6.5" cy="48.4" r="1.0" fill="#32b113"/><circle cx="41.4" cy="30.1" r="1.1" fill="#41ca18"/><circle cx="36.4" cy="34.3" r="1.2" fill="#3abe16"/><circle cx="-2.0" cy="3.4" r="1.1" fill="#32b113"/><circle cx="44.0" cy="3.4" r="1.1" fill="#32b113"/><circle cx="-1.3" cy="-1.8" r="1.2" fill="#49d01a"/><circle cx="-1.3" cy="44.2" r="1.2" fill="#49d01a"/><circle cx="44.7" cy="-1.8" r="1.2" fill="#49d01a"/><circle cx="44.7" cy="44.2" r="1.2" fill="#49d01a"/><circle cx="30.7" cy="2.0" r="0.9" fill="#41ca18"/><circle cx="30.7" cy="48.0" r="0.9" fill="#41ca18"/><circle cx="-1.4" cy="30.7" r="1.2" fill="#49d01a"/><circle cx="44.6" cy="30.7" r="1.2" fill="#49d01a"/><circle cx="29.2" cy="26.2" r="1.1" fill="#3abe16"/><circle cx="42.4" cy="0.6" r="0.9" fill="#32b113"/><circle cx="42.4" cy="46.6" r="0.9" fill="#32b113"/><circle cx="40.4" cy="9.3" r="1.2" fill="#41ca18"/><circle cx="30.9" cy="15.2" r="1.2" fill="#3abe16"/><circle cx="21.7" cy="24.2" r="1.2" fill="#3abe16"/><circle cx="1.2" cy="1.6" r="1.1" fill="#49d01a"/><circle cx="1.2" cy="47.6" r="1.1" fill="#49d01a"/><circle cx="47.2" cy="1.6" r="1.1" fill="#49d01a"/><circle cx="47.2" cy="47.6" r="1.1" fill="#49d01a"/><circle cx="27.3" cy="22.5" r="0.9" fill="#49d01a"/><circle cx="39.8" cy="28.0" r="1.0" fill="#32b113"/><circle cx="6.4" cy="16.7" r="1.2" fill="#41ca18"/><circle cx="35.3" cy="24.1" r="0.9" fill="#3abe16"/><circle cx="0.5" cy="38.5" r="1.2" fill="#49d01a"/><circle cx="46.5" cy="38.5" r="1.2" fill="#49d01a"/><circle cx="10.8" cy="22.4" r="1.2" fill="#41ca18"/><circle cx="5.3" cy="28.6" r="1.0" fill="#41ca18"/><circle cx="20.0" cy="39.5" r="1.0" fill="#3abe16"/><circle cx="13.9" cy="38.5" r="0.9" fill="#3abe16"/><circle cx="19.4" cy="36.7" r="1.1" fill="#49d01a"/><circle cx="7.7" cy="40.2" r="1.2" fill="#3abe16"/><circle cx="24.9" cy="41.6" r="0.9" fill="#41ca18"/><circle cx="22.4" cy="32.9" r="1.1" fill="#41ca18"/><circle cx="31.1" cy="28.0" r="0.9" fill="#41ca18"/><circle cx="14.4" cy="42.0" r="1.1" fill="#32b113"/><circle cx="21.5" cy="41.9" r="1.2" fill="#41ca18"/><circle cx="37.2" cy="8.2" r="1.1" fill="#41ca18"/><circle cx="41.5" cy="17.1" r="1.2" fill="#41ca18"/><circle cx="26.5" cy="16.1" r="1.2" fill="#41ca18"/><circle cx="28.6" cy="4.3" r="1.2" fill="#41ca18"/><circle cx="8.3" cy="30.1" r="1.1" fill="#32b113"/><circle cx="15.0" cy="13.8" r="1.0" fill="#41ca18"/><circle cx="-2.1" cy="7.3" r="1.0" fill="#41ca18"/><circle cx="43.9" cy="7.3" r="1.0" fill="#41ca18"/><circle cx="31.1" cy="34.3" r="1.0" fill="#41ca18"/><circle cx="18.7" cy="27.6" r="1.0" fill="#41ca18"/><circle cx="-0.2" cy="41.4" r="1.1" fill="#49d01a"/><circle cx="45.8" cy="41.4" r="1.1" fill="#49d01a"/><circle cx="18.4" cy="18.4" r="1.0" fill="#3abe16"/><circle cx="37.6" cy="13.1" r="1.2" fill="#49d01a"/><circle cx="18.9" cy="0.6" r="1.2" fill="#41ca18"/><circle cx="18.9" cy="46.6" r="1.2" fill="#41ca18"/><circle cx="8.5" cy="24.8" r="1.1" fill="#3abe16"/><circle cx="3.1" cy="-1.2" r="0.9" fill="#41ca18"/><circle cx="3.1" cy="44.8" r="0.9" fill="#41ca18"/><circle cx="6.8" cy="11.0" r="1.2" fill="#49d01a"/><circle cx="7.5" cy="36.4" r="1.0" fill="#32b113"/><circle cx="-1.9" cy="12.1" r="1.1" fill="#49d01a"/><circle cx="44.1" cy="12.1" r="1.1" fill="#49d01a"/><circle cx="14.6" cy="5.6" r="0.9" fill="#49d01a"/><circle cx="30.1" cy="-2.2" r="1.0" fill="#41ca18"/><circle cx="30.1" cy="43.8" r="1.0" fill="#41ca18"/><circle cx="40.4" cy="33.1" r="1.1" fill="#32b113"/><circle cx="18.0" cy="31.4" r="0.9" fill="#49d01a"/><circle cx="39.6" cy="15.1" r="1.1" fill="#3abe16"/><circle cx="27.6" cy="1.7" r="0.9" fill="#3abe16"/><circle cx="27.6" cy="47.7" r="0.9" fill="#3abe16"/><circle cx="38.4" cy="41.0" r="1.1" fill="#32b113"/><circle cx="-0.6" cy="16.2" r="1.2" fill="#3abe16"/><circle cx="45.4" cy="16.2" r="1.2" fill="#3abe16"/><circle cx="23.4" cy="0.0" r="0.9" fill="#3abe16"/><circle cx="23.4" cy="46.0" r="0.9" fill="#3abe16"/><circle cx="33.7" cy="1.6" r="0.9" fill="#3abe16"/><circle cx="33.7" cy="47.6" r="0.9" fill="#3abe16"/><circle cx="13.7" cy="17.9" r="1.0" fill="#32b113"/><circle cx="13.7" cy="31.8" r="1.0" fill="#41ca18"/><circle cx="30.8" cy="41.0" r="1.0" fill="#32b113"/><circle cx="15.7" cy="21.0" r="1.1" fill="#3abe16"/><circle cx="3.5" cy="39.0" r="1.1" fill="#41ca18"/><circle cx="8.2" cy="33.0" r="0.9" fill="#49d01a"/><circle cx="1.3" cy="35.3" r="1.2" fill="#49d01a"/><circle cx="47.3" cy="35.3" r="1.2" fill="#49d01a"/><circle cx="25.1" cy="24.9" r="1.2" fill="#41ca18"/><circle cx="10.1" cy="11.0" r="1.2" fill="#41ca18"/><circle cx="26.4" cy="8.9" r="0.9" fill="#41ca18"/><circle cx="41.2" cy="22.2" r="1.2" fill="#41ca18"/><circle cx="-1.2" cy="24.2" r="1.2" fill="#3abe16"/><circle cx="44.8" cy="24.2" r="1.2" fill="#3abe16"/><circle cx="4.8" cy="35.1" r="1.0" fill="#41ca18"/><circle cx="22.2" cy="30.0" r="1.0" fill="#3abe16"/><circle cx="18.1" cy="11.1" r="1.1" fill="#49d01a"/><circle cx="36.4" cy="4.4" r="1.2" fill="#3abe16"/><circle cx="18.1" cy="4.0" r="1.1" fill="#41ca18"/><circle cx="4.7" cy="42.4" r="1.2" fill="#32b113"/><circle cx="34.1" cy="12.9" r="1.0" fill="#41ca18"/><circle cx="36.4" cy="-1.4" r="1.1" fill="#3abe16"/><circle cx="36.4" cy="44.6" r="1.1" fill="#3abe16"/><circle cx="16.1" cy="26.4" r="1.0" fill="#49d01a"/><circle cx="40.1" cy="38.9" r="1.0" fill="#3abe16"/><circle cx="32.4" cy="19.7" r="1.0" fill="#49d01a"/><circle cx="4.9" cy="6.6" r="1.2" fill="#49d01a"/><circle cx="24.9" cy="3.3" r="1.0" fill="#3abe16"/><circle cx="16.8" cy="23.6" r="1.1" fill="#41ca18"/><circle cx="17.1" cy="16.0" r="1.1" fill="#41ca18"/><circle cx="23.6" cy="35.5" r="1.0" fill="#49d01a"/><circle cx="33.8" cy="33.0" r="0.9" fill="#41ca18"/><circle cx="17.2" cy="39.0" r="1.0" fill="#41ca18"/><circle cx="30.0" cy="23.2" r="0.9" fill="#32b113"/><circle cx="37.6" cy="29.9" r="0.9" fill="#49d01a"/><circle cx="11.1" cy="36.6" r="0.9" fill="#32b113"/><circle cx="6.3" cy="-0.4" r="1.2" fill="#49d01a"/><circle cx="6.3" cy="45.6" r="1.2" fill="#49d01a"/><circle cx="27.4" cy="-1.9" r="0.9" fill="#41ca18"/><circle cx="27.4" cy="44.1" r="0.9" fill="#41ca18"/><circle cx="25.5" cy="38.9" r="0.9" fill="#49d01a"/><circle cx="-1.5" cy="34.8" r="1.2" fill="#3abe16"/><circle cx="44.5" cy="34.8" r="1.2" fill="#3abe16"/><circle cx="27.6" cy="41.3" r="1.0" fill="#3abe16"/><circle cx="27.9" cy="34.1" r="1.1" fill="#41ca18"/><circle cx="0.5" cy="5.4" r="1.0" fill="#49d01a"/><circle cx="46.5" cy="5.4" r="1.0" fill="#49d01a"/><circle cx="10.1" cy="8.2" r="1.1" fill="#32b113"/><circle cx="32.1" cy="10.0" r="0.9" fill="#3abe16"/><circle cx="24.3" cy="28.2" r="1.0" fill="#41ca18"/><circle cx="20.7" cy="19.9" r="1.1" fill="#32b113"/><circle cx="3.5" cy="15.2" r="1.0" fill="#41ca18"/><circle cx="37.7" cy="19.2" r="1.1" fill="#3abe16"/><circle cx="11.1" cy="27.2" r="0.9" fill="#41ca18"/><circle cx="39.2" cy="6.4" r="1.1" fill="#32b113"/><circle cx="29.6" cy="17.5" r="1.2" fill="#3abe16"/><circle cx="34.2" cy="36.6" r="0.9" fill="#49d01a"/><circle cx="20.6" cy="13.0" r="1.1" fill="#49d01a"/><circle cx="29.0" cy="9.8" r="1.2" fill="#49d01a"/><circle cx="33.6" cy="22.0" r="1.0" fill="#3abe16"/><circle cx="32.0" cy="24.9" r="1.2" fill="#49d01a"/><circle cx="41.2" cy="12.8" r="1.2" fill="#32b113"/><circle cx="2.7" cy="26.2" r="1.0" fill="#32b113"/><circle cx="48.7" cy="26.2" r="1.0" fill="#32b113"/><circle cx="11.5" cy="30.3" r="1.1" fill="#49d01a"/><circle cx="3.3" cy="3.5" r="1.1" fill="#49d01a"/><circle cx="33.8" cy="5.7" r="1.2" fill="#3abe16"/><circle cx="5.3" cy="32.4" r="0.9" fill="#49d01a"/><circle cx="8.8" cy="0.7" r="1.2" fill="#3abe16"/><circle cx="8.8" cy="46.7" r="1.2" fill="#3abe16"/><circle cx="31.1" cy="31.2" r="1.0" fill="#32b113"/><circle cx="13.9" cy="2.7" r="0.9" fill="#3abe16"/><circle cx="13.9" cy="48.7" r="0.9" fill="#3abe16"/><circle cx="22.3" cy="38.3" r="1.0" fill="#32b113"/><circle cx="39.2" cy="-0.0" r="1.2" fill="#32b113"/><circle cx="39.2" cy="46.0" r="1.2" fill="#32b113"/><circle cx="4.7" cy="20.9" r="1.0" fill="#49d01a"/><circle cx="20.7" cy="9.3" r="1.2" fill="#49d01a"/><circle cx="37.1" cy="26.3" r="1.1" fill="#32b113"/><circle cx="33.3" cy="17.1" r="0.9" fill="#32b113"/><circle cx="24.6" cy="21.4" r="0.9" fill="#32b113"/><circle cx="18.3" cy="21.1" r="1.1" fill="#3abe16"/><circle cx="24.7" cy="31.5" r="1.2" fill="#49d01a"/><circle cx="16.1" cy="9.0" r="0.9" fill="#3abe16"/><circle cx="13.2" cy="11.7" r="1.0" fill="#3abe16"/><circle cx="9.2" cy="17.2" r="0.9" fill="#3abe16"/><circle cx="19.2" cy="33.9" r="0.9" fill="#32b113"/><circle cx="4.8" cy="12.9" r="1.1" fill="#32b113"/><circle cx="-0.6" cy="27.0" r="1.0" fill="#32b113"/><circle cx="45.4" cy="27.0" r="1.0" fill="#32b113"/><circle cx="35.1" cy="41.8" r="1.1" fill="#3abe16"/><circle cx="21.4" cy="26.9" r="0.9" fill="#32b113"/><circle cx="25.2" cy="6.4" r="1.0" fill="#49d01a"/><circle cx="31.1" cy="38.1" r="1.0" fill="#41ca18"/><circle cx="13.2" cy="35.0" r="1.2" fill="#3abe16"/><circle cx="21.0" cy="6.7" r="1.1" fill="#3abe16"/><circle cx="42.5" cy="19.5" r="1.1" fill="#41ca18"/><circle cx="11.0" cy="33.5" r="1.2" fill="#3abe16"/><circle cx="7.5" cy="7.7" r="1.0" fill="#3abe16"/><circle cx="28.4" cy="7.0" r="1.0" fill="#41ca18"/><circle cx="16.2" cy="-2.0" r="1.1" fill="#3abe16"/><circle cx="16.2" cy="44.0" r="1.1" fill="#3abe16"/><circle cx="36.3" cy="38.9" r="1.2" fill="#41ca18"/><circle cx="42.9" cy="15.0" r="1.0" fill="#49d01a"/><circle cx="13.0" cy="21.0" r="0.9" fill="#32b113"/><circle cx="26.8" cy="27.3" r="1.1" fill="#32b113"/><circle cx="21.3" cy="-1.5" r="1.1" fill="#32b113"/><circle cx="21.3" cy="44.5" r="1.1" fill="#32b113"/></g></pattern>
<filter id="ovD1" x="0" y="0" width="100%" height="100%" color-interpolation-filters="sRGB"><feTurbulence type="fractalNoise" baseFrequency="0.2" numOctaves="2" seed="75" result="n"/><feColorMatrix in="n" type="matrix" values="0 0 0 0 0.078  0 0 0 0 0.078  0 0 0 0 0.078  0 0.8 0 0 -0.220" result="m"/><feGaussianBlur in="m" stdDeviation="0.3" result="mb"/><feComposite in="mb" in2="SourceGraphic" operator="in"/></filter>
<filter id="ovD4" x="0" y="0" width="100%" height="100%" color-interpolation-filters="sRGB"><feTurbulence type="fractalNoise" baseFrequency="0.5" numOctaves="2" seed="78" result="n"/><feColorMatrix in="n" type="matrix" values="0 0 0 0 0.039  0 0 0 0 0.157  0 0 0 0 0.020  0 1.0 0 0 -0.450" result="m"/><feGaussianBlur in="m" stdDeviation="0.3" result="mb"/><feComposite in="mb" in2="SourceGraphic" operator="in"/></filter>
<filter id="ovD3" x="0" y="0" width="100%" height="100%" color-interpolation-filters="sRGB"><feTurbulence type="fractalNoise" baseFrequency="0.2" numOctaves="2" seed="77" result="n"/><feColorMatrix in="n" type="matrix" values="0 0 0 0 0.078  0 0 0 0 0.078  0 0 0 0 0.078  0 1.0 0 0 -0.420" result="m"/><feGaussianBlur in="m" stdDeviation="0.3" result="mb"/><feComposite in="mb" in2="SourceGraphic" operator="in"/></filter>
<linearGradient id="gm1" gradientUnits="userSpaceOnUse" x1="380" y1="0" x2="470" y2="0"><stop offset="0" stop-color="#fff"/><stop offset="0.35" stop-color="#fff"/><stop offset="1" stop-color="#000"/></linearGradient>
<linearGradient id="gm2" gradientUnits="userSpaceOnUse" x1="380" y1="0" x2="474" y2="0"><stop offset="0" stop-color="#fff"/><stop offset="0.4" stop-color="#fff"/><stop offset="1" stop-color="#000"/></linearGradient>
<mask id="mk1" maskUnits="userSpaceOnUse" x="360" y="330" width="170" height="125"><rect x="360" y="330" width="170" height="125" fill="url(#gm1)"/></mask>
<mask id="mk2" maskUnits="userSpaceOnUse" x="360" y="440" width="170" height="130"><rect x="360" y="440" width="170" height="130" fill="url(#gm2)"/></mask>
<linearGradient id="gmix1" gradientUnits="userSpaceOnUse" x1="375" y1="0" x2="470" y2="0"><stop offset="0" stop-color="#5e9a52"/><stop offset="0.45" stop-color="#6f9a66"/><stop offset="1" stop-color="#8c8f8a"/></linearGradient>
<linearGradient id="gmix2" gradientUnits="userSpaceOnUse" x1="372" y1="0" x2="474" y2="0"><stop offset="0" stop-color="#5f9c52"/><stop offset="0.5" stop-color="#6e9a64"/><stop offset="1" stop-color="#8e918c"/></linearGradient>
</defs>
<rect x="370.0" y="111.0" width="148.3" height="110.0" fill="#515451"/>
<rect x="370.0" y="111.0" width="148.3" height="110.0" fill="#fff" filter="url(#bgn)"/>
<g clip-path="url(#cp00)">
<rect x="410" y="131" width="25" height="12" fill="#4d4f4c"/><rect x="403" y="141" width="14" height="10" fill="#4a4c49"/><rect x="436" y="126" width="20" height="8" fill="#4f514e"/>
<defs><path id="bp0" d="M438.3,132.7 C439.6,132.6 440.8,132.4 441.9,132.0 C443.1,131.6 444.1,130.6 445.3,130.3 C446.5,130.1 448.0,130.9 449.2,130.5 C450.4,130.2 451.5,128.7 452.7,128.4 C453.9,128.1 455.3,128.6 456.5,128.7 C457.8,128.9 459.0,129.3 460.2,129.3 C461.5,129.2 462.9,128.3 464.1,128.6 C465.3,128.9 466.2,130.7 467.5,130.9 C468.8,131.1 470.5,129.6 471.7,129.7 C472.9,129.9 473.7,131.2 474.8,131.7 C475.9,132.3 477.0,132.8 478.3,133.0 C479.7,133.1 481.5,132.5 482.8,132.8 C484.1,133.1 485.0,134.1 486.0,134.8 C486.9,135.6 487.7,136.5 488.6,137.3 C489.6,138.1 490.3,139.1 491.5,139.6 C492.8,140.1 495.0,139.8 496.2,140.4 C497.4,141.0 497.8,142.2 498.7,143.0 C499.6,143.9 501.0,144.5 501.6,145.6 C502.2,146.7 501.8,148.3 502.5,149.4 C503.2,150.4 505.1,150.9 505.9,151.8 C506.8,152.8 507.1,153.9 507.6,155.0 C508.1,156.2 508.3,157.4 508.8,158.6 C509.3,159.7 509.8,160.8 510.5,162.0 C511.1,163.1 512.2,164.2 512.6,165.3 C513.1,166.5 513.0,167.7 513.2,168.9 C513.3,170.2 513.6,171.4 513.7,172.7 C513.8,173.9 513.2,175.1 513.6,176.4 C513.9,177.6 515.4,179.0 515.7,180.3 C516.0,181.5 515.3,182.7 515.2,184.0 C515.2,185.3 515.6,186.7 515.5,187.9 C515.3,189.1 514.5,190.2 514.5,191.4 C514.4,192.7 515.2,194.3 515.1,195.6 C515.0,196.8 514.0,197.8 513.7,199.0 C513.4,200.2 513.5,201.6 513.3,202.8 C513.1,204.1 512.7,205.2 512.6,206.5 C512.5,207.8 512.6,209.3 512.4,210.5 C512.2,211.7 511.6,212.7 511.3,213.8 C510.9,214.9 510.5,215.9 510.3,217.1 C510.0,218.2 509.8,219.4 509.7,220.7 C509.6,221.9 510.0,223.6 509.7,224.7 C509.5,225.8 508.9,226.5 508.3,227.2 C507.6,227.9 507.0,228.6 505.9,228.7 C504.7,228.8 502.8,228.0 501.5,228.0 C500.2,227.9 499.5,228.7 498.1,228.5 C496.7,228.3 494.6,227.1 493.3,227.0 C491.9,226.9 491.2,227.6 490.1,227.9 C489.0,228.2 488.1,228.8 486.8,228.8 C485.6,228.9 484.1,228.4 482.7,228.3 C481.4,228.1 480.0,227.9 478.8,227.8 C477.5,227.8 476.3,228.0 475.0,227.9 C473.7,227.8 472.3,227.2 471.0,227.1 C469.7,226.9 468.6,227.2 467.3,227.2 C466.1,227.2 464.8,227.1 463.6,227.2 C462.4,227.3 461.2,227.6 459.9,227.7 C458.7,227.8 457.4,227.5 456.2,227.7 C454.9,227.9 453.5,229.0 452.3,228.9 C451.1,228.8 450.0,227.4 448.7,227.2 C447.5,226.9 446.2,227.4 444.9,227.4 C443.7,227.5 442.4,227.5 441.2,227.5 C440.0,227.5 438.8,227.2 437.5,227.2 C436.3,227.2 434.9,227.5 433.7,227.5 C432.4,227.6 431.3,227.4 430.0,227.4 C428.7,227.5 427.2,228.0 426.0,228.0 C424.7,227.9 424.1,226.9 422.8,227.1 C421.4,227.2 419.1,228.7 417.8,228.8 C416.5,229.0 416.1,227.8 414.8,227.8 C413.5,227.7 411.5,228.7 410.1,228.8 C408.8,228.9 407.9,228.4 406.7,228.3 C405.5,228.2 403.9,228.6 403.0,228.3 C402.0,228.0 401.5,227.3 401.0,226.4 C400.5,225.6 399.9,224.8 399.9,223.4 C399.9,222.1 401.1,219.7 401.1,218.4 C401.0,217.1 399.8,216.6 399.6,215.4 C399.4,214.2 400.0,212.4 399.9,211.2 C399.7,209.9 399.0,209.1 398.7,207.9 C398.4,206.8 398.1,205.6 398.1,204.2 C398.2,202.9 398.9,201.2 399.0,199.8 C399.1,198.5 398.7,197.4 398.7,196.1 C398.7,194.9 398.9,193.5 398.8,192.3 C398.7,191.0 398.2,189.9 398.1,188.7 C398.1,187.5 398.6,186.1 398.6,184.9 C398.6,183.7 398.4,182.5 398.2,181.3 C397.9,180.1 397.0,178.9 397.1,177.7 C397.3,176.4 398.5,175.1 399.0,173.8 C399.6,172.6 400.0,171.5 400.3,170.3 C400.7,169.1 400.7,167.9 401.1,166.7 C401.5,165.5 402.4,164.4 402.8,163.2 C403.1,162.0 402.9,160.7 403.3,159.5 C403.7,158.4 404.4,157.3 405.3,156.3 C406.1,155.3 407.6,154.5 408.5,153.5 C409.3,152.5 409.7,151.4 410.3,150.3 C410.9,149.3 411.4,148.2 412.1,147.2 C412.7,146.1 413.4,145.0 414.3,144.1 C415.2,143.2 416.4,142.5 417.6,141.9 C418.7,141.2 420.1,140.9 421.1,140.1 C422.1,139.4 422.2,137.7 423.4,137.2 C424.6,136.7 426.9,137.3 428.2,137.0 C429.5,136.7 430.4,136.1 431.4,135.3 C432.4,134.6 432.9,133.0 434.0,132.5 C435.2,132.1 437.0,132.8 438.3,132.7 Z"/></defs>
<use href="#bp0" fill="url(#pMa)" />
<use href="#bp0" fill="#fff" filter="url(#gp1)" />
<circle cx="456.5" cy="183.3" r="1.3" fill="#0a0a0a" opacity="0.75"/>
<circle cx="463" cy="180.6" r="1.1" fill="#0a0a0a" opacity="0.75"/>
<circle cx="459.8" cy="174.5" r="1.0" fill="#0a0a0a" opacity="0.75"/>
<circle cx="454.3" cy="185.4" r="1.0" fill="#0a0a0a" opacity="0.75"/>
<circle cx="440" cy="162.5" r="0.9" fill="#0a0a0a" opacity="0.75"/>
<circle cx="445.5" cy="172.3" r="0.9" fill="#0a0a0a" opacity="0.75"/>
<circle cx="466" cy="185" r="0.9" fill="#0a0a0a" opacity="0.75"/>
<circle cx="450" cy="178" r="0.8" fill="#0a0a0a" opacity="0.75"/>
<use href="#bp0" fill="none" stroke="#d4d8d0" stroke-width="1.1" stroke-opacity="0.55" stroke-dasharray="2 1.2 1 1.5"/>
<g stroke="#bdb58a" stroke-width="0.8" opacity="0.85">
<path d="M376.9,215.5H403.9M377.3,215.5V213.2M390.4,215.5V214.0M403.5,215.5V213.2"/>
</g>
<rect x="377.7" y="217.2" width="24" height="1.1" fill="#bdb58a" opacity="0.45"/>
<rect x="494.99999999999994" y="215.2" width="18.6" height="4.6" rx="2.3" fill="#5e5e5e" stroke="#b4b4b4" stroke-width="0.7"/>
<rect x="497.79999999999995" y="217.0" width="12.5" height="1.1" fill="#d0d0d0" opacity="0.8"/>
</g>
<rect x="370.0" y="224.0" width="148.3" height="109.8" fill="#515351"/>
<rect x="370.0" y="224.0" width="148.3" height="109.8" fill="#fff" filter="url(#bgn)"/>
<g clip-path="url(#cp10)">
<defs><path id="bp1" d="M400.8,215.2 C400.3,215.8 401.5,218.4 401.4,219.6 C401.4,220.8 401.1,221.5 400.6,222.4 C400.1,223.3 399.1,223.9 398.5,224.9 C397.9,226.0 397.6,227.5 397.1,228.7 C396.5,229.8 395.7,230.8 395.1,231.9 C394.6,233.0 394.3,234.3 393.9,235.5 C393.5,236.7 393.3,238.0 392.6,238.9 C391.8,239.9 390.0,240.3 389.4,241.4 C388.8,242.5 389.3,244.1 388.9,245.3 C388.4,246.5 387.0,247.2 386.8,248.5 C386.6,249.7 387.8,251.5 387.7,252.8 C387.6,254.1 386.6,255.0 386.3,256.2 C385.9,257.4 386.0,258.7 385.7,259.9 C385.4,261.0 384.4,262.1 384.3,263.3 C384.1,264.5 384.9,265.9 384.8,267.1 C384.8,268.3 384.3,269.5 384.1,270.8 C383.9,272.0 383.5,273.2 383.5,274.4 C383.4,275.7 383.6,276.9 383.8,278.1 C384.1,279.3 384.7,280.5 385.0,281.7 C385.4,282.9 385.8,284.0 385.7,285.3 C385.5,286.6 383.9,288.3 384.1,289.5 C384.4,290.7 386.6,291.3 387.3,292.4 C387.9,293.5 387.6,294.9 388.0,296.1 C388.4,297.3 389.2,298.3 389.6,299.5 C390.1,300.6 390.1,302.1 390.9,303.0 C391.7,303.9 393.6,304.1 394.6,304.9 C395.6,305.7 396.0,306.8 396.9,307.6 C397.8,308.5 399.2,309.0 400.1,309.8 C401.0,310.6 401.5,311.6 402.4,312.4 C403.2,313.2 404.0,314.0 405.1,314.5 C406.3,315.0 407.9,315.0 409.1,315.5 C410.3,316.0 410.9,317.1 412.2,317.4 C413.4,317.8 415.2,317.5 416.5,317.7 C417.9,317.8 419.2,317.8 420.3,318.2 C421.5,318.7 422.2,319.8 423.3,320.3 C424.4,320.8 425.8,320.8 426.9,321.2 C428.1,321.5 429.3,322.1 430.5,322.3 C431.7,322.6 433.0,322.6 434.2,322.9 C435.4,323.2 436.5,323.8 437.7,324.1 C438.9,324.4 440.2,324.5 441.4,324.7 C442.7,325.0 443.9,325.6 445.2,325.5 C446.4,325.5 447.7,324.5 448.9,324.5 C450.2,324.4 451.4,324.9 452.6,325.2 C453.9,325.5 455.3,326.5 456.5,326.4 C457.7,326.4 458.7,325.2 459.9,324.8 C461.1,324.5 462.3,324.3 463.5,324.1 C464.7,324.0 466.1,324.3 467.3,324.1 C468.5,324.0 469.4,323.2 470.8,323.2 C472.1,323.2 473.9,324.3 475.2,324.2 C476.5,324.1 477.7,323.5 478.7,322.9 C479.8,322.2 480.5,321.1 481.5,320.4 C482.5,319.6 483.5,319.1 484.6,318.5 C485.7,318.0 486.7,317.5 487.9,317.0 C489.1,316.6 490.5,316.5 491.6,315.8 C492.6,315.2 493.1,314.0 494.0,313.2 C495.0,312.4 496.2,311.8 497.3,311.1 C498.3,310.3 499.4,309.6 500.2,308.6 C501.0,307.7 501.6,306.7 502.2,305.6 C502.7,304.5 502.9,303.3 503.6,302.3 C504.3,301.2 506.0,300.6 506.5,299.5 C506.9,298.4 506.2,296.7 506.5,295.5 C506.8,294.3 507.7,293.3 508.2,292.2 C508.8,291.1 509.3,290.0 509.8,288.9 C510.3,287.7 510.8,286.5 511.0,285.3 C511.3,284.1 511.1,282.9 511.4,281.7 C511.8,280.5 512.8,279.4 513.2,278.2 C513.6,277.0 513.6,275.8 514.0,274.6 C514.4,273.4 515.2,272.1 515.4,270.9 C515.6,269.7 515.1,268.5 515.2,267.2 C515.4,265.9 516.3,264.6 516.3,263.3 C516.4,262.1 515.8,261.0 515.6,259.7 C515.3,258.5 515.2,257.3 514.8,256.1 C514.4,254.9 513.8,253.8 513.3,252.6 C512.8,251.4 512.3,250.3 512.0,249.1 C511.7,247.9 512.1,246.4 511.7,245.2 C511.3,244.0 510.0,243.2 509.4,242.1 C508.9,241.0 508.8,239.6 508.2,238.5 C507.6,237.4 506.5,236.6 505.8,235.5 C505.1,234.5 504.7,233.2 503.8,232.3 C503.0,231.5 501.4,231.2 500.6,230.2 C499.8,229.2 499.9,227.5 499.1,226.5 C498.3,225.5 496.5,225.3 495.9,224.4 C495.3,223.5 495.4,222.3 495.3,221.2 C495.2,220.1 495.5,218.5 495.2,217.6 C494.9,216.7 494.4,216.0 493.5,215.6 C492.6,215.3 491.0,215.6 489.9,215.5 C488.8,215.3 488.0,214.7 486.8,214.6 C485.5,214.6 483.9,215.2 482.5,215.4 C481.2,215.7 479.7,216.1 478.6,215.9 C477.4,215.8 476.7,214.6 475.6,214.4 C474.4,214.3 473.0,214.6 471.6,214.9 C470.3,215.1 468.8,215.9 467.5,216.1 C466.2,216.3 465.1,216.1 463.8,216.0 C462.6,216.0 461.4,216.0 460.2,215.9 C459.0,215.8 457.8,215.6 456.6,215.3 C455.4,215.1 454.2,214.4 453.0,214.1 C451.8,213.9 450.5,213.8 449.2,213.9 C448.0,214.0 446.7,214.4 445.5,214.7 C444.2,215.0 443.1,215.6 441.8,215.6 C440.6,215.7 439.3,215.2 438.0,215.2 C436.8,215.1 435.6,215.3 434.4,215.3 C433.1,215.4 431.9,215.3 430.7,215.4 C429.5,215.5 428.5,216.2 427.2,216.1 C425.9,216.0 424.4,215.1 423.0,214.8 C421.6,214.5 420.3,214.3 419.0,214.3 C417.7,214.2 416.5,214.3 415.4,214.5 C414.3,214.8 413.6,215.8 412.4,215.8 C411.2,215.9 409.4,215.0 408.1,214.9 C406.9,214.9 406.1,215.6 404.9,215.6 C403.7,215.7 401.4,214.5 400.8,215.2 Z"/></defs>
<use href="#bp1" fill="url(#pMb)" />
<use href="#bp1" fill="#fff" filter="url(#gp2)" />
<circle cx="441.2" cy="261.2" r="1.0" fill="#0a0a0a" opacity="0.75"/>
<circle cx="445.5" cy="263.4" r="0.9" fill="#0a0a0a" opacity="0.75"/>
<circle cx="451" cy="263.4" r="1.0" fill="#0a0a0a" opacity="0.75"/>
<circle cx="437.9" cy="267.8" r="0.9" fill="#0a0a0a" opacity="0.75"/>
<circle cx="453.2" cy="270" r="1.1" fill="#0a0a0a" opacity="0.75"/>
<circle cx="459.8" cy="263.4" r="0.9" fill="#0a0a0a" opacity="0.75"/>
<circle cx="435.7" cy="271" r="0.8" fill="#0a0a0a" opacity="0.75"/>
<circle cx="448" cy="268" r="0.8" fill="#0a0a0a" opacity="0.75"/>
<use href="#bp1" fill="none" stroke="#d4d8d0" stroke-width="1.1" stroke-opacity="0.55" stroke-dasharray="2 1.2 1 1.5"/>
<g stroke="#bdb58a" stroke-width="0.8" opacity="0.85">
<path d="M376.9,328.3H403.9M377.3,328.3V326.0M390.4,328.3V326.8M403.5,328.3V326.0"/>
</g>
<rect x="377.7" y="330.0" width="24" height="1.1" fill="#bdb58a" opacity="0.45"/>
<rect x="494.99999999999994" y="328.0" width="18.6" height="4.6" rx="2.3" fill="#5e5e5e" stroke="#b4b4b4" stroke-width="0.7"/>
<rect x="497.79999999999995" y="329.8" width="12.5" height="1.1" fill="#d0d0d0" opacity="0.8"/>
</g>
<rect x="523.8" y="111.0" width="148.2" height="110.0" fill="#505150"/>
<rect x="523.8" y="111.0" width="148.2" height="110.0" fill="#fff" filter="url(#bgn)"/>
<g clip-path="url(#cp01)">
<defs><path id="bp2" d="M543.1,132.8 C543.8,131.9 545.7,132.2 546.7,131.7 C547.8,131.2 548.2,130.3 549.2,129.7 C550.2,129.2 551.5,128.8 552.7,128.5 C554.0,128.3 555.7,128.4 556.9,128.2 C558.1,128.0 559.0,127.6 560.0,127.3 C561.0,126.9 561.7,126.1 562.9,125.9 C564.0,125.8 565.6,126.3 566.8,126.3 C568.1,126.4 569.2,126.2 570.4,126.1 C571.5,125.9 572.7,125.9 573.8,125.7 C575.0,125.4 576.0,124.9 577.1,124.6 C578.3,124.2 579.4,123.8 580.6,123.7 C581.8,123.6 583.0,124.2 584.2,124.0 C585.4,123.8 586.6,122.7 587.7,122.6 C588.9,122.5 590.1,122.9 591.2,123.4 C592.2,123.9 593.2,125.2 594.3,125.5 C595.4,125.8 596.8,125.1 597.9,125.3 C599.1,125.5 600.0,126.3 601.1,126.6 C602.2,126.9 603.0,127.3 604.3,127.1 C605.6,126.9 607.5,125.4 608.7,125.4 C609.8,125.3 610.1,126.7 611.2,126.8 C612.3,127.0 614.0,126.3 615.2,126.5 C616.4,126.7 617.2,127.6 618.3,128.0 C619.5,128.4 621.1,128.3 622.1,128.7 C623.2,129.2 623.9,130.0 624.7,130.7 C625.5,131.5 626.2,132.5 627.0,133.3 C627.8,134.2 628.7,134.9 629.5,135.7 C630.4,136.5 631.0,137.4 631.9,138.2 C632.8,139.0 634.2,139.5 634.8,140.5 C635.5,141.4 635.3,142.8 635.8,143.9 C636.3,145.0 637.4,145.8 637.8,146.9 C638.2,148.0 637.9,149.3 638.1,150.5 C638.4,151.6 638.9,152.6 639.1,153.8 C639.2,154.9 638.8,156.1 639.1,157.3 C639.4,158.4 640.6,159.5 640.9,160.7 C641.2,161.8 640.9,163.1 640.9,164.2 C640.8,165.4 640.8,166.6 640.5,167.7 C640.2,168.9 639.6,170.0 639.2,171.1 C638.8,172.2 638.4,173.4 637.9,174.5 C637.5,175.6 636.8,176.6 636.6,177.7 C636.4,178.9 637.1,180.3 636.7,181.4 C636.4,182.5 635.3,183.4 634.5,184.3 C633.7,185.3 632.7,186.1 632.1,187.1 C631.5,188.1 631.3,189.3 630.8,190.3 C630.3,191.3 629.7,192.3 629.2,193.3 C628.6,194.4 628.3,195.5 627.7,196.5 C627.1,197.5 626.4,198.6 625.4,199.3 C624.5,200.0 622.8,200.0 621.9,200.8 C621.1,201.6 621.1,203.4 620.3,204.2 C619.4,205.0 618.0,205.1 617.0,205.7 C616.0,206.3 615.2,207.2 614.3,207.8 C613.3,208.5 612.3,209.2 611.3,209.7 C610.2,210.2 608.9,210.4 607.9,210.9 C606.8,211.4 606.0,212.5 604.8,212.8 C603.7,213.1 602.4,212.8 601.2,212.8 C599.9,212.8 598.7,212.5 597.6,212.7 C596.4,213.0 595.4,214.0 594.3,214.4 C593.2,214.8 592.0,215.0 590.9,215.2 C589.7,215.3 588.6,214.9 587.4,215.0 C586.3,215.0 585.1,215.5 584.0,215.4 C582.9,215.3 581.7,214.8 580.6,214.4 C579.5,214.0 578.5,213.3 577.3,213.0 C576.2,212.7 575.0,212.9 573.8,212.7 C572.7,212.5 571.6,212.2 570.4,212.0 C569.3,211.8 568.0,211.7 566.9,211.3 C565.9,210.9 564.8,210.5 563.8,209.8 C562.9,209.1 562.3,207.8 561.2,207.2 C560.2,206.6 558.8,206.7 557.7,206.2 C556.7,205.6 555.9,204.6 555.0,203.9 C554.1,203.1 553.1,202.4 552.3,201.6 C551.5,200.7 550.9,199.6 550.1,198.7 C549.3,197.8 548.4,197.1 547.6,196.2 C546.8,195.3 546.1,194.4 545.4,193.5 C544.7,192.5 543.9,191.6 543.4,190.6 C543.0,189.5 543.1,188.1 542.6,187.0 C542.2,185.9 541.2,185.1 540.7,184.0 C540.1,183.0 539.5,181.9 539.2,180.8 C538.9,179.7 538.8,178.5 538.7,177.3 C538.5,176.1 538.4,175.0 538.3,173.8 C538.1,172.6 538.0,171.5 537.8,170.4 C537.7,169.2 537.4,168.1 537.3,167.0 C537.2,165.9 537.1,164.7 537.0,163.5 C536.9,162.4 536.8,161.2 536.8,160.0 C536.7,158.8 536.6,157.6 536.7,156.4 C536.7,155.3 536.7,154.1 537.0,152.9 C537.3,151.8 538.2,150.8 538.3,149.7 C538.5,148.5 537.6,146.9 537.8,145.8 C538.1,144.7 539.4,144.0 539.8,142.8 C540.1,141.7 539.4,140.1 539.9,139.1 C540.3,138.0 542.0,137.6 542.6,136.6 C543.1,135.5 542.4,133.6 543.1,132.8 Z"/></defs>
<use href="#bp2" fill="url(#pVa)" />
<use href="#bp2" fill="#fff" filter="url(#ovD4)" />
<use href="#bp2" fill="none" stroke="#d4d8d0" stroke-width="1.1" stroke-opacity="0.55" stroke-dasharray="2 1.2 1 1.5"/>
<g stroke="#bdb58a" stroke-width="0.8" opacity="0.85">
<path d="M530.6999999999999,215.5H557.6999999999999M531.0999999999999,215.5V213.2M544.1999999999999,215.5V214.0M557.3,215.5V213.2"/>
</g>
<rect x="531.5" y="217.2" width="24" height="1.1" fill="#bdb58a" opacity="0.45"/>
<rect x="648.7" y="215.2" width="18.6" height="4.6" rx="2.3" fill="#5e5e5e" stroke="#b4b4b4" stroke-width="0.7"/>
<rect x="651.5" y="217.0" width="12.5" height="1.1" fill="#d0d0d0" opacity="0.8"/>
</g>
<rect x="523.8" y="224.0" width="148.2" height="109.8" fill="#505150"/>
<rect x="523.8" y="224.0" width="148.2" height="109.8" fill="#fff" filter="url(#bgn)"/>
<g clip-path="url(#cp11)">
<defs><path id="bp3" d="M594.5,241.7 C595.7,241.6 597.0,241.9 598.1,241.8 C599.3,241.7 600.4,241.2 601.6,241.1 C602.8,241.0 604.0,241.0 605.2,241.1 C606.4,241.1 607.6,241.4 608.8,241.4 C610.0,241.4 611.2,241.0 612.4,241.0 C613.5,240.9 614.9,240.7 615.9,241.1 C616.9,241.4 617.8,242.2 618.6,243.1 C619.4,244.0 620.0,245.6 620.8,246.5 C621.5,247.4 622.4,247.9 623.2,248.6 C624.0,249.3 624.8,249.8 625.4,250.9 C625.9,252.0 626.0,254.1 626.6,255.1 C627.3,256.0 628.5,256.1 629.4,256.7 C630.3,257.4 631.1,258.4 632.0,259.1 C632.9,259.9 634.0,260.4 634.9,261.0 C635.8,261.7 636.3,262.6 637.3,263.2 C638.4,263.7 640.1,263.7 641.0,264.4 C642.0,265.0 642.1,266.3 642.9,267.2 C643.7,268.1 645.0,268.7 646.0,269.5 C646.9,270.4 647.8,271.3 648.6,272.2 C649.5,273.1 650.2,274.0 650.9,275.0 C651.5,276.0 651.8,277.0 652.3,278.0 C652.8,279.0 653.5,280.0 653.8,281.0 C654.2,282.0 654.3,283.0 654.6,284.1 C654.8,285.2 655.2,286.4 655.1,287.5 C655.1,288.7 654.4,289.8 654.3,291.0 C654.1,292.2 654.2,293.4 654.0,294.6 C653.7,295.7 652.9,296.7 652.6,297.9 C652.4,299.0 653.1,300.5 652.8,301.6 C652.4,302.7 651.1,303.5 650.7,304.5 C650.2,305.6 650.3,306.9 650.0,308.0 C649.7,309.1 649.3,310.2 648.9,311.2 C648.4,312.3 647.7,313.3 647.1,314.3 C646.5,315.3 646.1,316.6 645.2,317.3 C644.3,318.1 642.5,318.1 641.8,319.0 C641.2,319.9 641.3,321.6 641.1,322.8 C640.9,324.1 640.8,325.4 640.4,326.5 C640.0,327.5 639.3,328.1 638.9,329.0 C638.4,329.9 638.0,330.9 637.8,332.1 C637.5,333.3 637.8,335.3 637.4,336.4 C637.0,337.4 636.3,338.2 635.4,338.7 C634.5,339.1 633.1,338.9 631.9,338.9 C630.7,338.9 629.5,338.9 628.2,338.8 C627.0,338.7 625.7,338.4 624.5,338.4 C623.3,338.3 622.2,338.4 621.0,338.5 C619.8,338.6 618.7,338.7 617.5,338.9 C616.4,339.1 615.2,339.8 614.1,339.8 C612.9,339.8 611.6,338.9 610.5,338.7 C609.3,338.6 608.1,338.7 607.0,338.8 C605.8,339.0 604.6,339.4 603.4,339.6 C602.2,339.9 600.9,340.6 599.7,340.5 C598.6,340.4 597.6,339.4 596.5,339.1 C595.4,338.9 594.2,339.0 593.1,339.0 C592.0,338.9 590.8,339.1 589.8,338.8 C588.7,338.5 587.7,338.0 586.8,337.4 C585.8,336.8 584.9,336.0 584.0,335.2 C583.2,334.3 582.6,333.0 581.7,332.2 C580.9,331.3 580.0,330.6 579.1,329.9 C578.1,329.3 576.9,329.0 575.9,328.3 C574.9,327.7 574.0,326.9 573.1,326.2 C572.2,325.4 571.3,324.7 570.3,323.9 C569.4,323.2 568.2,322.7 567.6,321.7 C566.9,320.8 566.9,319.2 566.3,318.3 C565.6,317.3 564.5,316.7 563.6,315.9 C562.7,315.1 561.7,314.3 560.9,313.4 C560.1,312.5 559.1,311.7 558.6,310.6 C558.2,309.5 558.7,308.0 558.4,306.9 C558.0,305.7 556.9,304.9 556.6,303.8 C556.2,302.7 556.4,301.4 556.1,300.2 C555.8,299.1 554.8,298.1 554.7,296.9 C554.6,295.7 555.4,294.4 555.2,293.2 C555.0,292.1 553.8,291.1 553.5,289.9 C553.2,288.8 553.3,287.6 553.5,286.4 C553.7,285.2 554.2,284.0 554.5,282.9 C554.9,281.7 555.3,280.6 555.5,279.4 C555.7,278.3 555.4,277.0 555.8,276.0 C556.2,275.0 557.3,274.2 558.0,273.3 C558.8,272.4 559.6,271.5 560.4,270.6 C561.1,269.7 561.9,268.9 562.4,267.9 C563.0,266.9 563.0,265.7 563.8,264.8 C564.6,263.9 566.3,263.6 567.1,262.7 C567.9,261.9 567.8,260.5 568.5,259.6 C569.1,258.7 570.2,258.0 571.0,257.1 C571.9,256.2 572.6,255.3 573.4,254.5 C574.3,253.6 575.1,252.8 576.0,252.0 C576.9,251.3 578.1,250.7 579.0,250.0 C579.9,249.2 580.7,248.3 581.6,247.5 C582.5,246.7 583.3,245.8 584.4,245.3 C585.5,244.8 586.9,244.9 588.0,244.5 C589.1,244.0 589.9,243.0 591.0,242.6 C592.1,242.1 593.4,241.9 594.5,241.7 Z"/></defs>
<use href="#bp3" fill="url(#pVb)" />
<use href="#bp3" fill="#fff" filter="url(#ovD4)" />
<use href="#bp3" fill="none" stroke="#d4d8d0" stroke-width="1.1" stroke-opacity="0.55" stroke-dasharray="2 1.2 1 1.5"/>
<g stroke="#bdb58a" stroke-width="0.8" opacity="0.85">
<path d="M530.6999999999999,328.3H557.6999999999999M531.0999999999999,328.3V326.0M544.1999999999999,328.3V326.8M557.3,328.3V326.0"/>
</g>
<rect x="531.5" y="330.0" width="24" height="1.1" fill="#bdb58a" opacity="0.45"/>
<rect x="648.7" y="328.0" width="18.6" height="4.6" rx="2.3" fill="#5e5e5e" stroke="#b4b4b4" stroke-width="0.7"/>
<rect x="651.5" y="329.8" width="12.5" height="1.1" fill="#d0d0d0" opacity="0.8"/>
</g>
<rect x="370.0" y="336.6" width="148.3" height="110.2" fill="#525352"/>
<rect x="370.0" y="336.6" width="148.3" height="110.2" fill="#fff" filter="url(#bgn)"/>
<g clip-path="url(#cp20)">
<defs><path id="bp4" d="M471.5,401.0 C471.1,402.3 471.2,403.6 471.0,404.9 C470.8,406.2 470.6,407.5 470.4,408.9 C470.3,410.2 470.3,411.5 470.1,412.8 C469.9,414.1 469.5,415.4 469.2,416.7 C468.8,417.9 468.4,419.2 468.0,420.5 C467.6,421.8 467.4,423.1 466.8,424.3 C466.3,425.5 465.7,426.8 464.8,427.8 C463.8,428.8 462.0,429.3 461.0,430.3 C460.1,431.3 460.0,432.8 459.3,433.9 C458.5,434.9 457.6,436.0 456.7,436.9 C455.7,437.8 454.6,438.6 453.5,439.4 C452.3,440.2 450.9,440.6 449.9,441.4 C448.9,442.3 448.4,443.7 447.3,444.5 C446.3,445.3 444.7,445.5 443.6,446.2 C442.4,446.9 441.7,448.2 440.5,448.8 C439.3,449.4 437.7,449.2 436.5,449.8 C435.3,450.4 434.4,451.8 433.2,452.4 C432.0,453.0 430.7,453.7 429.3,453.7 C427.9,453.6 426.0,452.0 424.7,452.2 C423.3,452.4 422.4,454.2 421.1,454.7 C419.9,455.2 418.5,455.4 417.1,455.3 C415.8,455.2 414.3,454.4 413.0,454.2 C411.6,453.9 410.4,453.6 409.0,453.7 C407.7,453.8 406.3,454.7 405.0,454.6 C403.6,454.6 402.4,453.8 401.1,453.7 C399.7,453.5 398.3,453.9 396.9,453.9 C395.5,453.9 394.0,454.1 392.7,453.6 C391.5,453.1 390.5,451.7 389.4,451.0 C388.2,450.3 387.0,449.8 385.8,449.3 C384.5,448.9 383.1,448.8 381.8,448.4 C380.5,447.9 379.2,447.5 377.9,446.9 C376.7,446.3 375.4,445.6 374.3,444.9 C373.2,444.1 372.2,443.2 371.3,442.3 C370.3,441.3 369.6,440.2 368.7,439.3 C367.8,438.3 366.9,437.3 365.8,436.5 C364.6,435.8 362.7,435.4 361.8,434.5 C360.8,433.6 360.5,432.2 360.0,430.9 C359.5,429.7 359.6,428.1 358.9,427.0 C358.2,425.9 356.5,425.2 355.8,424.1 C355.1,423.0 355.2,421.5 354.6,420.3 C353.9,419.1 352.5,418.1 352.1,416.8 C351.7,415.6 352.4,414.1 352.2,412.7 C352.0,411.4 351.2,410.2 351.0,408.9 C350.9,407.6 351.3,406.3 351.0,404.9 C350.8,403.6 349.9,402.3 349.6,401.0 C349.2,399.7 348.6,398.3 348.7,396.9 C348.9,395.6 349.9,394.3 350.4,393.0 C350.8,391.7 351.2,390.4 351.4,389.1 C351.6,387.8 350.8,386.2 351.4,385.0 C352.0,383.8 354.2,383.0 354.9,381.8 C355.7,380.7 355.6,379.3 355.9,378.0 C356.3,376.7 356.2,375.2 357.1,374.1 C358.0,373.1 360.3,372.9 361.1,371.8 C361.9,370.7 361.2,368.7 362.0,367.6 C362.7,366.6 364.5,366.1 365.7,365.4 C366.9,364.7 368.2,364.1 369.2,363.2 C370.3,362.4 370.9,361.2 371.9,360.3 C372.8,359.4 373.8,358.5 374.9,357.8 C376.0,357.0 377.3,356.5 378.4,355.8 C379.5,355.1 380.5,354.0 381.7,353.6 C383.0,353.2 384.7,353.6 386.0,353.2 C387.3,352.8 388.4,352.2 389.6,351.4 C390.7,350.6 391.4,348.7 392.7,348.3 C393.9,347.9 395.7,348.9 397.1,348.8 C398.5,348.8 399.7,348.1 401.0,348.0 C402.3,348.0 403.7,348.4 405.1,348.4 C406.4,348.3 407.7,348.2 409.0,347.9 C410.3,347.5 411.7,346.3 413.1,346.1 C414.4,345.9 415.8,346.5 417.1,346.8 C418.4,347.1 419.8,347.4 421.0,347.9 C422.3,348.4 423.4,349.5 424.7,349.8 C426.0,350.1 427.4,349.7 428.8,349.7 C430.2,349.7 431.8,349.6 433.0,350.0 C434.3,350.5 435.2,351.8 436.4,352.3 C437.6,352.9 439.0,353.0 440.4,353.4 C441.7,353.8 443.2,354.0 444.4,354.7 C445.6,355.3 446.3,356.6 447.4,357.4 C448.5,358.2 449.9,358.6 450.8,359.6 C451.7,360.6 452.0,362.1 452.8,363.2 C453.6,364.2 454.4,365.2 455.6,366.0 C456.8,366.7 459.0,366.7 460.0,367.6 C461.1,368.5 460.9,370.2 461.8,371.2 C462.6,372.3 464.2,373.0 465.1,374.1 C466.0,375.1 466.5,376.3 467.2,377.5 C467.9,378.7 468.8,379.8 469.1,381.1 C469.4,382.4 468.7,384.1 469.2,385.3 C469.7,386.6 471.7,387.5 472.2,388.8 C472.7,390.0 472.1,391.6 472.2,392.9 C472.3,394.3 473.2,395.6 473.0,396.9 C472.9,398.3 471.8,399.7 471.5,401.0 Z"/></defs>
<use href="#bp4" fill="url(#pLa)" />
<use href="#bp4" fill="url(#pMa)" mask="url(#mk1)"/>
<use href="#bp4" fill="#fff" filter="url(#ovD3)" mask="url(#mk1)"/>
<use href="#bp4" fill="none" stroke="#d4d8d0" stroke-width="1.1" stroke-opacity="0.55" stroke-dasharray="2 1.2 1 1.5"/>
<g stroke="#bdb58a" stroke-width="0.8" opacity="0.85">
<path d="M376.9,441.3H403.9M377.3,441.3V439.0M390.4,441.3V439.8M403.5,441.3V439.0"/>
</g>
<rect x="377.7" y="443.0" width="24" height="1.1" fill="#bdb58a" opacity="0.45"/>
<rect x="494.99999999999994" y="441.0" width="18.6" height="4.6" rx="2.3" fill="#5e5e5e" stroke="#b4b4b4" stroke-width="0.7"/>
<rect x="497.79999999999995" y="442.8" width="12.5" height="1.1" fill="#d0d0d0" opacity="0.8"/>
</g>
<rect x="370.0" y="450.0" width="148.3" height="109.8" fill="#525352"/>
<rect x="370.0" y="450.0" width="148.3" height="109.8" fill="#fff" filter="url(#bgn)"/>
<g clip-path="url(#cp30)">
<defs><path id="bp5" d="M360.5,448.5 C361.0,447.7 362.1,447.7 363.3,447.6 C364.5,447.5 366.3,448.2 367.5,448.1 C368.7,448.1 369.4,447.4 370.5,447.3 C371.6,447.2 372.8,447.1 374.2,447.3 C375.6,447.4 377.5,448.3 378.9,448.4 C380.2,448.6 381.1,448.1 382.3,448.1 C383.5,448.1 385.0,448.4 386.2,448.4 C387.4,448.4 388.4,448.1 389.7,448.1 C390.9,448.0 392.4,448.4 393.6,448.4 C394.8,448.3 395.6,447.7 396.9,447.7 C398.2,447.8 399.8,448.5 401.1,448.7 C402.4,448.8 403.5,448.7 404.7,448.6 C405.9,448.5 407.0,448.0 408.2,448.1 C409.4,448.1 410.9,448.8 412.1,448.8 C413.4,448.8 414.5,448.5 415.6,448.2 C416.8,448.0 417.9,447.4 419.1,447.2 C420.3,447.1 421.6,447.0 422.9,447.2 C424.2,447.5 425.5,448.3 426.8,448.6 C428.0,448.9 429.2,449.2 430.4,449.0 C431.7,448.8 432.9,447.7 434.1,447.3 C435.4,447.0 436.6,447.0 437.9,447.1 C439.1,447.2 440.3,447.5 441.5,447.8 C442.8,448.1 443.9,448.6 445.1,448.7 C446.3,448.8 447.7,448.4 448.8,448.5 C449.9,448.7 450.9,449.0 451.9,449.6 C452.9,450.2 453.8,451.0 454.6,452.2 C455.4,453.3 455.9,455.4 456.7,456.4 C457.5,457.5 458.5,458.0 459.4,458.7 C460.4,459.4 461.5,459.9 462.3,460.8 C463.1,461.7 463.5,463.2 464.2,464.1 C464.9,465.1 466.0,465.5 466.6,466.5 C467.3,467.5 467.4,469.2 468.0,470.3 C468.7,471.4 469.9,471.8 470.4,472.9 C470.9,474.0 470.7,475.9 471.0,477.2 C471.3,478.4 471.8,479.3 472.2,480.3 C472.7,481.3 473.3,482.2 473.6,483.4 C473.9,484.5 473.9,486.0 473.9,487.4 C473.9,488.8 473.6,490.3 473.5,491.7 C473.4,493.0 473.2,494.1 473.2,495.3 C473.2,496.4 473.8,497.3 473.7,498.5 C473.6,499.7 473.0,501.1 472.7,502.3 C472.5,503.6 472.4,504.8 472.2,506.0 C471.9,507.2 471.5,508.3 471.2,509.4 C470.9,510.6 470.5,511.8 470.2,512.9 C470.0,514.1 470.3,515.3 469.8,516.5 C469.3,517.7 467.8,518.8 467.2,519.9 C466.5,521.0 466.7,522.2 466.2,523.3 C465.6,524.4 464.5,525.3 463.9,526.4 C463.4,527.6 463.2,528.8 462.8,530.0 C462.4,531.1 462.3,532.6 461.5,533.5 C460.7,534.4 459.0,534.7 458.0,535.5 C457.1,536.3 456.7,537.5 455.9,538.5 C455.2,539.5 454.6,540.8 453.6,541.5 C452.6,542.2 451.0,542.0 450.0,542.6 C448.9,543.3 448.4,544.8 447.3,545.4 C446.3,546.0 444.8,545.8 443.6,546.3 C442.5,546.7 441.4,547.3 440.3,547.9 C439.2,548.4 438.0,549.0 436.9,549.6 C435.8,550.1 434.6,551.0 433.4,551.3 C432.3,551.6 431.2,550.8 430.1,551.1 C428.9,551.5 427.6,552.9 426.5,553.3 C425.4,553.7 424.4,553.3 423.3,553.7 C422.1,554.1 420.8,555.2 419.6,555.7 C418.5,556.2 417.3,556.7 416.2,556.9 C415.1,557.1 414.0,556.7 412.8,556.8 C411.6,557.0 410.2,557.6 408.9,557.9 C407.7,558.2 406.4,558.4 405.1,558.7 C403.8,559.0 402.5,559.2 401.2,559.5 C399.9,559.9 398.4,560.4 397.2,560.5 C396.1,560.7 395.4,560.2 394.3,560.3 C393.1,560.4 391.7,560.9 390.4,561.1 C389.1,561.4 387.8,561.8 386.5,562.0 C385.2,562.2 383.8,562.5 382.5,562.6 C381.2,562.7 380.0,562.6 378.7,562.6 C377.5,562.6 376.0,562.8 374.9,562.6 C373.9,562.5 373.3,561.9 372.3,561.8 C371.3,561.6 370.2,561.5 368.8,561.6 C367.4,561.7 365.1,562.5 363.9,562.5 C362.7,562.5 362.2,562.1 361.6,561.5 C361.0,561.0 360.4,560.1 360.1,559.1 C359.8,558.1 359.6,556.9 359.6,555.7 C359.6,554.5 359.8,553.1 359.9,551.8 C360.1,550.5 360.3,549.1 360.2,548.0 C360.1,546.8 359.2,545.9 359.2,544.7 C359.2,543.4 360.3,541.8 360.4,540.5 C360.5,539.2 360.1,538.2 359.9,537.0 C359.7,535.8 359.2,534.6 359.4,533.4 C359.5,532.1 360.6,530.7 360.7,529.4 C360.9,528.1 360.4,527.0 360.3,525.8 C360.2,524.6 360.1,523.3 360.0,522.1 C359.9,520.9 359.8,519.6 359.9,518.4 C360.0,517.2 360.5,515.9 360.6,514.7 C360.6,513.5 360.0,512.2 360.1,511.0 C360.1,509.8 360.8,508.6 360.9,507.4 C361.0,506.2 360.9,505.0 360.8,503.7 C360.7,502.5 360.3,501.2 360.3,499.9 C360.3,498.7 360.9,497.6 360.7,496.4 C360.5,495.1 359.1,493.4 359.1,492.2 C359.1,490.9 360.2,490.1 360.4,488.9 C360.7,487.8 360.6,486.5 360.4,485.2 C360.3,483.9 359.6,482.4 359.5,481.1 C359.3,479.8 359.4,478.6 359.6,477.4 C359.7,476.3 360.4,475.4 360.4,474.2 C360.4,472.9 359.5,471.2 359.4,469.9 C359.3,468.6 359.7,467.5 359.8,466.4 C359.9,465.2 360.2,464.2 360.2,463.0 C360.2,461.7 359.8,460.2 359.8,459.0 C359.8,457.8 360.3,456.9 360.4,455.7 C360.5,454.6 360.3,453.2 360.4,452.0 C360.4,450.8 360.0,449.2 360.5,448.5 Z"/></defs>
<use href="#bp5" fill="url(#pLb)" />
<use href="#bp5" fill="url(#pMb)" mask="url(#mk2)"/>
<use href="#bp5" fill="#fff" filter="url(#ovD3)" mask="url(#mk2)"/>
<use href="#bp5" fill="none" stroke="#d4d8d0" stroke-width="1.1" stroke-opacity="0.55" stroke-dasharray="2 1.2 1 1.5"/>
<g stroke="#bdb58a" stroke-width="0.8" opacity="0.85">
<path d="M376.9,554.3H403.9M377.3,554.3V552.0M390.4,554.3V552.8M403.5,554.3V552.0"/>
</g>
<rect x="377.7" y="556.0" width="24" height="1.1" fill="#bdb58a" opacity="0.45"/>
<rect x="494.99999999999994" y="554.0" width="18.6" height="4.6" rx="2.3" fill="#5e5e5e" stroke="#b4b4b4" stroke-width="0.7"/>
<rect x="497.79999999999995" y="555.8" width="12.5" height="1.1" fill="#d0d0d0" opacity="0.8"/>
</g>
<rect x="523.8" y="336.6" width="148.2" height="110.2" fill="#505150"/>
<rect x="523.8" y="336.6" width="148.2" height="110.2" fill="#fff" filter="url(#bgn)"/>
<g clip-path="url(#cp21)">
<defs><path id="bp6" d="M575.6,351.1 C576.5,350.5 578.4,352.0 579.5,351.8 C580.6,351.6 581.3,349.9 582.5,349.9 C583.6,349.8 585.1,351.4 586.3,351.6 C587.5,351.8 588.5,351.1 589.6,351.2 C590.6,351.2 591.7,352.1 592.8,352.0 C593.9,351.9 595.0,350.6 596.1,350.6 C597.2,350.6 598.3,351.4 599.3,352.0 C600.4,352.7 601.3,353.9 602.2,354.5 C603.2,355.2 604.1,355.7 605.2,355.8 C606.3,355.9 607.8,354.9 608.9,355.3 C609.9,355.7 610.3,357.6 611.3,358.2 C612.2,358.8 614.0,358.2 614.7,359.0 C615.5,359.9 615.1,362.3 616.0,363.1 C616.9,363.8 619.0,363.0 620.0,363.5 C620.9,364.0 620.8,365.7 621.8,366.2 C622.8,366.7 625.0,366.3 626.2,366.7 C627.4,367.1 627.9,368.0 628.8,368.6 C629.8,369.2 631.1,369.6 631.8,370.4 C632.5,371.1 632.1,372.5 633.1,373.2 C634.0,374.0 636.8,374.0 637.5,374.9 C638.2,375.7 636.9,377.3 637.2,378.3 C637.5,379.3 638.3,379.9 639.3,380.8 C640.2,381.6 642.4,382.2 643.0,383.2 C643.5,384.2 642.4,385.5 642.5,386.5 C642.7,387.6 643.2,388.5 643.8,389.5 C644.5,390.5 645.8,391.5 646.5,392.5 C647.3,393.5 648.1,394.5 648.4,395.6 C648.8,396.7 648.9,398.0 648.8,399.1 C648.6,400.2 648.3,401.4 647.8,402.4 C647.2,403.5 645.5,404.2 645.3,405.3 C645.1,406.4 646.4,407.9 646.6,409.1 C646.7,410.4 646.8,411.7 646.2,412.6 C645.6,413.6 643.4,413.9 643.0,414.9 C642.6,416.0 644.1,418.0 643.8,419.1 C643.5,420.1 642.0,420.6 641.3,421.5 C640.7,422.4 640.7,423.7 640.1,424.6 C639.4,425.5 638.0,425.7 637.6,426.8 C637.2,428.0 638.1,430.2 637.7,431.3 C637.4,432.4 635.9,432.6 635.4,433.7 C634.9,434.7 635.2,436.6 634.8,437.6 C634.4,438.7 633.4,439.0 632.8,439.8 C632.1,440.6 631.5,441.2 631.0,442.2 C630.6,443.2 630.5,444.6 630.1,445.5 C629.6,446.5 629.0,447.2 628.4,447.9 C627.7,448.6 627.2,449.8 626.1,449.8 C625.0,449.8 622.9,448.2 621.6,447.8 C620.2,447.4 619.2,447.4 618.1,447.4 C617.0,447.5 616.2,448.3 615.1,448.3 C614.0,448.3 612.5,447.4 611.4,447.5 C610.3,447.5 609.5,448.3 608.4,448.6 C607.4,448.8 606.3,449.1 605.2,449.2 C604.1,449.3 602.9,449.6 601.8,449.4 C600.6,449.1 599.4,448.1 598.2,447.9 C597.1,447.6 596.0,447.6 594.9,447.8 C593.8,448.0 592.7,448.7 591.6,449.0 C590.4,449.3 589.2,449.7 588.1,449.7 C587.0,449.6 585.9,449.0 584.8,448.9 C583.7,448.9 582.5,449.1 581.4,449.4 C580.2,449.6 578.7,450.7 577.7,450.5 C576.6,450.3 576.0,448.5 575.0,448.2 C574.0,447.8 572.7,448.4 571.5,448.6 C570.3,448.8 569.1,449.2 567.9,449.3 C566.7,449.5 565.7,449.3 564.4,449.5 C563.2,449.7 561.6,450.5 560.5,450.5 C559.3,450.6 558.6,449.8 557.6,449.6 C556.6,449.4 555.1,450.0 554.4,449.3 C553.7,448.7 553.9,446.6 553.4,445.6 C552.8,444.7 551.8,444.4 551.2,443.5 C550.5,442.7 549.9,441.8 549.5,440.6 C549.2,439.4 549.5,437.5 549.2,436.3 C549.0,435.0 548.7,433.9 548.2,432.8 C547.8,431.8 546.9,431.1 546.4,430.2 C545.9,429.2 545.9,428.0 545.4,427.1 C544.9,426.2 543.5,425.9 543.3,424.7 C543.1,423.6 544.4,421.5 544.3,420.4 C544.1,419.2 543.0,418.6 542.5,417.6 C542.1,416.6 542.1,415.4 541.8,414.3 C541.5,413.2 540.4,412.5 540.6,411.3 C540.8,410.0 542.9,408.2 542.9,407.0 C543.0,405.8 540.9,405.3 540.7,404.2 C540.5,403.1 541.6,401.7 541.9,400.5 C542.1,399.3 542.5,398.2 542.4,397.1 C542.2,396.0 541.1,395.0 540.8,393.9 C540.6,392.8 540.5,391.6 540.7,390.5 C540.9,389.4 541.5,388.2 542.1,387.2 C542.8,386.1 544.4,385.2 544.4,384.1 C544.4,382.9 542.1,381.4 542.4,380.3 C542.6,379.3 545.2,378.8 545.9,377.8 C546.7,376.9 546.5,375.7 546.9,374.7 C547.3,373.7 547.6,372.5 548.4,371.6 C549.2,370.8 550.8,370.3 551.7,369.6 C552.6,368.9 553.1,368.0 554.0,367.3 C554.8,366.7 555.9,366.0 556.9,365.5 C557.9,364.9 559.1,364.5 560.1,364.0 C561.2,363.5 562.3,363.2 563.1,362.5 C563.9,361.7 563.8,360.1 564.7,359.5 C565.5,358.8 567.4,359.4 568.3,358.7 C569.3,358.0 569.3,356.0 570.3,355.5 C571.2,355.0 573.2,356.3 574.1,355.6 C575.0,354.9 574.7,351.7 575.6,351.1 Z"/></defs>
<use href="#bp6" fill="url(#pGa)" />
<use href="#bp6" fill="#fff" filter="url(#ovD1)" />
<use href="#bp6" fill="none" stroke="#d4d8d0" stroke-width="1.1" stroke-opacity="0.55" stroke-dasharray="2 1.2 1 1.5"/>
<g stroke="#c8c8c8" stroke-width="0.55"><circle cx="576.0" cy="351.9" r="1.3" fill="#606060"/><circle cx="579.5" cy="350.6" r="1.6" fill="#6a6a6a"/><circle cx="583.5" cy="350.9" r="1.2" fill="#4a4a4a"/><circle cx="590.9" cy="349.8" r="1.3" fill="#4a4a4a"/><circle cx="598.4" cy="350.8" r="1.6" fill="#6a6a6a"/><circle cx="602.0" cy="352.1" r="1.1" fill="#606060"/><circle cx="605.4" cy="354.0" r="1.8" fill="#4a4a4a"/><circle cx="621.3" cy="364.3" r="1.6" fill="#4a4a4a"/><circle cx="624.7" cy="366.0" r="1.7" fill="#6a6a6a"/><circle cx="639.7" cy="377.9" r="2.0" fill="#4a4a4a"/><circle cx="641.6" cy="380.9" r="1.2" fill="#6a6a6a"/><circle cx="645.2" cy="387.7" r="1.4" fill="#555"/><circle cx="646.9" cy="391.1" r="1.4" fill="#6a6a6a"/><circle cx="648.7" cy="394.6" r="1.3" fill="#6a6a6a"/><circle cx="647.8" cy="398.2" r="1.3" fill="#555"/><circle cx="647.6" cy="402.0" r="1.8" fill="#6a6a6a"/><circle cx="647.6" cy="405.9" r="1.8" fill="#6a6a6a"/><circle cx="646.1" cy="413.4" r="1.7" fill="#6a6a6a"/><circle cx="644.6" cy="416.9" r="1.2" fill="#4a4a4a"/><circle cx="643.4" cy="420.5" r="2.0" fill="#606060"/><circle cx="637.6" cy="430.2" r="1.3" fill="#4a4a4a"/><circle cx="634.6" cy="437.4" r="1.6" fill="#4a4a4a"/><circle cx="631.7" cy="444.2" r="1.9" fill="#555"/><circle cx="550.3" cy="440.3" r="1.6" fill="#606060"/><circle cx="548.5" cy="437.0" r="1.0" fill="#606060"/><circle cx="544.8" cy="430.5" r="1.1" fill="#4a4a4a"/><circle cx="542.6" cy="419.3" r="1.4" fill="#606060"/><circle cx="541.7" cy="411.6" r="1.0" fill="#6a6a6a"/><circle cx="540.7" cy="408.1" r="1.9" fill="#6a6a6a"/><circle cx="541.1" cy="404.1" r="1.5" fill="#6a6a6a"/><circle cx="540.6" cy="400.3" r="1.3" fill="#6a6a6a"/><circle cx="540.0" cy="396.6" r="1.4" fill="#6a6a6a"/><circle cx="541.1" cy="392.8" r="1.2" fill="#4a4a4a"/><circle cx="541.0" cy="389.0" r="2.0" fill="#6a6a6a"/><circle cx="542.2" cy="385.3" r="1.7" fill="#6a6a6a"/><circle cx="543.2" cy="381.6" r="1.6" fill="#4a4a4a"/><circle cx="546.5" cy="374.9" r="1.5" fill="#4a4a4a"/><circle cx="550.8" cy="368.7" r="1.2" fill="#6a6a6a"/><circle cx="554.0" cy="366.5" r="1.4" fill="#6a6a6a"/><circle cx="556.9" cy="364.1" r="1.3" fill="#555"/><circle cx="560.1" cy="362.1" r="2.0" fill="#555"/><circle cx="563.8" cy="360.6" r="1.8" fill="#6a6a6a"/><circle cx="570.1" cy="356.6" r="1.0" fill="#606060"/><circle cx="572.9" cy="354.1" r="1.3" fill="#4a4a4a"/></g>
<g stroke="#bdb58a" stroke-width="0.8" opacity="0.85">
<path d="M530.6999999999999,441.3H557.6999999999999M531.0999999999999,441.3V439.0M544.1999999999999,441.3V439.8M557.3,441.3V439.0"/>
</g>
<rect x="531.5" y="443.0" width="24" height="1.1" fill="#bdb58a" opacity="0.45"/>
<rect x="648.7" y="441.0" width="18.6" height="4.6" rx="2.3" fill="#5e5e5e" stroke="#b4b4b4" stroke-width="0.7"/>
<rect x="651.5" y="442.8" width="12.5" height="1.1" fill="#d0d0d0" opacity="0.8"/>
</g>
<rect x="523.8" y="450.0" width="148.2" height="109.8" fill="#505150"/>
<rect x="523.8" y="450.0" width="148.2" height="109.8" fill="#fff" filter="url(#bgn)"/>
<g clip-path="url(#cp31)">
<defs><path id="bp7" d="M526.9,494.0 C527.3,492.9 527.5,492.0 528.1,491.1 C528.7,490.1 529.7,489.1 530.5,488.2 C531.3,487.3 531.5,486.1 532.9,485.4 C534.3,484.7 537.6,484.7 539.1,484.2 C540.6,483.7 540.9,482.9 541.8,482.2 C542.7,481.5 543.7,480.9 544.4,480.1 C545.0,479.3 545.1,478.1 545.9,477.3 C546.7,476.5 548.2,476.0 549.2,475.2 C550.1,474.4 550.6,473.3 551.8,472.7 C553.0,472.1 555.3,472.3 556.3,471.5 C557.3,470.7 557.3,469.3 557.8,468.1 C558.3,466.9 558.7,465.6 559.4,464.5 C560.0,463.4 560.5,461.8 561.7,461.5 C562.9,461.2 565.2,462.5 566.7,462.6 C568.2,462.7 569.4,462.7 570.4,462.2 C571.5,461.7 572.0,460.2 573.0,459.6 C574.0,458.9 575.2,458.3 576.5,458.2 C577.7,458.2 579.4,459.6 580.6,459.3 C581.8,459.0 582.6,456.7 583.7,456.4 C584.9,456.1 586.3,457.3 587.5,457.3 C588.7,457.3 589.8,456.3 590.9,456.2 C592.0,456.1 593.1,456.2 594.2,456.7 C595.2,457.2 596.2,458.6 597.3,459.3 C598.4,460.0 599.4,460.5 600.6,460.9 C601.7,461.3 603.1,461.3 604.2,461.9 C605.3,462.4 606.1,463.7 607.3,464.2 C608.4,464.7 610.0,464.5 611.2,464.8 C612.4,465.1 613.7,465.5 614.8,466.0 C615.8,466.6 616.4,467.7 617.4,468.3 C618.5,468.8 620.1,468.9 621.3,469.3 C622.5,469.8 623.5,470.4 624.7,470.9 C626.0,471.4 627.6,471.6 628.6,472.3 C629.6,472.9 629.6,474.1 630.6,474.8 C631.6,475.5 633.6,475.7 634.4,476.5 C635.3,477.3 635.1,478.7 635.6,479.8 C636.0,480.8 636.0,481.9 637.1,482.6 C638.3,483.4 641.2,483.6 642.4,484.4 C643.6,485.2 643.7,486.2 644.2,487.3 C644.8,488.4 645.4,489.6 645.8,490.7 C646.1,491.9 646.2,493.1 646.4,494.3 C646.6,495.4 646.9,496.6 647.1,497.7 C647.4,498.8 647.2,499.9 647.9,501.1 C648.6,502.3 650.1,503.5 651.1,504.7 C652.1,505.8 652.8,506.9 653.7,507.9 C654.5,509.0 655.7,510.0 656.2,511.0 C656.7,511.9 656.7,512.7 656.9,513.6 C657.0,514.6 657.1,515.6 656.9,516.7 C656.8,517.9 656.8,519.3 656.2,520.4 C655.6,521.4 653.6,522.0 653.4,523.2 C653.1,524.4 654.7,526.5 654.5,527.7 C654.2,528.9 652.5,529.4 651.8,530.4 C651.1,531.4 650.6,532.4 650.1,533.5 C649.6,534.6 648.9,535.5 648.9,536.9 C649.0,538.4 650.6,541.0 650.4,542.2 C650.2,543.5 648.3,543.5 647.8,544.5 C647.4,545.5 647.9,547.2 647.6,548.4 C647.4,549.5 646.4,549.9 646.2,551.1 C646.1,552.3 646.6,554.2 646.6,555.6 C646.7,557.0 646.8,558.5 646.4,559.4 C646.0,560.3 645.1,560.7 644.1,561.0 C643.1,561.2 641.5,560.7 640.4,560.9 C639.4,561.2 638.8,562.0 637.8,562.3 C636.9,562.7 636.0,563.2 634.6,563.0 C633.2,562.7 630.7,560.8 629.5,560.8 C628.3,560.9 628.2,562.8 627.2,563.2 C626.3,563.7 625.0,563.7 623.7,563.6 C622.4,563.5 620.9,563.0 619.5,562.7 C618.1,562.4 616.8,562.1 615.4,561.8 C614.1,561.5 612.7,561.1 611.5,560.9 C610.2,560.8 609.0,560.5 607.8,560.9 C606.7,561.3 605.9,563.1 604.7,563.1 C603.5,563.0 601.8,560.8 600.5,560.5 C599.2,560.1 598.2,560.7 597.0,561.0 C595.8,561.3 594.6,561.9 593.4,562.2 C592.2,562.5 591.0,562.5 589.7,562.6 C588.5,562.7 587.2,563.1 586.0,562.9 C584.8,562.7 583.7,561.3 582.5,561.2 C581.2,561.1 579.8,562.3 578.6,562.3 C577.4,562.2 576.5,560.8 575.3,560.7 C574.1,560.6 572.7,561.4 571.4,561.7 C570.1,561.9 568.6,562.6 567.5,562.4 C566.3,562.2 565.7,560.7 564.6,560.4 C563.5,560.1 562.3,560.3 560.9,560.7 C559.5,561.0 557.6,562.4 556.3,562.6 C554.9,562.8 554.0,562.1 552.9,562.0 C551.8,561.8 550.8,561.5 549.5,561.6 C548.2,561.6 546.6,562.2 545.2,562.5 C543.8,562.7 542.0,563.4 540.9,563.2 C539.9,562.9 540.0,561.3 539.0,561.0 C538.0,560.7 536.4,561.2 535.0,561.4 C533.6,561.6 531.7,562.4 530.6,562.2 C529.6,562.0 528.9,561.4 528.6,560.3 C528.4,559.2 529.5,556.8 529.3,555.6 C529.0,554.5 527.4,554.7 527.2,553.5 C526.9,552.4 527.7,550.4 527.9,548.9 C528.1,547.5 528.3,546.0 528.5,544.6 C528.6,543.2 528.7,541.8 528.6,540.6 C528.5,539.4 528.3,538.3 527.8,537.3 C527.3,536.4 525.8,536.0 525.7,534.8 C525.6,533.6 527.3,531.3 527.2,530.1 C527.0,528.9 525.0,528.6 524.7,527.5 C524.3,526.4 525.0,524.8 525.0,523.5 C524.9,522.3 524.4,521.2 524.5,519.9 C524.6,518.6 525.5,517.1 525.7,515.7 C525.9,514.4 525.6,513.3 525.7,512.0 C525.8,510.8 526.2,509.5 526.3,508.2 C526.5,507.0 526.6,505.8 526.5,504.6 C526.4,503.4 525.9,502.3 525.8,501.1 C525.7,500.0 525.7,498.8 525.9,497.6 C526.0,496.4 526.6,495.1 526.9,494.0 Z"/></defs>
<use href="#bp7" fill="url(#pGb)" />
<use href="#bp7" fill="#fff" filter="url(#ovD1)" />
<use href="#bp7" fill="none" stroke="#d4d8d0" stroke-width="1.1" stroke-opacity="0.55" stroke-dasharray="2 1.2 1 1.5"/>
<g stroke="#c8c8c8" stroke-width="0.55"><circle cx="526.6" cy="494.0" r="1.9" fill="#4a4a4a"/><circle cx="529.0" cy="490.9" r="1.4" fill="#4a4a4a"/><circle cx="531.3" cy="487.7" r="1.5" fill="#4a4a4a"/><circle cx="537.9" cy="482.8" r="1.3" fill="#4a4a4a"/><circle cx="541.4" cy="480.6" r="1.3" fill="#4a4a4a"/><circle cx="544.6" cy="478.2" r="1.2" fill="#555"/><circle cx="548.3" cy="475.9" r="2.0" fill="#555"/><circle cx="550.8" cy="473.0" r="1.4" fill="#4a4a4a"/><circle cx="554.6" cy="470.6" r="1.1" fill="#6a6a6a"/><circle cx="556.6" cy="467.0" r="1.4" fill="#4a4a4a"/><circle cx="570.8" cy="459.9" r="1.7" fill="#6a6a6a"/><circle cx="578.8" cy="458.2" r="1.1" fill="#4a4a4a"/><circle cx="582.6" cy="456.3" r="1.9" fill="#606060"/><circle cx="586.7" cy="456.1" r="1.9" fill="#6a6a6a"/><circle cx="590.6" cy="455.0" r="1.9" fill="#555"/><circle cx="594.1" cy="456.9" r="1.1" fill="#4a4a4a"/><circle cx="597.7" cy="459.2" r="1.4" fill="#4a4a4a"/><circle cx="601.3" cy="461.2" r="1.1" fill="#6a6a6a"/><circle cx="608.8" cy="464.4" r="1.1" fill="#6a6a6a"/><circle cx="616.4" cy="467.4" r="1.4" fill="#555"/><circle cx="624.1" cy="470.6" r="1.2" fill="#606060"/><circle cx="634.9" cy="476.6" r="1.7" fill="#606060"/><circle cx="636.8" cy="480.0" r="1.3" fill="#555"/><circle cx="644.8" cy="489.1" r="1.6" fill="#6a6a6a"/><circle cx="646.5" cy="492.8" r="1.0" fill="#606060"/><circle cx="650.0" cy="500.5" r="1.5" fill="#606060"/><circle cx="651.3" cy="504.4" r="1.7" fill="#606060"/><circle cx="656.4" cy="522.0" r="1.8" fill="#606060"/><circle cx="655.1" cy="525.9" r="1.9" fill="#555"/><circle cx="652.5" cy="533.7" r="1.6" fill="#606060"/><circle cx="651.0" cy="537.4" r="1.8" fill="#606060"/><circle cx="649.7" cy="541.3" r="1.2" fill="#4a4a4a"/><circle cx="647.7" cy="553.3" r="1.1" fill="#555"/><circle cx="646.8" cy="557.0" r="1.6" fill="#606060"/><circle cx="528.1" cy="554.8" r="1.2" fill="#6a6a6a"/><circle cx="526.7" cy="542.7" r="1.1" fill="#4a4a4a"/><circle cx="525.7" cy="530.5" r="1.1" fill="#4a4a4a"/><circle cx="525.7" cy="526.3" r="1.3" fill="#606060"/><circle cx="525.2" cy="522.3" r="1.7" fill="#606060"/><circle cx="523.6" cy="510.2" r="1.7" fill="#6a6a6a"/><circle cx="524.3" cy="505.9" r="1.1" fill="#555"/><circle cx="525.2" cy="497.9" r="1.2" fill="#6a6a6a"/></g>
<g stroke="#bdb58a" stroke-width="0.8" opacity="0.85">
<path d="M530.6999999999999,554.3H557.6999999999999M531.0999999999999,554.3V552.0M544.1999999999999,554.3V552.8M557.3,554.3V552.0"/>
</g>
<rect x="531.5" y="556.0" width="24" height="1.1" fill="#bdb58a" opacity="0.45"/>
<rect x="648.7" y="554.0" width="18.6" height="4.6" rx="2.3" fill="#5e5e5e" stroke="#b4b4b4" stroke-width="0.7"/>
<rect x="651.5" y="555.8" width="12.5" height="1.1" fill="#d0d0d0" opacity="0.8"/>
</g>
<text x="0" y="0" font-size="20.4" text-anchor="start" fill="#111" stroke="#111" stroke-width="0.35" transform="translate(321.6,625.2) scale(0.8,1)">F</text>
<line x1="390.9" y1="626.0" x2="390.9" y2="815.2" stroke="#1e1e1e" stroke-width="1.3" />
<line x1="390.3" y1="814.6" x2="613.8" y2="814.6" stroke="#1e1e1e" stroke-width="1.3" />
<line x1="387.6" y1="814.6" x2="390.9" y2="814.6" stroke="#1e1e1e" stroke-width="1.2" />
<text x="385.8" y="818.3" font-size="10.4" text-anchor="end" fill="#1a1a1a" stroke="#1a1a1a" stroke-width="0.12" >0</text>
<line x1="387.6" y1="776.9" x2="390.9" y2="776.9" stroke="#1e1e1e" stroke-width="1.2" />
<text x="385.8" y="780.6" font-size="10.4" text-anchor="end" fill="#1a1a1a" stroke="#1a1a1a" stroke-width="0.12" >5000</text>
<line x1="387.6" y1="739.3" x2="390.9" y2="739.3" stroke="#1e1e1e" stroke-width="1.2" />
<text x="385.8" y="743.0" font-size="10.4" text-anchor="end" fill="#1a1a1a" stroke="#1a1a1a" stroke-width="0.12" >10000</text>
<line x1="387.6" y1="701.6" x2="390.9" y2="701.6" stroke="#1e1e1e" stroke-width="1.2" />
<text x="385.8" y="705.3" font-size="10.4" text-anchor="end" fill="#1a1a1a" stroke="#1a1a1a" stroke-width="0.12" >15000</text>
<line x1="387.6" y1="664.0" x2="390.9" y2="664.0" stroke="#1e1e1e" stroke-width="1.2" />
<text x="385.8" y="667.7" font-size="10.4" text-anchor="end" fill="#1a1a1a" stroke="#1a1a1a" stroke-width="0.12" >20000</text>
<line x1="387.6" y1="626.3" x2="390.9" y2="626.3" stroke="#1e1e1e" stroke-width="1.2" />
<text x="385.8" y="630.0" font-size="10.4" text-anchor="end" fill="#1a1a1a" stroke="#1a1a1a" stroke-width="0.12" >25000</text>
<line x1="391.4" y1="814.6" x2="391.4" y2="817.4" stroke="#1e1e1e" stroke-width="1.0" />
<line x1="400.6" y1="814.6" x2="400.6" y2="817.4" stroke="#1e1e1e" stroke-width="1.0" />
<line x1="409.9" y1="814.6" x2="409.9" y2="817.4" stroke="#1e1e1e" stroke-width="1.0" />
<line x1="419.1" y1="814.6" x2="419.1" y2="817.4" stroke="#1e1e1e" stroke-width="1.0" />
<line x1="428.4" y1="814.6" x2="428.4" y2="817.4" stroke="#1e1e1e" stroke-width="1.0" />
<line x1="437.6" y1="814.6" x2="437.6" y2="817.4" stroke="#1e1e1e" stroke-width="1.0" />
<line x1="446.8" y1="814.6" x2="446.8" y2="817.4" stroke="#1e1e1e" stroke-width="1.0" />
<line x1="456.1" y1="814.6" x2="456.1" y2="817.4" stroke="#1e1e1e" stroke-width="1.0" />
<line x1="465.3" y1="814.6" x2="465.3" y2="817.4" stroke="#1e1e1e" stroke-width="1.0" />
<line x1="474.6" y1="814.6" x2="474.6" y2="817.4" stroke="#1e1e1e" stroke-width="1.0" />
<line x1="483.8" y1="814.6" x2="483.8" y2="817.4" stroke="#1e1e1e" stroke-width="1.0" />
<line x1="493.0" y1="814.6" x2="493.0" y2="817.4" stroke="#1e1e1e" stroke-width="1.0" />
<line x1="502.3" y1="814.6" x2="502.3" y2="817.4" stroke="#1e1e1e" stroke-width="1.0" />
<line x1="511.5" y1="814.6" x2="511.5" y2="817.4" stroke="#1e1e1e" stroke-width="1.0" />
<line x1="520.8" y1="814.6" x2="520.8" y2="817.4" stroke="#1e1e1e" stroke-width="1.0" />
<line x1="530.0" y1="814.6" x2="530.0" y2="817.4" stroke="#1e1e1e" stroke-width="1.0" />
<line x1="539.2" y1="814.6" x2="539.2" y2="817.4" stroke="#1e1e1e" stroke-width="1.0" />
<line x1="548.5" y1="814.6" x2="548.5" y2="817.4" stroke="#1e1e1e" stroke-width="1.0" />
<line x1="557.7" y1="814.6" x2="557.7" y2="817.4" stroke="#1e1e1e" stroke-width="1.0" />
<line x1="567.0" y1="814.6" x2="567.0" y2="817.4" stroke="#1e1e1e" stroke-width="1.0" />
<line x1="576.2" y1="814.6" x2="576.2" y2="817.4" stroke="#1e1e1e" stroke-width="1.0" />
<line x1="585.4" y1="814.6" x2="585.4" y2="817.4" stroke="#1e1e1e" stroke-width="1.0" />
<line x1="594.7" y1="814.6" x2="594.7" y2="817.4" stroke="#1e1e1e" stroke-width="1.0" />
<line x1="603.9" y1="814.6" x2="603.9" y2="817.4" stroke="#1e1e1e" stroke-width="1.0" />
<line x1="613.2" y1="814.6" x2="613.2" y2="817.4" stroke="#1e1e1e" stroke-width="1.0" />
<text x="391.4" y="830.0" font-size="11" text-anchor="middle" fill="#1a1a1a" stroke="#1a1a1a" stroke-width="0.12" >0</text>
<text x="483.8" y="830.0" font-size="11" text-anchor="middle" fill="#1a1a1a" stroke="#1a1a1a" stroke-width="0.12" >100</text>
<text x="576.2" y="830.0" font-size="11" text-anchor="middle" fill="#1a1a1a" stroke="#1a1a1a" stroke-width="0.12" >200</text>
<text x="502.4" y="844.2" font-size="11.8" text-anchor="middle" fill="#1a1a1a" stroke="#1a1a1a" stroke-width="0.12" >Hours</text>
<text x="0" y="0" font-size="11.2" fill="#1a1a1a" stroke="#1a1a1a" stroke-width="0.12" text-anchor="middle" textLength="161.6" lengthAdjust="spacingAndGlyphs" transform="translate(352.2,718.8) rotate(-90)">Mean Image Integrated Intensity</text>
<g stroke="#9a9a9a" stroke-width="1.0" opacity="1.0">
<path d="M391.4,802.7V808.7M388.6,802.7H394.2M388.6,808.7H394.2"/>
<path d="M400.6,789.5V798.5M397.8,789.5H403.4M397.8,798.5H403.4"/>
<path d="M409.9,787.8V795.8M407.1,787.8H412.7M407.1,795.8H412.7"/>
<path d="M419.1,789.2V798.2M416.3,789.2H421.9M416.3,798.2H421.9"/>
<path d="M428.4,793.2V802.2M425.6,793.2H431.2M425.6,802.2H431.2"/>
<path d="M437.6,794.6V803.6M434.8,794.6H440.4M434.8,803.6H440.4"/>
<path d="M446.8,797.0V807.0M444.0,797.0H449.6M444.0,807.0H449.6"/>
<path d="M456.1,798.0V807.0M453.3,798.0H458.9M453.3,807.0H458.9"/>
<path d="M465.3,799.0V808.0M462.5,799.0H468.1M462.5,808.0H468.1"/>
<path d="M474.6,799.3V808.3M471.8,799.3H477.4M471.8,808.3H477.4"/>
<path d="M483.8,800.0V809.0M481.0,800.0H486.6M481.0,809.0H486.6"/>
<path d="M493.0,800.8V809.8M490.2,800.8H495.8M490.2,809.8H495.8"/>
<path d="M502.3,801.5V810.5M499.5,801.5H505.1M499.5,810.5H505.1"/>
<path d="M511.5,802.1V811.1M508.7,802.1H514.3M508.7,811.1H514.3"/>
<path d="M520.8,802.5V811.5M518.0,802.5H523.6M518.0,811.5H523.6"/>
<path d="M530.0,802.8V811.8M527.2,802.8H532.8M527.2,811.8H532.8"/>
<path d="M539.2,803.1V812.1M536.4,803.1H542.0M536.4,812.1H542.0"/>
<path d="M548.5,803.3V812.3M545.7,803.3H551.3M545.7,812.3H551.3"/>
<path d="M557.7,803.5V812.5M554.9,803.5H560.5M554.9,812.5H560.5"/>
<path d="M567.0,803.6V812.6M564.2,803.6H569.8M564.2,812.6H569.8"/>
<path d="M576.2,803.7V812.7M573.4,803.7H579.0M573.4,812.7H579.0"/>
<path d="M585.4,803.8V812.8M582.6,803.8H588.2M582.6,812.8H588.2"/>
<path d="M594.7,803.9V812.9M591.9,803.9H597.5M591.9,812.9H597.5"/>
<path d="M603.9,804.0V813.0M601.1,804.0H606.7M601.1,813.0H606.7"/>
<path d="M613.2,804.0V813.0M610.4,804.0H616.0M610.4,813.0H616.0"/>
</g>
<g stroke="#444" stroke-width="1.0" opacity="1.0">
<path d="M391.4,799.0V805.0M388.6,799.0H394.2M388.6,805.0H394.2"/>
<path d="M400.6,785.4V792.4M397.8,785.4H403.4M397.8,792.4H403.4"/>
<path d="M409.9,785.9V791.9M407.1,785.9H412.7M407.1,791.9H412.7"/>
<path d="M419.1,788.4V794.4M416.3,788.4H421.9M416.3,794.4H421.9"/>
<path d="M428.4,791.7V797.7M425.6,791.7H431.2M425.6,797.7H431.2"/>
<path d="M437.6,794.2V800.2M434.8,794.2H440.4M434.8,800.2H440.4"/>
<path d="M446.8,796.9V802.9M444.0,796.9H449.6M444.0,802.9H449.6"/>
<path d="M456.1,799.0V805.0M453.3,799.0H458.9M453.3,805.0H458.9"/>
<path d="M465.3,800.0V806.0M462.5,800.0H468.1M462.5,806.0H468.1"/>
<path d="M474.6,800.6V806.6M471.8,800.6H477.4M471.8,806.6H477.4"/>
<path d="M483.8,801.3V807.3M481.0,801.3H486.6M481.0,807.3H486.6"/>
<path d="M493.0,802.0V808.0M490.2,802.0H495.8M490.2,808.0H495.8"/>
<path d="M502.3,802.6V808.6M499.5,802.6H505.1M499.5,808.6H505.1"/>
<path d="M511.5,803.1V809.1M508.7,803.1H514.3M508.7,809.1H514.3"/>
<path d="M520.8,803.5V809.5M518.0,803.5H523.6M518.0,809.5H523.6"/>
<path d="M530.0,803.8V809.8M527.2,803.8H532.8M527.2,809.8H532.8"/>
<path d="M539.2,804.1V810.1M536.4,804.1H542.0M536.4,810.1H542.0"/>
<path d="M548.5,804.3V810.3M545.7,804.3H551.3M545.7,810.3H551.3"/>
<path d="M557.7,804.5V810.5M554.9,804.5H560.5M554.9,810.5H560.5"/>
<path d="M567.0,804.7V810.7M564.2,804.7H569.8M564.2,810.7H569.8"/>
<path d="M576.2,804.8V810.8M573.4,804.8H579.0M573.4,810.8H579.0"/>
<path d="M585.4,804.9V810.9M582.6,804.9H588.2M582.6,810.9H588.2"/>
<path d="M594.7,805.0V811.0M591.9,805.0H597.5M591.9,811.0H597.5"/>
<path d="M603.9,805.1V811.1M601.1,805.1H606.7M601.1,811.1H606.7"/>
<path d="M613.2,805.2V811.2M610.4,805.2H616.0M610.4,811.2H616.0"/>
</g>
<g stroke="#f07a78" stroke-width="1.0" opacity="1.0">
<path d="M391.4,797.1V803.1M388.6,797.1H394.2M388.6,803.1H394.2"/>
<path d="M400.6,756.4V778.4M397.8,756.4H403.4M397.8,778.4H403.4"/>
<path d="M409.9,744.2V771.4M407.1,744.2H412.7M407.1,771.4H412.7"/>
<path d="M419.1,741.4V769.2M416.3,741.4H421.9M416.3,769.2H421.9"/>
<path d="M428.4,742.0V769.2M425.6,742.0H431.2M425.6,769.2H431.2"/>
<path d="M437.6,740.9V766.3M434.8,740.9H440.4M434.8,766.3H440.4"/>
<path d="M446.8,735.1V765.3M444.0,735.1H449.6M444.0,765.3H449.6"/>
<path d="M456.1,737.8V761.2M453.3,737.8H458.9M453.3,761.2H458.9"/>
<path d="M465.3,735.5V756.5M462.5,735.5H468.1M462.5,756.5H468.1"/>
<path d="M474.6,735.5V756.5M471.8,735.5H477.4M471.8,756.5H477.4"/>
<path d="M483.8,734.1V751.5M481.0,734.1H486.6M481.0,751.5H486.6"/>
<path d="M493.0,735.5V749.5M490.2,735.5H495.8M490.2,749.5H495.8"/>
<path d="M502.3,736.2V745.0M499.5,736.2H505.1M499.5,745.0H505.1"/>
<path d="M511.5,743.0V746.0M508.7,743.0H514.3M508.7,746.0H514.3"/>
<path d="M520.8,735.5V751.5M518.0,735.5H523.6M518.0,751.5H523.6"/>
<path d="M530.0,734.4V745.4M527.2,734.4H532.8M527.2,745.4H532.8"/>
<path d="M539.2,732.3V748.3M536.4,732.3H542.0M536.4,748.3H542.0"/>
<path d="M548.5,733.0V753.4M545.7,733.0H551.3M545.7,753.4H551.3"/>
<path d="M557.7,726.0V748.8M554.9,726.0H560.5M554.9,748.8H560.5"/>
<path d="M567.0,717.5V749.3M564.2,717.5H569.8M564.2,749.3H569.8"/>
<path d="M576.2,711.3V733.7M573.4,711.3H579.0M573.4,733.7H579.0"/>
<path d="M585.4,704.3V735.5M582.6,704.3H588.2M582.6,735.5H588.2"/>
<path d="M594.7,705.6V731.2M591.9,705.6H597.5M591.9,731.2H597.5"/>
<path d="M603.9,704.5V742.5M601.1,704.5H606.7M601.1,742.5H606.7"/>
<path d="M613.2,713.1V733.3M610.4,713.1H616.0M610.4,733.3H616.0"/>
</g>
<g stroke="#7d8cf5" stroke-width="1.0" opacity="1.0">
<path d="M391.4,790.9V800.9M388.6,790.9H394.2M388.6,800.9H394.2"/>
<path d="M400.6,747.6V773.6M397.8,747.6H403.4M397.8,773.6H403.4"/>
<path d="M409.9,730.2V765.8M407.1,730.2H412.7M407.1,765.8H412.7"/>
<path d="M419.1,723.7V761.7M416.3,723.7H421.9M416.3,761.7H421.9"/>
<path d="M428.4,726.7V760.3M425.6,726.7H431.2M425.6,760.3H431.2"/>
<path d="M437.6,723.3V758.3M434.8,723.3H440.4M434.8,758.3H440.4"/>
<path d="M446.8,720.0V757.2M444.0,720.0H449.6M444.0,757.2H449.6"/>
<path d="M456.1,716.5V753.1M453.3,716.5H458.9M453.3,753.1H458.9"/>
<path d="M465.3,709.3V747.3M462.5,709.3H468.1M462.5,747.3H468.1"/>
<path d="M474.6,711.6V748.8M471.8,711.6H477.4M471.8,748.8H477.4"/>
<path d="M483.8,708.6V742.8M481.0,708.6H486.6M481.0,742.8H486.6"/>
<path d="M493.0,720.6V736.6M490.2,720.6H495.8M490.2,736.6H495.8"/>
<path d="M502.3,702.5V726.5M499.5,702.5H505.1M499.5,726.5H505.1"/>
<path d="M511.5,700.5V730.5M508.7,700.5H514.3M508.7,730.5H514.3"/>
<path d="M520.8,702.8V716.0M518.0,702.8H523.6M518.0,716.0H523.6"/>
<path d="M530.0,681.7V751.7M527.2,681.7H532.8M527.2,751.7H532.8"/>
<path d="M539.2,685.3V727.3M536.4,685.3H542.0M536.4,727.3H542.0"/>
<path d="M548.5,687.0V722.2M545.7,687.0H551.3M545.7,722.2H551.3"/>
<path d="M557.7,695.5V721.3M554.9,695.5H560.5M554.9,721.3H560.5"/>
<path d="M567.0,681.9V716.5M564.2,681.9H569.8M564.2,716.5H569.8"/>
<path d="M576.2,668.7V686.7M573.4,668.7H579.0M573.4,686.7H579.0"/>
<path d="M585.4,648.2V690.8M582.6,648.2H588.2M582.6,690.8H588.2"/>
<path d="M594.7,650.1V694.3M591.9,650.1H597.5M591.9,694.3H597.5"/>
<path d="M603.9,647.6V695.2M601.1,647.6H606.7M601.1,695.2H606.7"/>
<path d="M613.2,653.3V695.3M610.4,653.3H616.0M610.4,695.3H616.0"/>
</g>
<polyline points="391.4,802.0 400.6,788.9 409.9,788.9 419.1,791.4 428.4,794.7 437.6,797.2 446.8,799.9 456.1,802.0 465.3,803.0 474.6,803.6 483.8,804.3 493.0,805.0 502.3,805.6 511.5,806.1 520.8,806.5 530.0,806.8 539.2,807.1 548.5,807.3 557.7,807.5 567.0,807.7 576.2,807.8 585.4,807.9 594.7,808.0 603.9,808.1 613.2,808.2" fill="none" stroke="#1a1a1a" stroke-width="1.1" />
<polyline points="391.4,805.7 400.6,794.0 409.9,791.8 419.1,793.7 428.4,797.7 437.6,799.1 446.8,802.0 456.1,802.5 465.3,803.5 474.6,803.8 483.8,804.5 493.0,805.3 502.3,806.0 511.5,806.6 520.8,807.0 530.0,807.3 539.2,807.6 548.5,807.8 557.7,808.0 567.0,808.1 576.2,808.2 585.4,808.3 594.7,808.4 603.9,808.5 613.2,808.5" fill="none" stroke="#8a8a8a" stroke-width="1.1" />
<polyline points="391.4,800.1 400.6,767.4 409.9,757.8 419.1,755.3 428.4,755.6 437.6,753.6 446.8,750.2 456.1,749.5 465.3,746.0 474.6,746.0 483.8,742.8 493.0,742.5 502.3,740.6 511.5,744.5 520.8,743.5 530.0,739.9 539.2,740.3 548.5,743.2 557.7,737.4 567.0,733.4 576.2,722.5 585.4,719.9 594.7,718.4 603.9,723.5 613.2,723.2" fill="none" stroke="#1a1a1a" stroke-width="1.1" />
<polyline points="391.4,795.9 400.6,760.6 409.9,748.0 419.1,742.7 428.4,743.5 437.6,740.8 446.8,738.6 456.1,734.8 465.3,728.3 474.6,730.2 483.8,725.7 493.0,728.6 502.3,714.5 511.5,715.5 520.8,709.4 530.0,716.7 539.2,706.3 548.5,704.6 557.7,708.4 567.0,699.2 576.2,677.7 585.4,669.5 594.7,672.2 603.9,671.4 613.2,674.3" fill="none" stroke="#1a1a1a" stroke-width="1.1" />
<path d="M391.4,799.4L394.0,802.0L391.4,804.6L388.8,802.0Z" fill="#111"/>
<path d="M400.6,786.3L403.2,788.9L400.6,791.5L398.0,788.9Z" fill="#111"/>
<path d="M409.9,786.3L412.5,788.9L409.9,791.5L407.3,788.9Z" fill="#111"/>
<path d="M419.1,788.8L421.7,791.4L419.1,794.0L416.5,791.4Z" fill="#111"/>
<path d="M428.4,792.1L431.0,794.7L428.4,797.3L425.8,794.7Z" fill="#111"/>
<path d="M437.6,794.6L440.2,797.2L437.6,799.8L435.0,797.2Z" fill="#111"/>
<path d="M446.8,797.3L449.4,799.9L446.8,802.5L444.2,799.9Z" fill="#111"/>
<path d="M456.1,799.4L458.7,802.0L456.1,804.6L453.5,802.0Z" fill="#111"/>
<path d="M465.3,800.4L467.9,803.0L465.3,805.6L462.7,803.0Z" fill="#111"/>
<path d="M474.6,801.0L477.2,803.6L474.6,806.2L472.0,803.6Z" fill="#111"/>
<path d="M483.8,801.7L486.4,804.3L483.8,806.9L481.2,804.3Z" fill="#111"/>
<path d="M493.0,802.4L495.6,805.0L493.0,807.6L490.4,805.0Z" fill="#111"/>
<path d="M502.3,803.0L504.9,805.6L502.3,808.2L499.7,805.6Z" fill="#111"/>
<path d="M511.5,803.5L514.1,806.1L511.5,808.7L508.9,806.1Z" fill="#111"/>
<path d="M520.8,803.9L523.4,806.5L520.8,809.1L518.2,806.5Z" fill="#111"/>
<path d="M530.0,804.2L532.6,806.8L530.0,809.4L527.4,806.8Z" fill="#111"/>
<path d="M539.2,804.5L541.8,807.1L539.2,809.7L536.6,807.1Z" fill="#111"/>
<path d="M548.5,804.7L551.1,807.3L548.5,809.9L545.9,807.3Z" fill="#111"/>
<path d="M557.7,804.9L560.3,807.5L557.7,810.1L555.1,807.5Z" fill="#111"/>
<path d="M567.0,805.1L569.6,807.7L567.0,810.3L564.4,807.7Z" fill="#111"/>
<path d="M576.2,805.2L578.8,807.8L576.2,810.4L573.6,807.8Z" fill="#111"/>
<path d="M585.4,805.3L588.0,807.9L585.4,810.5L582.8,807.9Z" fill="#111"/>
<path d="M594.7,805.4L597.3,808.0L594.7,810.6L592.1,808.0Z" fill="#111"/>
<path d="M603.9,805.5L606.5,808.1L603.9,810.7L601.3,808.1Z" fill="#111"/>
<path d="M613.2,805.6L615.8,808.2L613.2,810.8L610.6,808.2Z" fill="#111"/>
<path d="M391.4,802.9L394.2,807.8L388.6,807.8Z" fill="#9c9c9c"/>
<path d="M400.6,791.2L403.4,796.1L397.8,796.1Z" fill="#9c9c9c"/>
<path d="M409.9,789.0L412.7,793.9L407.1,793.9Z" fill="#9c9c9c"/>
<path d="M419.1,790.9L421.9,795.8L416.3,795.8Z" fill="#9c9c9c"/>
<path d="M428.4,794.9L431.2,799.8L425.6,799.8Z" fill="#9c9c9c"/>
<path d="M437.6,796.3L440.4,801.2L434.8,801.2Z" fill="#9c9c9c"/>
<path d="M446.8,799.2L449.6,804.1L444.0,804.1Z" fill="#9c9c9c"/>
<path d="M456.1,799.7L458.9,804.6L453.3,804.6Z" fill="#9c9c9c"/>
<path d="M465.3,800.7L468.1,805.6L462.5,805.6Z" fill="#9c9c9c"/>
<path d="M474.6,801.0L477.4,805.9L471.8,805.9Z" fill="#9c9c9c"/>
<path d="M483.8,801.7L486.6,806.6L481.0,806.6Z" fill="#9c9c9c"/>
<path d="M493.0,802.5L495.8,807.4L490.2,807.4Z" fill="#9c9c9c"/>
<path d="M502.3,803.2L505.1,808.1L499.5,808.1Z" fill="#9c9c9c"/>
<path d="M511.5,803.8L514.3,808.7L508.7,808.7Z" fill="#9c9c9c"/>
<path d="M520.8,804.2L523.6,809.1L518.0,809.1Z" fill="#9c9c9c"/>
<path d="M530.0,804.5L532.8,809.4L527.2,809.4Z" fill="#9c9c9c"/>
<path d="M539.2,804.8L542.0,809.7L536.4,809.7Z" fill="#9c9c9c"/>
<path d="M548.5,805.0L551.3,809.9L545.7,809.9Z" fill="#9c9c9c"/>
<path d="M557.7,805.2L560.5,810.1L554.9,810.1Z" fill="#9c9c9c"/>
<path d="M567.0,805.3L569.8,810.2L564.2,810.2Z" fill="#9c9c9c"/>
<path d="M576.2,805.4L579.0,810.3L573.4,810.3Z" fill="#9c9c9c"/>
<path d="M585.4,805.5L588.2,810.4L582.6,810.4Z" fill="#9c9c9c"/>
<path d="M594.7,805.6L597.5,810.5L591.9,810.5Z" fill="#9c9c9c"/>
<path d="M603.9,805.7L606.7,810.6L601.1,810.6Z" fill="#9c9c9c"/>
<path d="M613.2,805.7L616.0,810.6L610.4,810.6Z" fill="#9c9c9c"/>
<rect x="388.6" y="793.1" width="5.6" height="5.6" fill="#3a46f0"/>
<rect x="397.8" y="757.8" width="5.6" height="5.6" fill="#3a46f0"/>
<rect x="407.1" y="745.2" width="5.6" height="5.6" fill="#3a46f0"/>
<rect x="416.3" y="739.9" width="5.6" height="5.6" fill="#3a46f0"/>
<rect x="425.6" y="740.7" width="5.6" height="5.6" fill="#3a46f0"/>
<rect x="434.8" y="738.0" width="5.6" height="5.6" fill="#3a46f0"/>
<rect x="444.0" y="735.8" width="5.6" height="5.6" fill="#3a46f0"/>
<rect x="453.3" y="732.0" width="5.6" height="5.6" fill="#3a46f0"/>
<rect x="462.5" y="725.5" width="5.6" height="5.6" fill="#3a46f0"/>
<rect x="471.8" y="727.4" width="5.6" height="5.6" fill="#3a46f0"/>
<rect x="481.0" y="722.9" width="5.6" height="5.6" fill="#3a46f0"/>
<rect x="490.2" y="725.8" width="5.6" height="5.6" fill="#3a46f0"/>
<rect x="499.5" y="711.7" width="5.6" height="5.6" fill="#3a46f0"/>
<rect x="508.7" y="712.7" width="5.6" height="5.6" fill="#3a46f0"/>
<rect x="518.0" y="706.6" width="5.6" height="5.6" fill="#3a46f0"/>
<rect x="527.2" y="713.9" width="5.6" height="5.6" fill="#3a46f0"/>
<rect x="536.4" y="703.5" width="5.6" height="5.6" fill="#3a46f0"/>
<rect x="545.7" y="701.8" width="5.6" height="5.6" fill="#3a46f0"/>
<rect x="554.9" y="705.6" width="5.6" height="5.6" fill="#3a46f0"/>
<rect x="564.2" y="696.4" width="5.6" height="5.6" fill="#3a46f0"/>
<rect x="573.4" y="674.9" width="5.6" height="5.6" fill="#3a46f0"/>
<rect x="582.6" y="666.7" width="5.6" height="5.6" fill="#3a46f0"/>
<rect x="591.9" y="669.4" width="5.6" height="5.6" fill="#3a46f0"/>
<rect x="601.1" y="668.6" width="5.6" height="5.6" fill="#3a46f0"/>
<rect x="610.4" y="671.5" width="5.6" height="5.6" fill="#3a46f0"/>
<circle cx="391.4" cy="800.1" r="2.9" fill="#ee2222"/>
<circle cx="400.6" cy="767.4" r="2.9" fill="#ee2222"/>
<circle cx="409.9" cy="757.8" r="2.9" fill="#ee2222"/>
<circle cx="419.1" cy="755.3" r="2.9" fill="#ee2222"/>
<circle cx="428.4" cy="755.6" r="2.9" fill="#ee2222"/>
<circle cx="437.6" cy="753.6" r="2.9" fill="#ee2222"/>
<circle cx="446.8" cy="750.2" r="2.9" fill="#ee2222"/>
<circle cx="456.1" cy="749.5" r="2.9" fill="#ee2222"/>
<circle cx="465.3" cy="746.0" r="2.9" fill="#ee2222"/>
<circle cx="474.6" cy="746.0" r="2.9" fill="#ee2222"/>
<circle cx="483.8" cy="742.8" r="2.9" fill="#ee2222"/>
<circle cx="493.0" cy="742.5" r="2.9" fill="#ee2222"/>
<circle cx="502.3" cy="740.6" r="2.9" fill="#ee2222"/>
<circle cx="511.5" cy="744.5" r="2.9" fill="#ee2222"/>
<circle cx="520.8" cy="743.5" r="2.9" fill="#ee2222"/>
<circle cx="530.0" cy="739.9" r="2.9" fill="#ee2222"/>
<circle cx="539.2" cy="740.3" r="2.9" fill="#ee2222"/>
<circle cx="548.5" cy="743.2" r="2.9" fill="#ee2222"/>
<circle cx="557.7" cy="737.4" r="2.9" fill="#ee2222"/>
<circle cx="567.0" cy="733.4" r="2.9" fill="#ee2222"/>
<circle cx="576.2" cy="722.5" r="2.9" fill="#ee2222"/>
<circle cx="585.4" cy="719.9" r="2.9" fill="#ee2222"/>
<circle cx="594.7" cy="718.4" r="2.9" fill="#ee2222"/>
<circle cx="603.9" cy="723.5" r="2.9" fill="#ee2222"/>
<circle cx="613.2" cy="723.2" r="2.9" fill="#ee2222"/>
<circle cx="409.2" cy="629.7" r="2.6" fill="#ee2222"/>
<rect x="406.8" y="639.8" width="4.8" height="4.8" fill="#3a46f0"/>
<path d="M409.2,651.9L411.8,656.4L406.6,656.4Z" fill="#9c9c9c"/>
<line x1="405.0" y1="666.7" x2="413.4" y2="666.7" stroke="#111" stroke-width="1.1" />
<path d="M409.2,664.5L411.4,666.7L409.2,668.9L407.0,666.7Z" fill="#111"/>
<text x="419.3" y="633.4" font-size="10.1" text-anchor="start" fill="#1a1a1a" stroke="#1a1a1a" stroke-width="0.12" >Empty Vector - Cumate</text>
<text x="419.3" y="645.7" font-size="10.1" text-anchor="start" fill="#1a1a1a" stroke="#1a1a1a" stroke-width="0.12" >APOBEC2 - Cumate</text>
<text x="419.3" y="658.0" font-size="10.1" text-anchor="start" fill="#1a1a1a" stroke="#1a1a1a" stroke-width="0.12" >Empty Vector + Cumate</text>
<text x="419.3" y="670.3" font-size="10.1" text-anchor="start" fill="#1a1a1a" stroke="#1a1a1a" stroke-width="0.12" >APOBEC2 + Cumate</text>
<polyline points="620.0,676.2 628.6,676.2 628.6,722.3 620.0,722.3" fill="none" stroke="#555" stroke-width="1.0" />
<polyline points="654.9,701.4 662.2,701.4 662.2,807.4 620.5,807.4" fill="none" stroke="#555" stroke-width="1.0" />
<text x="641.1" y="706.3" font-size="12.4" text-anchor="middle" fill="#111" font-weight="bold" stroke="#111" stroke-width="0.5">****</text>
<text x="664.6" y="761.0" font-size="13.2" text-anchor="start" fill="#111" font-weight="bold" stroke="#111" stroke-width="0.5">****</text>
</svg></body></html>
